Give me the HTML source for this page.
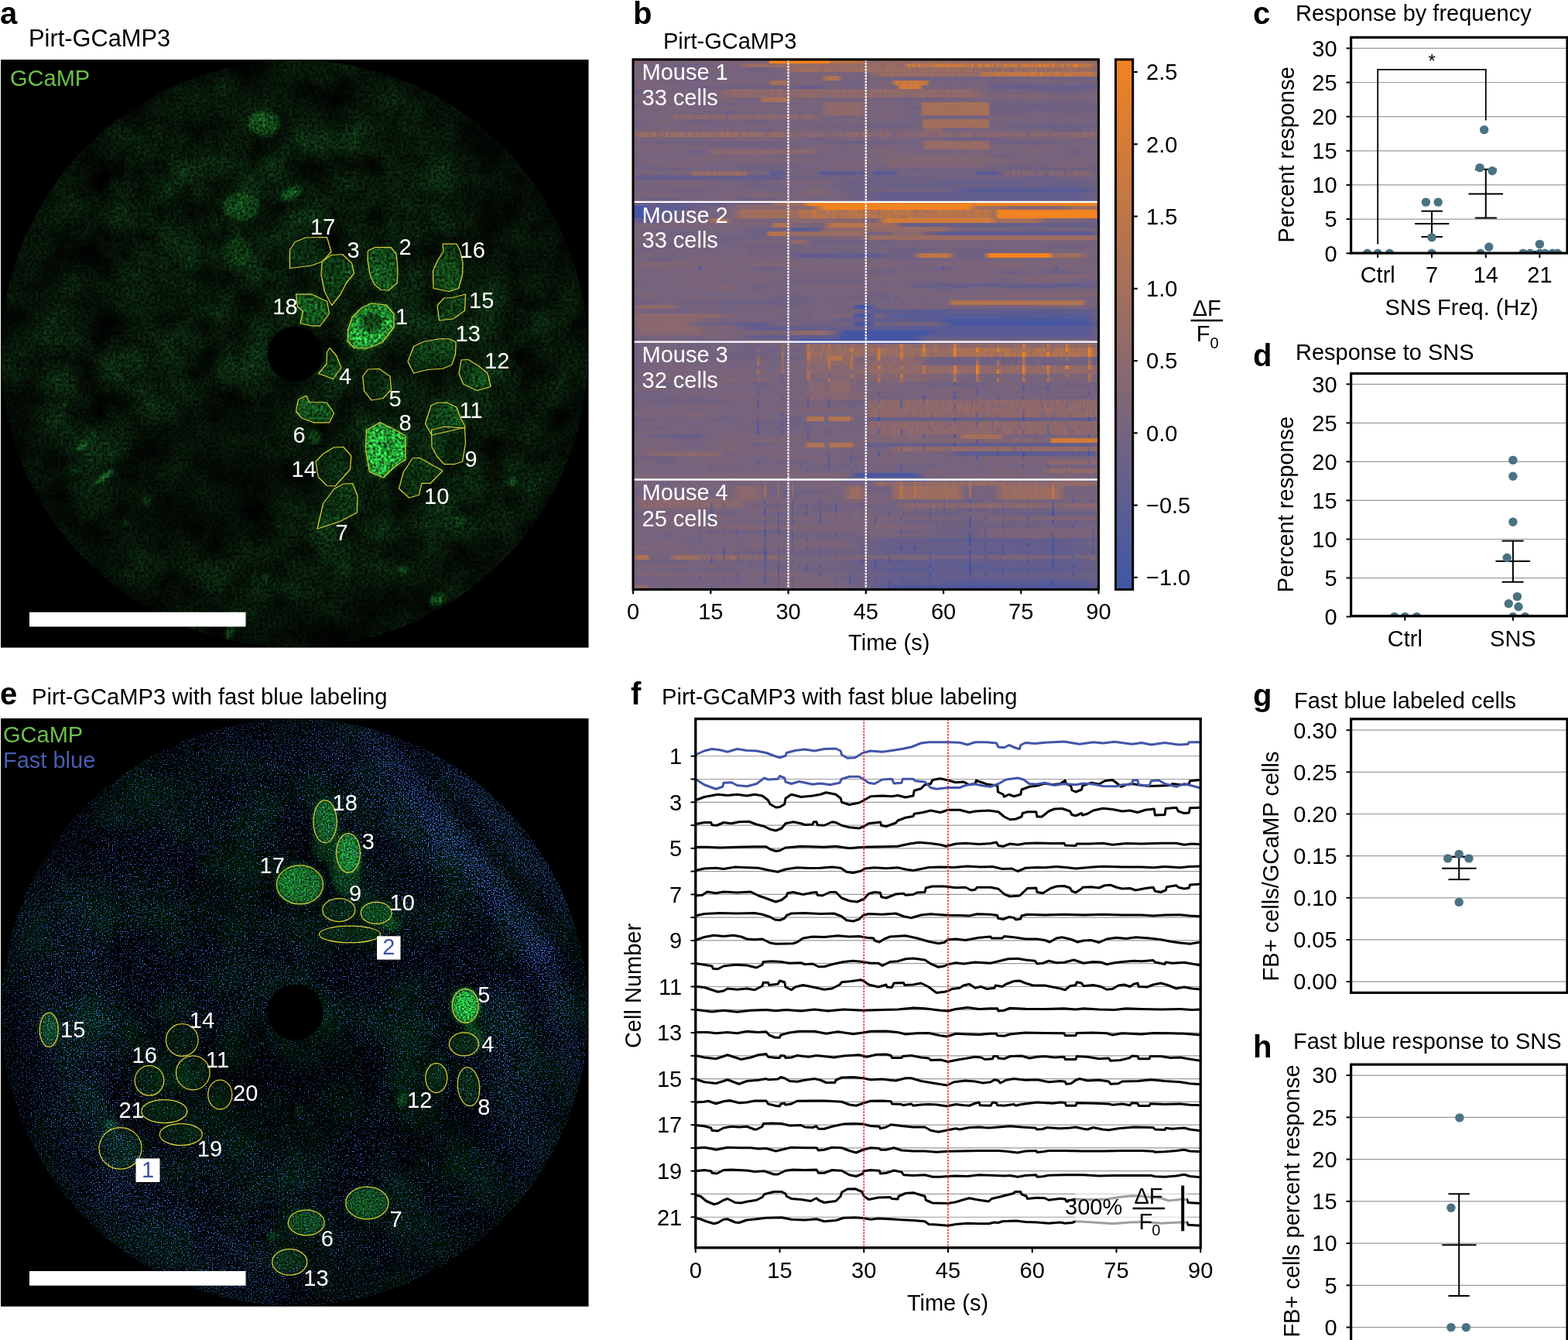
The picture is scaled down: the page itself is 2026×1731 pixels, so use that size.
<!DOCTYPE html>
<html lang="en"><head><meta charset="utf-8"><title>Figure</title>
<style>html,body{margin:0;padding:0;background:#fff}svg{display:block}text{font-family:'Liberation Sans', Arial, Helvetica, sans-serif;white-space:pre}</style></head><body>
<svg width="2026" height="1731" viewBox="0 0 2026 1731" font-family="'Liberation Sans', Arial, Helvetica, sans-serif" font-size="29">
<defs>
<filter id="fa" filterUnits="userSpaceOnUse" x="0" y="76" width="762" height="762" color-interpolation-filters="sRGB">
 <feGaussianBlur in="SourceGraphic" stdDeviation="2.6" result="blob"/>
 <feTurbulence type="fractalNoise" baseFrequency="0.02" numOctaves="4" seed="11" result="t1"/>
 <feColorMatrix in="t1" type="matrix" values="0.07 0 0 0 -0.005  0.26 0 0 0 -0.03  0.1 0 0 0 -0.012  0 0 0 0 1" result="bg"/>
 <feComposite in="blob" in2="bg" operator="arithmetic" k1="0" k2="1" k3="1" k4="0" result="sum"/>
 <feTurbulence type="fractalNoise" baseFrequency="0.28" numOctaves="2" seed="4" result="t2"/>
 <feColorMatrix in="t2" type="matrix" values="1 0 0 0 0  1 0 0 0 0  1 0 0 0 0  0 0 0 0 1" result="gr"/>
 <feComposite in="sum" in2="gr" operator="arithmetic" k1="2.6" k2="-0.3" k3="0" k4="0"/>
</filter>
<filter id="fe" filterUnits="userSpaceOnUse" x="0" y="927" width="762" height="762" color-interpolation-filters="sRGB">
 <feGaussianBlur in="SourceGraphic" stdDeviation="3" result="blob"/>
 <feTurbulence type="fractalNoise" baseFrequency="0.014" numOctaves="3" seed="23" result="t1"/>
 <feColorMatrix in="t1" type="matrix" values="0 0 0 0 0  0.2 0 0 0 -0.065  0.05 0 0 0 -0.015  0 0 0 0 1" result="bg"/>
 <feComposite in="blob" in2="bg" operator="arithmetic" k1="0" k2="1" k3="1" k4="0" result="sum"/>
 <feTurbulence type="fractalNoise" baseFrequency="0.45" numOctaves="2" seed="4" result="t2"/>
 <feColorMatrix in="t2" type="matrix" values="1 0 0 0 0  1 0 0 0 0  1 0 0 0 0  0 0 0 0 1" result="gr"/>
 <feComposite in="sum" in2="gr" operator="arithmetic" k1="2.8" k2="-0.4" k3="0" k4="0"/>
</filter>
<filter id="fb" filterUnits="userSpaceOnUse" x="0" y="927" width="762" height="762" color-interpolation-filters="sRGB">
 <feGaussianBlur in="SourceGraphic" stdDeviation="9" result="dens"/>
 <feTurbulence type="fractalNoise" baseFrequency="0.62" numOctaves="1" seed="31" result="t3"/>
 <feColorMatrix in="t3" type="matrix" values="1 0 0 0 0  1 0 0 0 0  1 0 0 0 0  0 0 0 0 1" result="n3"/>
 <feComposite in="n3" in2="dens" operator="arithmetic" k1="0" k2="5.4" k3="1.5" k4="-3.62" result="v"/>
 <feColorMatrix in="v" type="matrix" values="0.3 0 0 0 0  0.5 0 0 0 0  1 0 0 0 0  0 0 0 0 1"/>
</filter>
<filter id="hz" filterUnits="userSpaceOnUse" x="-50" y="0" width="900" height="1800"><feGaussianBlur stdDeviation="9"/></filter>
<radialGradient id="vg"><stop offset="0" stop-opacity="0"/><stop offset="0.75" stop-opacity="0"/><stop offset="0.94" stop-opacity="0.25"/><stop offset="1" stop-opacity="0.4"/></radialGradient>
<radialGradient id="sh"><stop offset="0" stop-opacity="1"/><stop offset="0.6" stop-opacity="0.7"/><stop offset="1" stop-opacity="0"/></radialGradient>
<clipPath id="ca"><circle cx="380.5" cy="456.8" r="379.3"/></clipPath>
<clipPath id="ce"><circle cx="380.5" cy="1307.8" r="379.3"/></clipPath>
<clipPath id="cc"><rect x="1745.6" y="48.3" width="290" height="278.7"/></clipPath>
<clipPath id="cd"><rect x="1745.6" y="482.5" width="290" height="313.3"/></clipPath>
</defs>
<rect width="2026" height="1731" fill="#fff"/>
<g id="panel-a"><rect x="1" y="77" width="759.5" height="759.6" fill="#000"/>
<g clip-path="url(#ca)"><g filter="url(#fa)">
<rect x="0" y="76" width="762" height="762" fill="#000" fill-opacity="0"/>
<ellipse cx="342" cy="160" rx="20" ry="16" fill="rgb(11,50,16)" />
<ellipse cx="376" cy="250" rx="14" ry="8" fill="rgb(13,61,20)"  transform="rotate(-30 376 250)"/>
<ellipse cx="312" cy="267" rx="24" ry="18" fill="rgb(6,29,9)" />
<ellipse cx="307" cy="325" rx="18" ry="18" fill="rgb(4,22,7)" />
<ellipse cx="105" cy="576" rx="9" ry="2.5" fill="rgb(17,78,25)"  transform="rotate(-35 105 576)"/>
<ellipse cx="135" cy="616" rx="15" ry="2.5" fill="rgb(28,131,43)"  transform="rotate(-35 135 616)"/>
<ellipse cx="407" cy="564" rx="8" ry="9" fill="rgb(12,57,18)" />
<ellipse cx="297" cy="817" rx="4" ry="11" fill="rgb(22,102,33)"  transform="rotate(20 297 817)"/>
<ellipse cx="565" cy="775" rx="11" ry="7" fill="rgb(19,89,29)"  transform="rotate(-30 565 775)"/>
<ellipse cx="520" cy="737" rx="7" ry="5" fill="rgb(10,48,15)" />
<ellipse cx="662" cy="622" rx="3.5" ry="4.5" fill="rgb(22,102,33)" />
<ellipse cx="595" cy="672" rx="9" ry="7" fill="rgb(5,27,8)" />
<ellipse cx="68" cy="455" rx="3" ry="3" fill="rgb(8,40,13)" />
<ellipse cx="190" cy="647" rx="3.5" ry="4.5" fill="rgb(17,78,25)" />
<ellipse cx="163" cy="675" rx="3" ry="3" fill="rgb(12,57,18)" />
<ellipse cx="84" cy="523" rx="2.5" ry="2.5" fill="rgb(12,57,18)" />
<ellipse cx="345" cy="745" rx="3" ry="3" fill="rgb(10,48,15)" />
<ellipse cx="95" cy="608" rx="3" ry="5" fill="rgb(8,40,13)"  transform="rotate(-35 95 608)"/>
<polygon points="374.5,346.5 374.5,322.5 381.25,312.5 395,307 422.5,306.5 428,325.5 416.25,338 402.5,343" fill="rgb(3,17,5)" />
<polygon points="416.25,338 428,329.5 442.5,328.5 454.5,340 457.5,353 447.5,365.5 440,380 428.75,394.5 419.5,377 415,355" fill="rgb(8,40,13)" />
<polygon points="475.5,324 484.5,319.5 505,319.5 512,328 514,347.5 513,365.5 502.5,375 492,374.5 483.75,367.5 478,355 475,335" fill="rgb(11,53,17)" />
<polygon points="572,315 590,315 594.5,324 598,340 597.5,355 592.5,372.5 580,376.5 560,372.5 559.5,350 565,337.5 573,324.5" fill="rgb(11,50,16)" />
<polygon points="565,394.5 573.75,385 585,384.5 601.5,380 600.5,401.25 585.5,412 567.5,413.75" fill="rgb(6,31,10)" />
<polygon points="382.5,380 402.5,380 422.5,389.5 425.5,405 413.75,420.75 402.5,420.75 388,417.5 391.5,402 384.5,396.25" fill="rgb(13,61,20)" />
<polygon points="449.5,426.25 455,410 467.5,397.5 479.5,392 498.75,394 509,405.5 509,422.5 493.75,442.5 473.75,450 457.5,449.5 449.5,441.25" fill="rgb(26,119,39)" />
<polygon points="527,467 534.5,447.5 547.5,441.25 570,437.5 581.25,438 589,442 588.5,457.5 583.75,471.25 572,476.25 552.5,477.5 534.5,482" fill="rgb(7,36,11)" />
<polygon points="596,465 605,464.5 618.75,473 630,482.5 634,499.5 616.25,504.5 598.75,496.25 593,482.5" fill="rgb(8,37,12)" />
<polygon points="426,449.5 435,460 440.75,475 430.5,489.5 411.5,482.5 422,470 422.5,455" fill="rgb(7,33,10)" />
<polygon points="468.75,486.25 475.5,477 490,476.5 504,486.25 505.5,503 495,514.5 480,517 470.5,505" fill="rgb(5,25,8)" />
<polygon points="382.5,531.25 385.5,516.25 395.5,511.25 399.5,519.5 422,520 431.5,533.75 425.5,545.75 405,545.75 390,540" fill="rgb(17,78,25)" />
<polygon points="549.5,547.5 557,523.75 565,520.5 577.5,520 590,526.25 595,540 601.5,552 558,562" fill="rgb(9,43,14)" />
<polygon points="557.5,555.5 573.75,551.25 600.5,553 601.5,572.5 597.5,596.25 587.5,599.5 573.75,599.5 565,590 558,577.5" fill="rgb(3,18,5)" />
<polygon points="473.5,555.5 491.25,545.75 523.75,562.5 523.75,593.75 510,602.5 495.5,617 477.5,609.5 472.5,580" fill="rgb(30,137,45)" />
<polygon points="408,596.25 417.5,586.25 431.25,578 443.75,577.5 453.75,588.75 452.5,606.25 433,628 422.5,627.5 411.25,616.25" fill="rgb(3,18,5)" />
<polygon points="515.5,631.25 521.25,610 533,592 542,591.5 572,608 556.25,624.25 545,624.25 541.25,639.5 528.75,643" fill="rgb(7,34,11)" />
<polygon points="410,683.25 417.5,650.75 431.25,632 443.75,625 455.5,624.5 462,640.75 461.25,662 440,673.25" fill="rgb(4,22,7)" />
<ellipse cx="480" cy="417" rx="15" ry="13" fill="#000" fill-opacity="0.6"/>
<ellipse cx="502" cy="575" rx="9" ry="9" fill="#000" fill-opacity="0.3"/>
</g>
<circle cx="380.5" cy="456.8" r="380" fill="url(#vg)"/>
<ellipse cx="280" cy="620" rx="210" ry="130" fill="url(#sh)" fill-opacity="0.5" transform="rotate(-25 280 620)"/>
<ellipse cx="640" cy="260" rx="100" ry="120" fill="url(#sh)" fill-opacity="0.35" transform="rotate(20 640 260)"/>
<ellipse cx="120" cy="360" rx="90" ry="110" fill="url(#sh)" fill-opacity="0.3" transform="rotate(0 120 360)"/>
<ellipse cx="400" cy="800" rx="150" ry="40" fill="url(#sh)" fill-opacity="0.25" transform="rotate(0 400 800)"/>
<circle cx="381.3" cy="457.5" r="35.5" fill="#000"/>
</g>
<polygon points="374.5,346.5 374.5,322.5 381.25,312.5 395,307 422.5,306.5 428,325.5 416.25,338 402.5,343" fill="none" stroke="#d9cf36" stroke-width="1.25" stroke-linejoin="round"/>
<polygon points="416.25,338 428,329.5 442.5,328.5 454.5,340 457.5,353 447.5,365.5 440,380 428.75,394.5 419.5,377 415,355" fill="none" stroke="#d9cf36" stroke-width="1.25" stroke-linejoin="round"/>
<polygon points="475.5,324 484.5,319.5 505,319.5 512,328 514,347.5 513,365.5 502.5,375 492,374.5 483.75,367.5 478,355 475,335" fill="none" stroke="#d9cf36" stroke-width="1.25" stroke-linejoin="round"/>
<polygon points="572,315 590,315 594.5,324 598,340 597.5,355 592.5,372.5 580,376.5 560,372.5 559.5,350 565,337.5 573,324.5" fill="none" stroke="#d9cf36" stroke-width="1.25" stroke-linejoin="round"/>
<polygon points="565,394.5 573.75,385 585,384.5 601.5,380 600.5,401.25 585.5,412 567.5,413.75" fill="none" stroke="#d9cf36" stroke-width="1.25" stroke-linejoin="round"/>
<polygon points="382.5,380 402.5,380 422.5,389.5 425.5,405 413.75,420.75 402.5,420.75 388,417.5 391.5,402 384.5,396.25" fill="none" stroke="#d9cf36" stroke-width="1.25" stroke-linejoin="round"/>
<polygon points="449.5,426.25 455,410 467.5,397.5 479.5,392 498.75,394 509,405.5 509,422.5 493.75,442.5 473.75,450 457.5,449.5 449.5,441.25" fill="none" stroke="#d9cf36" stroke-width="1.25" stroke-linejoin="round"/>
<polygon points="527,467 534.5,447.5 547.5,441.25 570,437.5 581.25,438 589,442 588.5,457.5 583.75,471.25 572,476.25 552.5,477.5 534.5,482" fill="none" stroke="#d9cf36" stroke-width="1.25" stroke-linejoin="round"/>
<polygon points="596,465 605,464.5 618.75,473 630,482.5 634,499.5 616.25,504.5 598.75,496.25 593,482.5" fill="none" stroke="#d9cf36" stroke-width="1.25" stroke-linejoin="round"/>
<polygon points="426,449.5 435,460 440.75,475 430.5,489.5 411.5,482.5 422,470 422.5,455" fill="none" stroke="#d9cf36" stroke-width="1.25" stroke-linejoin="round"/>
<polygon points="468.75,486.25 475.5,477 490,476.5 504,486.25 505.5,503 495,514.5 480,517 470.5,505" fill="none" stroke="#d9cf36" stroke-width="1.25" stroke-linejoin="round"/>
<polygon points="382.5,531.25 385.5,516.25 395.5,511.25 399.5,519.5 422,520 431.5,533.75 425.5,545.75 405,545.75 390,540" fill="none" stroke="#d9cf36" stroke-width="1.25" stroke-linejoin="round"/>
<polygon points="549.5,547.5 557,523.75 565,520.5 577.5,520 590,526.25 595,540 601.5,552 558,562" fill="none" stroke="#d9cf36" stroke-width="1.25" stroke-linejoin="round"/>
<polygon points="557.5,555.5 573.75,551.25 600.5,553 601.5,572.5 597.5,596.25 587.5,599.5 573.75,599.5 565,590 558,577.5" fill="none" stroke="#d9cf36" stroke-width="1.25" stroke-linejoin="round"/>
<polygon points="473.5,555.5 491.25,545.75 523.75,562.5 523.75,593.75 510,602.5 495.5,617 477.5,609.5 472.5,580" fill="none" stroke="#d9cf36" stroke-width="1.25" stroke-linejoin="round"/>
<polygon points="408,596.25 417.5,586.25 431.25,578 443.75,577.5 453.75,588.75 452.5,606.25 433,628 422.5,627.5 411.25,616.25" fill="none" stroke="#d9cf36" stroke-width="1.25" stroke-linejoin="round"/>
<polygon points="515.5,631.25 521.25,610 533,592 542,591.5 572,608 556.25,624.25 545,624.25 541.25,639.5 528.75,643" fill="none" stroke="#d9cf36" stroke-width="1.25" stroke-linejoin="round"/>
<polygon points="410,683.25 417.5,650.75 431.25,632 443.75,625 455.5,624.5 462,640.75 461.25,662 440,673.25" fill="none" stroke="#d9cf36" stroke-width="1.25" stroke-linejoin="round"/>
<text x="401" y="302.5" fill="#fff">17</text>
<text x="448.5" y="332.5" fill="#fff">3</text>
<text x="515.5" y="328.8" fill="#fff">2</text>
<text x="594.5" y="333" fill="#fff">16</text>
<text x="606" y="397.5" fill="#fff">15</text>
<text x="352.3" y="406" fill="#fff">18</text>
<text x="511" y="418.8" fill="#fff">1</text>
<text x="588.5" y="441" fill="#fff">13</text>
<text x="626" y="475.8" fill="#fff">12</text>
<text x="438" y="496" fill="#fff">4</text>
<text x="502.5" y="525" fill="#fff">5</text>
<text x="593.5" y="539.5" fill="#fff">11</text>
<text x="378.5" y="571.8" fill="#fff">6</text>
<text x="515.5" y="556" fill="#fff">8</text>
<text x="600.5" y="603" fill="#fff">9</text>
<text x="376.5" y="615.5" fill="#fff">14</text>
<text x="548" y="650.8" fill="#fff">10</text>
<text x="433.5" y="698" fill="#fff">7</text>
<text x="13" y="111" fill="#6cc04a">GCaMP</text>
<rect x="38" y="790.8" width="279.5" height="18.7" fill="#fff"/>
<text x="0" y="31" font-size="40" font-weight="bold">a</text>
<text x="37" y="59.6" font-size="30.8">Pirt-GCaMP3</text></g>
<g id="panel-b"><rect x="818.1" y="77" width="601.38" height="684.2" fill="#76637d"/>
<g transform="translate(818.1,76.2) scale(2.22733,5.5711)" fill="none" stroke-width="1.05" shape-rendering="crispEdges">
<path stroke="#3e54a8" d="M226 91.5h1m37 0h1M155 96.5h1M195 111.5h1M229 112.5h1M163 113.5h1m79 0h1M172 117.5h1m22 0h1m47 0h1m11 0h1M195 118.5h1m18 0h1M243 121.5h1M148 122.5h1m23 0h1m22 0h1m8 0h1m9 0h1"/>
<path stroke="#4355a4" d="M1 34.5h7M1 35.5h6M1 36.5h6M130 57.5h7M233 61.5h6m2 0h1M123 63.5h48M121 64.5h42M139 65.5h1m2 0h2m1 0h1m1 0h1M142 83.5h1m121 0h1M214 113.5h1M140 116.5h1m88 0h1m13 0h1M140 117.5h1M172 119.5h1M180 121.5h1"/>
<path stroke="#4857a0" d="M7 35.5h1M7 36.5h1M130 59.5h7M182 60.5h76m1 0h2M130 61.5h7m50 0h46m6 0h2m1 0h21M120 64.5h1m42 0h1M98 65.5h41m1 0h2m2 0h1m1 0h1m1 0h15M226 83.5h1M186 89.5h1M211 91.5h1M130 96.5h25m1 0h4m1 0h1M243 105.5h1M195 112.5h1M155 113.5h1M76 114.5h1m95 0h1m41 0h1m51 0h1M132 116.5h1m15 0h1M148 118.5h1m80 0h1M255 119.5h1M148 121.5h1m23 0h1"/>
<path stroke="#4d589c" d="M129 57.5h1m7 0h1M137 59.5h1M180 60.5h2m76 0h1m2 0h1M129 61.5h1m7 0h1m47 0h2m76 0h1M122 63.5h1m48 0h1M164 64.5h1M96 65.5h2m65 0h1M168 78.5h1M186 83.5h1M72 86.5h1m13 0h1M160 96.5h1m1 0h2M195 102.5h1M117 103.5h1M243 104.5h1M148 105.5h1M195 106.5h1M195 107.5h1m47 0h1M255 108.5h1M76 109.5h1m7 0h1M76 110.5h1M266 111.5h1M204 112.5h1m38 0h1M52 114.5h1m79 0h1m62 0h1m47 0h1M155 116.5h1M100 117.5h1M84 118.5h1m15 0h1m54 0h1M155 120.5h1M151 122.5h21m1 0h22m1 0h8m1 0h9m1 0h46"/>
<path stroke="#525998" d="M110 26.5h1m1 0h1m5 0h1M0 34.5h1m7 0h1M0 35.5h1m7 0h1M0 36.5h1m7 0h1M38 48.5h1m140 0h1m65 0h1M129 59.5h1M178 60.5h2m82 0h2M184 61.5h1m79 0h2M121 63.5h1m50 0h2m78 0h1M119 64.5h1m45 0h1M95 65.5h1m68 0h1M226 76.5h1M186 78.5h1M113 79.5h1M101 80.5h1M86 82.5h1M101 87.5h1m84 0h1M142 91.5h1M113 92.5h1m12 0h1m72 0h1M113 94.5h1m41 0h1m84 0h1M101 95.5h1M129 96.5h1m34 0h1M264 97.5h1M266 102.5h1M100 103.5h1M117 104.5h1m62 0h1m14 0h1M100 105.5h1m71 0h1M108 106.5h1M92 107.5h1M229 108.5h1M92 110.5h1m24 0h1m77 0h1M100 111.5h1m142 0h1M52 113.5h1m47 0h1m103 0h1m61 0h1M195 115.5h1m59 0h1M45 116.5h1m149 0h1M108 117.5h1M125 119.5h1m69 0h1m8 0h1M76 120.5h1m7 0h1m40 0h1m14 0h1M149 122.5h2m110 0h3"/>
<path stroke="#585b95" d="M109 26.5h1m1 0h1m10 0h1m1 0h2m2 0h1m3 0h1m7 0h4m1 0h2m2 0h1m49 0h12M193 30.5h69M39 48.5h1M128 57.5h1m9 0h1M151 59.5h113M176 60.5h2m86 0h2M128 61.5h1m9 0h1m43 0h2m82 0h1M138 62.5h126M120 63.5h1m53 0h2m3 0h73m1 0h11M117 64.5h2m47 0h1M94 65.5h1m70 0h2M86 73.5h1M186 75.5h1m53 0h1M264 77.5h1M211 78.5h1m28 0h1M101 79.5h1M72 80.5h1M86 84.5h1M72 85.5h1M113 86.5h1M126 95.5h1M163 102.5h1m16 0h1m74 0h1M84 103.5h1m23 0h1M76 104.5h1m137 0h1M76 105.5h1m7 0h1M84 106.5h1m144 0h1M84 107.5h1m23 0h1M84 108.5h1m129 0h1M60 109.5h1m94 0h1M214 110.5h1m51 0h1M38 111.5h1m53 0h1M108 113.5h1M108 114.5h1m8 0h1M76 115.5h1M76 116.5h1M84 117.5h1M84 119.5h1m23 0h1M38 120.5h1m53 0h1m24 0h1M60 121.5h1m64 0h1m59 0h58m1 0h17M45 122.5h1m100 0h2m116 0h3"/>
<path stroke="#5d5c91" d="M80 26.5h7m27 0h2m3 0h1m1 0h1m1 0h1m20 0h1m2 0h2m1 0h2M191 30.5h2m69 0h3M9 34.5h1m3 0h20M9 35.5h1m4 0h2m3 0h1M9 36.5h1m9 0h1M94 39.5h12M178 40.5h88M180 48.5h1M139 58.5h5m1 0h1m1 0h1m1 0h2m3 0h1m1 0h1m1 0h1m1 0h1m1 0h19m1 0h1m31 0h4m1 0h4m1 0h4m1 0h13m1 0h5m6 0h1m1 0h1m5 0h1M138 59.5h1m11 0h1m113 0h1M138 60.5h1m2 0h2m1 0h4m1 0h1m10 0h1m1 0h1m2 0h11m90 0h1M64 61.5h1m3 0h1m112 0h1m85 0h2M136 62.5h2m126 0h1M119 63.5h1m56 0h3m85 0h2M80 64.5h1m1 0h1m10 0h1m3 0h1m2 0h12m3 0h2m50 0h2m9 0h1m1 0h1m1 0h2m1 0h2m18 0h1m2 0h1m1 0h1m1 0h5m1 0h2m2 0h2m15 0h1m13 0h1m3 0h2m3 0h1M93 65.5h1m73 0h1M240 76.5h1M142 77.5h1m43 0h1M86 78.5h1m139 0h1M113 80.5h1M72 84.5h1m53 0h1M101 85.5h1M101 86.5h1M168 87.5h1m95 0h1M199 88.5h1M126 91.5h1m64 0h2m1 0h1m1 0h4m1 0h8m1 0h1m1 0h14m1 0h18m1 0h4M72 93.5h1m53 0h1M128 96.5h1m36 0h1M124 97.5h47M92 102.5h1m15 0h1M132 103.5h1M92 104.5h1M45 105.5h1m62 0h1M45 106.5h1m94 0h1m39 0h1M140 107.5h1M38 108.5h1m156 0h1M45 109.5h1m46 0h1M60 110.5h1m39 0h1m142 0h1M84 113.5h1M100 114.5h1M204 115.5h1m24 0h1M84 116.5h1m7 0h1m83 0h1m3 0h2M165 117.5h1m5 0h1m9 0h1m4 0h9m1 0h11m41 0h1M149 118.5h6m1 0h16m1 0h1m22 0h1m4 0h1m1 0h11m1 0h14m1 0h22m1 0h1M60 119.5h1M193 120.5h1m3 0h4m5 0h1m4 0h1m17 0h2m2 0h1m2 0h1M76 121.5h1m7 0h1m68 0h1m1 0h12m1 0h1m9 0h1m2 0h4m76 0h4M84 122.5h1m58 0h3m121 0h2"/>
<path stroke="#625d8d" d="M108 26.5h1m4 0h1m2 0h2m2 0h1m5 0h2m3 0h1m1 0h1m5 0h1m71 0h1M3 27.5h28m1 0h10m1 0h1m1 0h4m3 0h1m2 0h7m1 0h3m1 0h18M188 30.5h3m74 0h2M144 31.5h115M143 32.5h115M9 33.5h1m3 0h17m1 0h1m7 0h1m3 0h1m1 0h1M10 34.5h3m20 0h2M11 35.5h3m2 0h3m1 0h5M12 36.5h7m1 0h4M3 37.5h13M93 39.5h1m12 0h1M176 40.5h2m88 0h1M96 45.5h48M221 52.5h1m6 0h1m5 0h2m1 0h1m2 0h1m1 0h5m1 0h10m1 0h1m1 0h1m1 0h1M136 58.5h3m5 0h1m1 0h1m1 0h1m2 0h3m1 0h1m1 0h1m1 0h1m1 0h1m19 0h1m1 0h31m4 0h1m4 0h1m4 0h1m13 0h1m5 0h6m1 0h1m1 0h5m1 0h3M128 59.5h1m19 0h2m115 0h2M123 60.5h15m1 0h2m2 0h1m4 0h1m1 0h10m1 0h1m1 0h2m102 0h2M60 61.5h4m1 0h3m1 0h9m61 0h1m40 0h1m88 0h1M70 62.5h32m31 0h3m129 0h2M266 63.5h1M69 64.5h11m1 0h1m1 0h10m1 0h3m1 0h2m12 0h3m54 0h9m1 0h1m1 0h1m2 0h1m2 0h18m1 0h2m1 0h1m1 0h1m5 0h1m2 0h2m2 0h15m1 0h13m1 0h3m2 0h3m1 0h3M92 65.5h1m75 0h1M211 73.5h1M86 74.5h1M101 75.5h1m124 0h1M199 76.5h1M72 77.5h1m126 0h1M101 78.5h1M72 79.5h1M72 83.5h1M240 86.5h1M192 89.5h1m1 0h14m1 0h9m1 0h3m1 0h11m1 0h26m1 0h1M113 91.5h1m75 0h2m2 0h1m1 0h1m4 0h1m8 0h1m35 0h1m4 0h14m1 0h2M226 92.5h1M113 93.5h1M226 94.5h1M155 95.5h1M127 96.5h1m38 0h1M122 97.5h2m47 0h1m14 0h1m39 0h1M76 102.5h1m152 0h1M45 103.5h1m46 0h1m150 0h1M38 104.5h1m6 0h1m54 0h1m62 0h1m8 0h1M92 105.5h1M92 106.5h1m39 0h1m22 0h1M76 107.5h1M204 109.5h1m61 0h1M52 110.5h1m72 0h1m78 0h1M172 111.5h22m2 0h32m1 0h3m4 0h2m2 0h3m1 0h13M92 112.5h1m112 0h1m1 0h1m2 0h1m1 0h1m1 0h2m1 0h12m1 0h13m1 0h5m1 0h1M76 113.5h1m101 0h2m1 0h1m1 0h2m3 0h1m22 0h1m9 0h1m1 0h2m7 0h1m3 0h1m1 0h5m1 0h13M175 114.5h20m1 0h14m1 0h2m2 0h1m5 0h3m1 0h18m1 0h8m2 0h1M52 115.5h1m31 0h1m63 0h1m23 0h1m70 0h1M142 116.5h5m2 0h6m1 0h7m1 0h12m1 0h3m2 0h11m8 0h1m2 0h6m2 0h15m6 0h2m4 0h4m1 0h11m1 0h1m1 0h1M76 117.5h1m73 0h15m1 0h5m2 0h8m1 0h4m21 0h8m4 0h1m2 0h1m1 0h2m1 0h3m1 0h2m1 0h9m1 0h4m1 0h6m1 0h2M141 118.5h7m24 0h1m1 0h21m2 0h4m1 0h1m49 0h1m1 0h6m1 0h4M168 119.5h1m2 0h1m1 0h1m1 0h12m1 0h1m1 0h1m1 0h2m2 0h1m15 0h4m2 0h2M144 120.5h11m1 0h37m1 0h3m4 0h5m1 0h4m1 0h17m2 0h2m1 0h2m1 0h13M52 121.5h1m93 0h2m1 0h4m1 0h1m12 0h1m1 0h3m1 0h5m1 0h1m85 0h4M92 122.5h1m24 0h1m23 0h2m126 0h1"/>
<path stroke="#675f89" d="M95 6.5h14m99 0h60M234 15.5h1m3 0h1m13 0h1M79 26.5h1m7 0h1m41 0h2m21 0h1m45 0h1M1 27.5h2m28 0h1m10 0h1m1 0h1m4 0h3m1 0h2m7 0h1m3 0h1m18 0h2m146 0h4m2 0h1M172 28.5h1m1 0h1m1 0h42m1 0h6m1 0h1m1 0h1m10 0h1m3 0h14M134 29.5h1m1 0h1m11 0h1m2 0h1m1 0h1m1 0h22m1 0h8m1 0h1m1 0h1m10 0h1m8 0h1m1 0h1m2 0h7m2 0h4m4 0h1m6 0h1m2 0h19M185 30.5h3m79 0h2M138 31.5h6m115 0h4M133 32.5h1m1 0h8m115 0h7M5 33.5h4m1 0h3m17 0h1m1 0h7m1 0h3m1 0h1m1 0h5M35 34.5h3M10 35.5h1m14 0h1M10 36.5h2m12 0h3M1 37.5h2m13 0h2M159 38.5h108M92 39.5h1m14 0h1M175 40.5h1m91 0h2M94 45.5h2m48 0h3M164 52.5h57m1 0h6m1 0h5m2 0h1m1 0h2m1 0h1m5 0h1m10 0h1m1 0h1m1 0h1m1 0h2M127 57.5h1m11 0h1M134 58.5h2m130 0h2M139 59.5h1m6 0h2m119 0h1M121 60.5h2m146 0h1M58 61.5h2m18 0h1m48 0h1m50 0h2M67 62.5h3m32 0h31m134 0h1M118 63.5h1m148 0h2M67 64.5h2m197 0h2M90 65.5h2m77 0h1M155 80.5h1m84 0h1M137 83.5h5m1 0h43m1 0h39m1 0h37m1 0h5M199 84.5h1M240 85.5h1M142 86.5h1m12 0h1M15 87.5h24M136 89.5h50m1 0h5m1 0h1m14 0h1m9 0h1m3 0h1m11 0h1m26 0h1m1 0h6M187 91.5h2m78 0h1M120 97.5h2m50 0h2M243 102.5h1M239 105.5h1m10 0h1m1 0h1M117 106.5h1m7 0h1m78 0h1m9 0h1M45 107.5h1M38 110.5h1M76 111.5h1m68 0h1m1 0h25m22 0h1m33 0h1m3 0h4m2 0h2m17 0h5M76 112.5h1m66 0h52m1 0h8m2 0h1m1 0h2m1 0h1m1 0h1m2 0h1m32 0h1m1 0h10M92 113.5h1m50 0h12m1 0h7m1 0h14m2 0h1m1 0h1m2 0h3m1 0h15m1 0h6m1 0h2m1 0h6m1 0h1m2 0h7m1 0h3m1 0h1m19 0h8M147 114.5h2m2 0h21m1 0h2m35 0h1m2 0h1m2 0h5m3 0h1m27 0h2m1 0h8M45 115.5h1M131 116.5h1m1 0h7m1 0h1m5 0h1m15 0h1m29 0h2m1 0h5m1 0h2m6 0h2m15 0h2m1 0h3m2 0h4m16 0h1m1 0h1m1 0h7M138 117.5h2m1 0h9m65 0h4m1 0h2m1 0h1m2 0h1m3 0h1m2 0h1m24 0h8M76 118.5h1m54 0h1m1 0h8m119 0h1m4 0h5M145 119.5h23m1 0h2m3 0h1m12 0h1m1 0h1m1 0h1m2 0h1m2 0h7m1 0h7m4 0h2m2 0h14m2 0h3m2 0h1m1 0h6m10 0h1M136 120.5h1m1 0h2m1 0h3m106 0h9m1 0h2m1 0h1m3 0h1M141 121.5h5m123 0h1M138 122.5h3"/>
<path stroke="#6c6085" d="M53 6.5h1m39 0h2m14 0h2m96 0h1m60 0h1M0 7.5h3m238 0h17M207 10.5h2m1 0h19m1 0h6m2 0h1m1 0h1m2 0h1m1 0h1m12 0h1M227 11.5h19m3 0h1m6 0h1m3 0h1M215 12.5h1M36 14.5h1M139 15.5h2m1 0h1m1 0h4m1 0h1m75 0h1m1 0h7m1 0h3m1 0h13m1 0h9m5 0h1M194 18.5h8m1 0h1M122 19.5h13m2 0h1m1 0h1m1 0h1m1 0h1m69 0h14m1 0h7m1 0h1m5 0h1M163 25.5h1m1 0h1m13 0h1m83 0h1m5 0h1M106 26.5h1m27 0h1m3 0h1m73 0h1m37 0h1M0 27.5h1m86 0h3m6 0h1m3 0h1m3 0h1m5 0h1m25 0h1m2 0h16m66 0h1m3 0h8m4 0h2m1 0h3M123 28.5h1m1 0h47m1 0h1m1 0h1m42 0h1m6 0h1m1 0h1m1 0h10m1 0h3m14 0h10M123 29.5h1m1 0h9m1 0h1m1 0h11m1 0h2m1 0h1m1 0h1m22 0h1m8 0h1m1 0h1m1 0h10m1 0h8m1 0h1m1 0h2m7 0h2m4 0h4m1 0h6m1 0h2m19 0h10M125 30.5h6m1 0h2m49 0h2m84 0h1M132 31.5h6m125 0h5M18 32.5h1m109 0h5m1 0h1m130 0h5M3 33.5h2m46 0h4M38 34.5h2M26 35.5h2M27 36.5h2M0 37.5h1m17 0h1M156 38.5h3m108 0h2M66 39.5h1m2 0h16m6 0h1M173 40.5h2m94 0h1M110 42.5h1m7 0h1m2 0h1m5 0h1M18 43.5h2m232 0h2M157 44.5h1m1 0h5m4 0h1M92 45.5h2m53 0h4m2 0h1m1 0h1m4 0h2m41 0h1M125 51.5h1M162 52.5h2m102 0h3M88 55.5h4m1 0h2M52 56.5h5m1 0h2m2 0h2m1 0h2m1 0h7m2 0h11m1 0h3M132 58.5h2m134 0h2M127 59.5h1m17 0h1m122 0h2M118 60.5h3M43 61.5h1m4 0h1m1 0h1m2 0h1m2 0h2m21 0h1m28 0h2m30 0h1m5 0h1m30 0h1M65 62.5h2m201 0h2M117 63.5h1m151 0h1M65 64.5h2m201 0h2M0 65.5h1m88 0h1m80 0h1M69 67.5h1m1 0h1m2 0h2m2 0h1m1 0h1M113 73.5h1M126 74.5h1M18 75.5h1m172 0h2m4 0h1M252 78.5h1m1 0h1M36 79.5h1m118 0h1M186 80.5h1m64 0h1M135 83.5h2M89 85.5h1m1 0h1M211 86.5h1m14 0h1M13 87.5h2m24 0h1M269 89.5h1M168 90.5h1M185 91.5h2m81 0h2M126 96.5h1m40 0h1M119 97.5h1m54 0h1M87 100.5h5m1 0h2m5 0h1M132 102.5h1M52 103.5h1m52 0h1M200 104.5h1M170 105.5h1m3 0h11m1 0h1m28 0h1m2 0h2m1 0h18m1 0h3m1 0h6m1 0h1m1 0h13M169 107.5h2m5 0h1m2 0h2m56 0h1m7 0h1m1 0h1m1 0h9m2 0h1m1 0h2M45 108.5h1m6 0h1m23 0h1M175 109.5h1m1 0h22M192 110.5h3m1 0h2M136 111.5h9m1 0h1m115 0h4m1 0h2M134 112.5h9m118 0h7M132 113.5h11m122 0h1m1 0h3M77 114.5h1m11 0h1m43 0h1m1 0h12m2 0h2m112 0h3m1 0h3M124 116.5h7m135 0h4M124 117.5h14m128 0h4M118 118.5h1m2 0h3m1 0h6m1 0h1M76 119.5h1m57 0h11m89 0h2m3 0h2m1 0h1m6 0h6m1 0h3m1 0h10M126 120.5h10m1 0h1m121 0h1m2 0h1m1 0h3m1 0h2M130 121.5h2m2 0h7M136 122.5h2"/>
<path stroke="#716181" d="M16 1.5h1m1 0h1m1 0h26m2 0h1m1 0h1M3 2.5h1m1 0h1m61 0h12M32 3.5h1m1 0h12M27 4.5h1m2 0h12m1 0h1m103 0h2m2 0h2m1 0h51m1 0h5m1 0h3m1 0h1m1 0h1m2 0h1m19 0h1m1 0h1m1 0h23m1 0h1M34 5.5h1m84 0h1m1 0h12m83 0h1M35 6.5h10m1 0h7m1 0h17m1 0h21m18 0h3m76 0h1m15 0h1m62 0h1M3 7.5h9m217 0h12m17 0h6M36 9.5h1m114 0h2m1 0h21m1 0h2m3 0h1m68 0h1M0 10.5h5m1 0h2m1 0h2m37 0h1m6 0h1m2 0h1m19 0h1m1 0h2m1 0h1m2 0h6m1 0h1m1 0h1m3 0h1m109 0h1m19 0h1m6 0h2m1 0h1m1 0h2m1 0h1m1 0h12m1 0h10M159 11.5h1m1 0h6m40 0h8m2 0h1m1 0h8m19 0h3m1 0h6m1 0h3m1 0h8M44 12.5h2m2 0h12m2 0h1m99 0h1m44 0h8m1 0h12m16 0h1m2 0h1m1 0h6m1 0h5m3 0h3M157 13.5h1m3 0h2m1 0h2M0 14.5h4m2 0h1m24 0h1m1 0h3m1 0h10m1 0h1m18 0h2m1 0h6m74 0h1m13 0h1m50 0h1m24 0h2m2 0h1m5 0h1m3 0h1M18 15.5h1m30 0h2m2 0h3m1 0h1m37 0h1m1 0h3m2 0h2m1 0h6m1 0h2m1 0h4m1 0h1m3 0h1m3 0h2m1 0h8m2 0h1m1 0h1m4 0h1m1 0h12m45 0h2m2 0h4m1 0h1m1 0h7m1 0h1m35 0h5m1 0h2M243 16.5h17m4 0h1M229 17.5h1M100 18.5h1m4 0h8m51 0h1m4 0h1m6 0h1m5 0h12m8 0h1m1 0h10m3 0h1m9 0h1M4 19.5h1m8 0h5m1 0h4m1 0h52m1 0h3m1 0h4m1 0h5m1 0h1m2 0h1m1 0h1m5 0h1m7 0h2m1 0h8m13 0h2m1 0h1m1 0h1m1 0h1m1 0h10m3 0h1m4 0h1m44 0h6m14 0h1m7 0h1m1 0h5m1 0h6m11 0h1m3 0h1m1 0h3M0 21.5h3m30 0h4m1 0h4m67 0h1m4 0h1m134 0h1m2 0h7M91 22.5h2m15 0h1m102 0h3m1 0h4m1 0h1m1 0h1M0 24.5h5m1 0h1m55 0h18m1 0h6m1 0h2m1 0h3m2 0h2m120 0h1m4 0h1m4 0h1M9 25.5h1m1 0h19m1 0h3m11 0h1m2 0h1m14 0h2m1 0h2m1 0h8m1 0h4m1 0h1m1 0h3m1 0h1m2 0h1m3 0h1m6 0h1m13 0h1m19 0h1m4 0h1m1 0h5m1 0h13m1 0h1m1 0h13m1 0h18m1 0h1m1 0h1m1 0h1m1 0h6m1 0h1m2 0h16m1 0h31m1 0h5M70 26.5h1m2 0h1m4 0h1m9 0h1m16 0h1m1 0h1m45 0h2m42 0h1m15 0h2m3 0h1m15 0h1m5 0h1M90 27.5h6m1 0h3m1 0h3m1 0h5m1 0h14m1 0h1m1 0h8m1 0h2m16 0h54m1 0h6m1 0h4m1 0h3m18 0h7m8 0h2m9 0h1M56 28.5h1m3 0h1m4 0h11m42 0h5m1 0h1m142 0h3M3 29.5h1m2 0h2m53 0h1m1 0h20m1 0h2m28 0h9m1 0h1M12 30.5h1m1 0h1m4 0h1m3 0h1m1 0h19m2 0h1m34 0h2m2 0h6m28 0h6m6 0h1m2 0h26m1 0h4m1 0h1m1 0h1m1 0h1m1 0h5m1 0h1m1 0h3M125 31.5h7m136 0h2M5 32.5h13m1 0h8m1 0h1m30 0h2m1 0h22m7 0h1m8 0h2m1 0h1m1 0h4m1 0h1m4 0h1m1 0h1m3 0h7M0 33.5h3m52 0h4M40 34.5h4m1 0h1m1 0h1M28 35.5h2m23 0h1M29 36.5h2m3 0h2m2 0h2m2 0h1m2 0h2m8 0h1M19 37.5h2m241 0h1m1 0h6M155 38.5h1m113 0h1M64 39.5h2m1 0h2m16 0h6m17 0h1m111 0h2m2 0h16m1 0h1M16 40.5h23m2 0h1m23 0h2m1 0h9m95 0h1M40 41.5h1m4 0h30m2 0h1M21 42.5h1m27 0h10m2 0h1m41 0h7m1 0h7m1 0h2m1 0h5m1 0h10m2 0h1m3 0h5m2 0h1m53 0h1M3 43.5h1m1 0h1m1 0h11m2 0h15m9 0h2m2 0h1m2 0h1m3 0h2m3 0h2m3 0h8m1 0h7m1 0h8m1 0h2m1 0h1m1 0h2m4 0h1m2 0h2m1 0h1m3 0h1m35 0h1m1 0h1m11 0h1m1 0h1m74 0h5m1 0h7m2 0h6m1 0h3M0 44.5h1m1 0h8m1 0h1m17 0h1m37 0h2m5 0h2m2 0h2m4 0h1m2 0h1m1 0h1m3 0h1m1 0h1m2 0h1m16 0h2m1 0h1m1 0h10m2 0h1m1 0h1m2 0h1m11 0h8m1 0h1m5 0h4m1 0h6m1 0h1m8 0h1m2 0h24m1 0h2m2 0h1M19 45.5h4m1 0h1m3 0h1m61 0h2m59 0h2m1 0h1m1 0h4m28 0h15m64 0h3M10 46.5h13m94 0h1m4 0h1m2 0h1m26 0h5m1 0h8m1 0h2m4 0h3m6 0h1M37 48.5h1m33 0h5m1 0h5m1 0h2m2 0h2m71 0h1m3 0h2m1 0h1m1 0h3m1 0h1m1 0h4m2 0h4m59 0h1M0 49.5h1m76 0h1m1 0h1m41 0h1m5 0h1m5 0h3m1 0h4m1 0h4m1 0h2m1 0h2m5 0h1m2 0h1m49 0h15m1 0h2m1 0h1m6 0h3m1 0h1m2 0h13m1 0h1M4 51.5h1m81 0h1m1 0h1m1 0h35m1 0h5m1 0h3m77 0h6m43 0h4m1 0h4M71 52.5h3m1 0h5m63 0h2m1 0h1m3 0h1m9 0h2m107 0h1M70 53.5h5m1 0h1m97 0h11m3 0h1m39 0h1M36 54.5h1m5 0h1m4 0h1m38 0h1m1 0h3m2 0h1m1 0h2m41 0h2m1 0h5m1 0h1m2 0h1M78 55.5h2m1 0h7m4 0h1m2 0h8m1 0h1m11 0h1m1 0h1m1 0h1m2 0h1m2 0h6m1 0h6m1 0h9m3 0h3M0 56.5h10m1 0h2m2 0h1m8 0h1m3 0h1m1 0h2m1 0h1m1 0h17m5 0h1m2 0h2m2 0h1m2 0h1m7 0h2m11 0h1m3 0h13m8 0h1m2 0h1m3 0h1m13 0h1m1 0h2m1 0h2m3 0h1m2 0h2m2 0h1m4 0h1m11 0h1M31 57.5h1m49 0h1m3 0h1m1 0h2m2 0h2m1 0h1m31 0h1m13 0h1m66 0h1m4 0h1m1 0h2m1 0h1m2 0h1m47 0h2M9 58.5h2m1 0h17m1 0h2m7 0h1m4 0h2m1 0h2m2 0h7m45 0h1m5 0h1m10 0h1m4 0h1m2 0h1m1 0h2M84 59.5h1m3 0h1m2 0h1m2 0h1m7 0h1m40 0h2M86 60.5h1m1 0h6m1 0h2m3 0h3m13 0h2M36 61.5h7m1 0h4m1 0h1m1 0h2m1 0h2m24 0h2m13 0h1m2 0h3m1 0h6m2 0h12m1 0h2m1 0h1m14 0h5m1 0h6m2 0h3m17 0h2M62 62.5h3M0 64.5h3m1 0h1m3 0h1m20 0h1m3 0h1m2 0h1m2 0h1m23 0h2M1 65.5h7m26 0h18m36 0h1m82 0h2m36 0h1m1 0h1m1 0h4m1 0h5m2 0h1M12 66.5h1m9 0h1m2 0h18m19 0h1m1 0h4m1 0h7M0 67.5h4m4 0h1m21 0h13m1 0h1m16 0h8m1 0h1m5 0h2m1 0h1m1 0h3m1 0h1m2 0h2m2 0h1m1 0h2m1 0h1M44 68.5h1m3 0h1m1 0h30m1 0h1M0 69.5h3m1 0h3m1 0h6m2 0h2m3 0h1m1 0h1m19 0h29m2 0h12m2 0h8m2 0h1m73 0h27m2 0h25m2 0h6m1 0h1m1 0h3m2 0h1m5 0h1m5 0h1m2 0h6m3 0h4M34 70.5h3m4 0h1m129 0h28m2 0h10m2 0h3m1 0h1m3 0h2m1 0h1m5 0h3m3 0h28m2 0h3M0 71.5h6m44 0h1m1 0h1m2 0h1m2 0h2m1 0h1m2 0h2m5 0h3M2 74.5h1M7 75.5h11m1 0h8m42 0h9m1 0h1m46 0h1m40 0h1m1 0h1m1 0h15m1 0h4m2 0h4m1 0h7m37 0h1m6 0h4m1 0h16M72 76.5h1m2 0h2m150 0h1m1 0h11m1 0h2m2 0h1M1 77.5h1m1 0h1m1 0h2m1 0h3m1 0h1m2 0h1m3 0h1m214 0h1m18 0h1M1 78.5h1m3 0h1m2 0h3m1 0h2m1 0h9m2 0h2m3 0h1m2 0h5m102 0h1m1 0h4m2 0h5m1 0h3m6 0h1m2 0h1m8 0h1m41 0h1m23 0h2m2 0h6m1 0h1m1 0h9m1 0h2M2 79.5h1m1 0h2m1 0h1m1 0h1m1 0h5m1 0h19m1 0h18m1 0h1m2 0h1m25 0h1m1 0h2m1 0h1m2 0h1m20 0h1m5 0h13m35 0h1M123 80.5h6m4 0h1m77 0h1M199 82.5h1m26 0h1M1 83.5h3m1 0h8m2 0h1m5 0h2m1 0h1m4 0h1m1 0h1m7 0h1m2 0h3m1 0h12m4 0h1m23 0h12m36 0h1M60 84.5h1m8 0h1m1 0h1m1 0h2m1 0h2m1 0h4m1 0h2m1 0h10m1 0h4m1 0h1m2 0h1M0 85.5h4m2 0h2m2 0h8m1 0h1m2 0h1m39 0h1m1 0h1m6 0h1m4 0h13m1 0h1m1 0h5m1 0h3m2 0h1m18 0h1m2 0h1m4 0h1m1 0h1M34 86.5h1m2 0h1m33 0h1m8 0h1M10 87.5h3m27 0h2m84 0h1m106 0h3m1 0h1M35 88.5h1m1 0h2M31 89.5h5m1 0h1m31 0h7m1 0h2m1 0h2m53 0h1M143 90.5h1M183 91.5h2M2 92.5h1m1 0h4m1 0h14m100 0h3m1 0h7m2 0h1M14 93.5h4m1 0h6m49 0h1m7 0h15m1 0h2m28 0h1m55 0h1m8 0h1m70 0h1M43 94.5h3m1 0h5m1 0h5m1 0h2m2 0h1m31 0h1m1 0h2m2 0h12m1 0h13m1 0h3m1 0h2m1 0h2m4 0h1m1 0h1m4 0h1m1 0h2m1 0h2m1 0h18m1 0h2m12 0h1m69 0h1m2 0h2m1 0h5M108 95.5h1m2 0h2m1 0h1m1 0h1m31 0h5m1 0h1m2 0h2m2 0h2m3 0h1m34 0h1m49 0h1M117 97.5h2m56 0h2m48 0h1m1 0h1m4 0h1m5 0h1M15 98.5h3m1 0h4m29 0h1m5 0h1M80 99.5h3m2 0h1m32 0h1m17 0h13m49 0h1M0 100.5h9m69 0h6m1 0h2m8 0h5m1 0h9m3 0h1m33 0h2m55 0h1m1 0h1m46 0h4m3 0h2m2 0h1m1 0h1m2 0h1M86 101.5h6m1 0h2M191 102.5h1m1 0h2m1 0h8m60 0h1m3 0h2M38 103.5h1m31 0h14m1 0h1m4 0h1m4 0h5m1 0h4m1 0h2m1 0h8m1 0h4m1 0h3m3 0h1m3 0h18m29 0h1m33 0h1M104 104.5h13m2 0h5m1 0h1m13 0h2m2 0h2m1 0h1m36 0h1m3 0h8m1 0h4m1 0h13m1 0h5m1 0h5m1 0h1m1 0h1m1 0h7m1 0h1m1 0h1m18 0h1M0 105.5h2m35 0h1m1 0h1m3 0h2m1 0h2m1 0h11m21 0h3m2 0h1m1 0h4m1 0h7m1 0h1m1 0h1m39 0h1m1 0h1m4 0h1m5 0h2m1 0h2m1 0h8m1 0h1m1 0h1m11 0h1m1 0h5m16 0h7m1 0h2m2 0h1m45 0h4M196 106.5h1M79 107.5h2m10 0h1m1 0h1m65 0h10m2 0h5m1 0h2m2 0h14m1 0h8m1 0h1m3 0h1m3 0h3m1 0h8m1 0h11m1 0h5m1 0h1m1 0h1m1 0h1m9 0h2m1 0h1m2 0h6M176 108.5h1m2 0h2m1 0h3m1 0h5m1 0h3m1 0h4m1 0h13m1 0h14m1 0h2m1 0h6m2 0h2m1 0h2m1 0h8m6 0h1M42 109.5h2m5 0h1m1 0h9m1 0h15m1 0h7m1 0h5m1 0h1m65 0h18m1 0h1m22 0h2M16 110.5h1m1 0h2m1 0h1m3 0h1m55 0h1m4 0h1m1 0h1m1 0h1m2 0h2m1 0h2m1 0h1m1 0h1m1 0h1m1 0h5m1 0h6m1 0h5m3 0h2m44 0h2m4 0h14m6 0h3M30 111.5h1m77 0h1m1 0h2m1 0h1m15 0h7m133 0h1M33 112.5h4m1 0h1m2 0h1m1 0h1m85 0h5m134 0h2M107 113.5h1m2 0h2m6 0h1m1 0h1m5 0h6M20 114.5h1m20 0h2m15 0h4m1 0h13m2 0h11m1 0h10m1 0h7m1 0h8m1 0h14m2 0h1M60 115.5h1m42 0h1m88 0h1m59 0h1M1 116.5h1m3 0h2m2 0h16m3 0h1m26 0h1m1 0h1m1 0h6m2 0h2m1 0h2m2 0h2m1 0h1m1 0h1m1 0h1m24 0h1m10 0h7M67 117.5h2m1 0h6m1 0h7m1 0h2m1 0h4m3 0h2m19 0h8M17 118.5h2m4 0h2m1 0h4m1 0h1m5 0h1m2 0h5m1 0h2m1 0h7m1 0h2m30 0h1m1 0h5m1 0h3m1 0h17m1 0h2m3 0h1M122 119.5h1m3 0h8M0 120.5h28m1 0h1m1 0h2m2 0h1m5 0h1m1 0h2m1 0h1m1 0h2m2 0h11m5 0h1m4 0h1m3 0h1m2 0h1m6 0h1m2 0h1m29 0h5M8 121.5h1m21 0h2m4 0h1m89 0h4m2 0h2M11 122.5h1m2 0h1m3 0h2m1 0h1m26 0h1m79 0h8"/>
<path stroke="#7b6479" d="M0 0.5h35m1 0h6m1 0h11m1 0h23M0 1.5h5m55 0h1M30 2.5h1m2 0h1m4 0h1m3 0h15m1 0h1m27 0h1M1 3.5h10m1 0h15m56 0h20m1 0h1m1 0h10m1 0h1m17 0h2M52 4.5h1m3 0h1m33 0h1m2 0h4m1 0h1m1 0h1m1 0h1m3 0h4m27 0h2m95 0h1M0 5.5h3m1 0h9m2 0h1m9 0h1m19 0h20m1 0h6m2 0h1m16 0h2m1 0h18m1 0h1m23 0h1m3 0h9m29 0h1m6 0h1m1 0h1m2 0h3m1 0h2m1 0h3m1 0h1m1 0h1m26 0h1m4 0h1m5 0h1m1 0h1m4 0h2m1 0h1m1 0h3m10 0h1M0 6.5h4m1 0h3m1 0h3m1 0h5m1 0h5m112 0h3m3 0h1m2 0h6m1 0h1m16 0h1m25 0h1m1 0h4m2 0h2M48 7.5h3m151 0h3m13 0h1M0 8.5h13m1 0h1m2 0h3m1 0h14m1 0h3m1 0h11m1 0h1m152 0h4m1 0h7m9 0h1m14 0h12m1 0h12m1 0h3M1 9.5h1m1 0h24m22 0h1m1 0h9m1 0h1m30 0h7m1 0h6m1 0h1m4 0h1m5 0h1m2 0h1m1 0h1m2 0h2m10 0h1m51 0h2m1 0h1m1 0h6m1 0h2m1 0h1m1 0h2m9 0h1m1 0h1m5 0h2m1 0h8m29 0h4M109 10.5h1m25 0h1m2 0h1M2 11.5h1m1 0h1m1 0h4m1 0h16m1 0h3m5 0h1m11 0h6m1 0h10m1 0h8m1 0h1m2 0h5m1 0h16m2 0h1m6 0h1m26 0h15m1 0h1M0 12.5h6m4 0h1m14 0h1m46 0h2m1 0h1m6 0h1m16 0h10m126 0h1m33 0h1M18 13.5h3m1 0h1m73 0h1m11 0h1m17 0h1m3 0h1m1 0h1m1 0h1m1 0h17m27 0h2m34 0h1m1 0h2m5 0h2m8 0h1m1 0h1M12 14.5h6m1 0h3m69 0h2m6 0h1m17 0h1m2 0h1m1 0h1m1 0h5M32 15.5h2m2 0h2m1 0h2m22 0h1m2 0h17m1 0h1M1 16.5h2m1 0h15m1 0h11m2 0h2m1 0h3m1 0h1m1 0h9m1 0h2m1 0h13m3 0h1m12 0h18m3 0h1m3 0h1m2 0h1m2 0h1m17 0h2m1 0h1m1 0h3m1 0h8m1 0h1m1 0h9m1 0h5m25 0h13m1 0h2m1 0h1m23 0h1m34 0h1M99 17.5h2m13 0h1m16 0h1m18 0h1m1 0h1m22 0h1m93 0h1M0 18.5h4m1 0h2m1 0h1m11 0h1m17 0h1m5 0h3m1 0h4m1 0h32m38 0h1m1 0h5m1 0h5m1 0h1m4 0h2m1 0h1m1 0h1m96 0h1m3 0h1m1 0h2m2 0h1m1 0h1m4 0h1m2 0h1M0 20.5h4m1 0h3m1 0h32m1 0h1m5 0h1m47 0h1m1 0h1m2 0h21m2 0h3m1 0h3m1 0h2m1 0h3m1 0h13m1 0h1m4 0h1m48 0h34m1 0h2m2 0h3m4 0h5m2 0h10M15 21.5h4m1 0h1m22 0h2m62 0h1m21 0h3m1 0h6m1 0h1m6 0h9m1 0h1m28 0h1m2 0h1m4 0h2m1 0h7m3 0h1m15 0h7m1 0h2m4 0h6m1 0h1m1 0h1M4 22.5h2m28 0h5m1 0h2m1 0h10m1 0h18m1 0h9m63 0h4m57 0h2m29 0h1m16 0h1m4 0h2m1 0h1m5 0h1M0 23.5h19m1 0h2m1 0h30m1 0h2m1 0h2m1 0h4m2 0h40m1 0h1m1 0h3m1 0h23m1 0h9m64 0h2m1 0h15m1 0h3m3 0h1m2 0h1m4 0h1m1 0h2m1 0h5m1 0h16M16 24.5h5m2 0h3m1 0h1m1 0h2m1 0h1m1 0h7m75 0h4m1 0h12m1 0h1m11 0h3m55 0h3m1 0h1m33 0h1m1 0h7m1 0h10M0 25.5h2M1 26.5h1m4 0h1m3 0h1m1 0h1m3 0h1m2 0h1m1 0h4m1 0h3m2 0h2m34 0h1m147 0h2m2 0h1m4 0h2m6 0h2m4 0h1m6 0h1m1 0h1m3 0h1m14 0h1m1 0h1M16 28.5h2m1 0h28m38 0h14m1 0h11M27 29.5h1m6 0h1m4 0h1M99 30.5h3m8 0h4m2 0h1M0 31.5h1m1 0h1m1 0h14m1 0h11m15 0h3m1 0h15m1 0h6m1 0h3m3 0h5m1 0h2m1 0h8m1 0h16m1 0h4m1 0h2m1 0h1M78 33.5h1M57 34.5h2M34 35.5h1m1 0h1m19 0h2M28 37.5h1m1 0h4m1 0h8m14 0h1m1 0h6m1 0h4m1 0h6m1 0h1m1 0h5m1 0h1m52 0h2m99 0h1M0 38.5h5m1 0h48m1 0h5m1 0h1m4 0h14m13 0h8m1 0h2m2 0h1m3 0h1m43 0h1M53 39.5h3m53 0h1m76 0h1m2 0h1m6 0h2m54 0h1m1 0h1M0 40.5h5m1 0h1m1 0h1m138 0h2m20 0h1M0 41.5h1m2 0h2m1 0h2m1 0h2m1 0h5m7 0h1m1 0h1m61 0h4m4 0h1m4 0h1m14 0h15M1 42.5h1m26 0h1m3 0h1m1 0h4m39 0h3m1 0h1m95 0h2m2 0h1m1 0h5m3 0h1m42 0h3m1 0h2m3 0h1m2 0h2m1 0h1m1 0h3m1 0h1m3 0h1m6 0h1M193 43.5h1m4 0h4m1 0h1m1 0h2m1 0h2m1 0h1m2 0h4m8 0h1m3 0h1M52 44.5h1m7 0h1m200 0h5m1 0h3M0 45.5h6m1 0h3m1 0h1m252 0h1M30 46.5h15m1 0h6m1 0h1m1 0h7m1 0h1m1 0h23m1 0h3m123 0h2m25 0h8m1 0h11m1 0h1M22 47.5h1m2 0h1m4 0h1m1 0h1m1 0h1m1 0h13m1 0h3m6 0h6m1 0h2m1 0h1m11 0h1m3 0h1m1 0h1m1 0h1m1 0h2m1 0h1m1 0h3m1 0h4m1 0h10m1 0h7m1 0h31m1 0h1m1 0h1m1 0h3m1 0h15m2 0h2m1 0h13m2 0h1m1 0h12m7 0h36m1 0h3m1 0h1m2 0h1m2 0h1M0 48.5h18m1 0h11m1 0h2m7 0h20m37 0h1m2 0h1m1 0h24m1 0h1m1 0h4m1 0h2m2 0h1m4 0h1m48 0h1m3 0h31m1 0h2m1 0h1m7 0h1m1 0h1m6 0h9m1 0h2m1 0h2m1 0h1M16 49.5h1m2 0h1m3 0h1m6 0h1m9 0h2m1 0h3m1 0h12m2 0h4m122 0h17m2 0h1m57 0h6M0 50.5h2m2 0h1m2 0h2m14 0h1m6 0h2m1 0h12m1 0h6m2 0h1m5 0h1m1 0h25m2 0h1m25 0h2m6 0h1m3 0h2m4 0h5m1 0h26m1 0h6m1 0h33m1 0h12m1 0h1m1 0h14m2 0h1m4 0h1m22 0h4M12 51.5h1m4 0h1m3 0h2m1 0h22m1 0h2m11 0h1m6 0h1m1 0h8m67 0h1m5 0h1m32 0h1m1 0h1m1 0h1m1 0h4m1 0h7m25 0h6m1 0h1m2 0h1m1 0h1m1 0h3m1 0h5m1 0h1m2 0h1M26 52.5h1m6 0h4m2 0h12m1 0h2m2 0h7m34 0h1m9 0h2m1 0h4m1 0h17m1 0h1m19 0h2M25 53.5h2m5 0h5m1 0h24m27 0h1m2 0h1m4 0h2m28 0h1m2 0h2m3 0h3m1 0h1m2 0h6m2 0h3m2 0h1m1 0h2m1 0h1m32 0h1m2 0h13m2 0h2m1 0h2m32 0h2m1 0h8m7 0h1M0 54.5h2m1 0h11m1 0h5m104 0h2m33 0h8m1 0h7m1 0h8m1 0h2m2 0h2m1 0h1m13 0h1m3 0h5M16 55.5h1m13 0h1m1 0h2m2 0h5m2 0h1m25 0h1m115 0h1m1 0h1m2 0h15m1 0h28m1 0h29M263 56.5h1M26 57.5h2m10 0h1m70 0h1m13 0h1m29 0h1m2 0h1m1 0h15m1 0h1m1 0h1m5 0h1m4 0h1m8 0h1m37 0h1m3 0h12m5 0h6M1 58.5h1m81 0h1M56 59.5h6m49 0h1m1 0h9m4 0h1M40 60.5h3m22 0h1m1 0h7M0 61.5h1m31 0h2M0 62.5h2m41 0h8m4 0h5M42 63.5h1m3 0h9m2 0h1m3 0h2m3 0h2m1 0h21m25 0h1M15 64.5h4m26 0h1m3 0h1m1 0h8M17 65.5h3m47 0h1m1 0h1m5 0h1m6 0h1m113 0h1m45 0h2m2 0h4m2 0h2m3 0h1m3 0h1M84 66.5h2m2 0h4m1 0h2M16 67.5h3m1 0h1m28 0h1m23 0h1m25 0h1M99 68.5h1M132 69.5h2m34 0h1m31 0h1M16 70.5h1m3 0h1m30 0h2m1 0h3m38 0h5m68 0h2M15 71.5h2m1 0h2m1 0h1m1 0h2m2 0h2m1 0h2m1 0h1m2 0h1m47 0h2m2 0h12M6 72.5h1m4 0h3m2 0h3m3 0h3m2 0h2m1 0h1m1 0h1m2 0h2m2 0h9m1 0h19m1 0h1m1 0h1m3 0h2m1 0h3m1 0h2m1 0h1m2 0h5m1 0h6M2 73.5h1m1 0h2m1 0h29m1 0h1m1 0h1m1 0h45m1 0h1m1 0h2m1 0h2m1 0h1m2 0h3m13 0h1m1 0h1m12 0h1m38 0h2m2 0h14m2 0h1m4 0h1m14 0h1m4 0h1m2 0h1m6 0h1m19 0h2m1 0h2m1 0h2m2 0h6m1 0h2M10 74.5h21m3 0h1m1 0h15m1 0h1m8 0h1m4 0h3m1 0h2m2 0h1m1 0h10m1 0h4m2 0h1m1 0h2m1 0h3m5 0h2m3 0h1m25 0h1m2 0h1m30 0h8m5 0h2m6 0h1m2 0h3m3 0h2m17 0h1m1 0h1m7 0h4m1 0h5m3 0h1m1 0h1m2 0h3m3 0h10m2 0h1m1 0h2M34 75.5h13m2 0h3m2 0h1m1 0h1m43 0h1m11 0h1m15 0h1m4 0h1m8 0h1m1 0h6m1 0h2m4 0h2m53 0h12m1 0h1m1 0h1m1 0h1M0 76.5h16m1 0h1m24 0h1m6 0h1m38 0h5m7 0h1m11 0h1m13 0h1m2 0h5m1 0h5m1 0h5m2 0h4m1 0h2m1 0h1m1 0h1m5 0h3m1 0h3m1 0h18m1 0h2m9 0h1m2 0h1m60 0h1M29 77.5h2m3 0h11m1 0h2m1 0h3m1 0h3m1 0h2m1 0h12m1 0h2m1 0h2m1 0h1m18 0h2m34 0h1m1 0h2m1 0h1m1 0h1m1 0h2m1 0h1m20 0h1m3 0h2m2 0h10m2 0h9m1 0h1m2 0h1m4 0h2m9 0h1M51 78.5h11m2 0h1m18 0h1m4 0h1m1 0h1m1 0h1m1 0h3m1 0h2m12 0h1m22 0h2m56 0h10m5 0h1m24 0h1M71 79.5h1m35 0h1m27 0h1m60 0h1m2 0h1M22 80.5h1m3 0h1m4 0h6m2 0h1m1 0h1m1 0h2m1 0h3m10 0h1m2 0h2m1 0h3m1 0h3m1 0h9m14 0h1m1 0h3m1 0h2m2 0h4m1 0h1m23 0h1m60 0h1M10 81.5h4m1 0h1m1 0h4m2 0h2m1 0h1m3 0h4m1 0h1m12 0h1m4 0h1m20 0h1m5 0h1m3 0h7m1 0h41m1 0h1M3 82.5h14m1 0h1m2 0h8m1 0h1m10 0h9m25 0h1m29 0h1m1 0h1m23 0h1m2 0h1m108 0h1M68 83.5h1m1 0h2m1 0h4m34 0h2M16 84.5h2m117 0h1m14 0h1M56 85.5h1m114 0h1m21 0h1m26 0h1m6 0h1m26 0h1M0 86.5h11m1 0h2m2 0h5m1 0h1m2 0h1m25 0h2m1 0h2m2 0h1m44 0h1m1 0h1m2 0h2m26 0h1m19 0h1m97 0h1M45 87.5h7m1 0h2m1 0h16m1 0h2m1 0h1m3 0h1m1 0h1m2 0h1m1 0h1m2 0h4m1 0h1m1 0h4m2 0h2m1 0h1m2 0h4m20 0h5m36 0h7m1 0h4m1 0h2m26 0h3m27 0h6m1 0h12m1 0h5M0 88.5h22m1 0h2m23 0h3m1 0h15m1 0h4m2 0h1m1 0h1m2 0h1m1 0h5m7 0h3m1 0h7m1 0h1m6 0h3m1 0h7m1 0h1m2 0h7m1 0h1M2 89.5h1m4 0h1m9 0h2m1 0h1m21 0h1m3 0h7m2 0h7m31 0h1m4 0h1m13 0h1m15 0h5M0 90.5h4m1 0h16m4 0h1m15 0h1m3 0h2m1 0h3m2 0h1m2 0h1m2 0h1m1 0h22m1 0h31m1 0h1m7 0h2m22 0h1M0 91.5h8m43 0h3m10 0h1m1 0h1m1 0h1m2 0h6m3 0h1m1 0h1m2 0h1m1 0h2m3 0h1m47 0h2m1 0h2m1 0h1m2 0h8m2 0h4m2 0h1m1 0h4m2 0h1m2 0h1M31 92.5h2m1 0h22m1 0h2m2 0h1m19 0h2m1 0h9m1 0h16m34 0h1m5 0h1m3 0h16m1 0h4m3 0h1m16 0h2m3 0h1m1 0h1m1 0h1m1 0h4m1 0h1m1 0h13m1 0h21m1 0h1m4 0h1m2 0h1m2 0h1m5 0h1m1 0h2M0 93.5h1m1 0h1m1 0h1m37 0h11m1 0h11m76 0h9m1 0h1m2 0h1m50 0h1m4 0h2m1 0h26M232 94.5h1m3 0h3m8 0h1M2 95.5h1m32 0h3m1 0h1m1 0h1m1 0h1m34 0h1m2 0h2m1 0h2m1 0h13m72 0h1m1 0h10m1 0h2m21 0h7m2 0h1m1 0h10m2 0h1m1 0h1m3 0h1M2 96.5h2m1 0h22m1 0h7m1 0h63m1 0h2m1 0h2m3 0h1m1 0h1m2 0h2m2 0h1m5 0h2m44 0h8m3 0h1m3 0h2m2 0h58m1 0h2m7 0h7m2 0h1M5 97.5h1m2 0h1m5 0h1m4 0h1m21 0h1m5 0h11m1 0h6m1 0h2m1 0h3m2 0h1m27 0h1m1 0h1m2 0h4m2 0h1m1 0h1m129 0h19m1 0h5M0 98.5h7m66 0h1m24 0h1m2 0h1m1 0h18m3 0h1m3 0h1m2 0h1m7 0h1M0 99.5h1m1 0h1m3 0h2m1 0h1m2 0h1m2 0h5m1 0h3m2 0h6m1 0h4m1 0h1m1 0h2m1 0h1m1 0h2m2 0h1m2 0h6m16 0h1m27 0h1m1 0h1m1 0h3m1 0h1m11 0h1m11 0h1m67 0h1m47 0h1m4 0h1M18 100.5h1m1 0h1m27 0h1m1 0h1m4 0h2m17 0h2m45 0h1m13 0h2m12 0h1m42 0h1m17 0h1m38 0h1M0 101.5h1m7 0h2m2 0h1m13 0h1m2 0h2m2 0h1m1 0h7m4 0h2m5 0h1m2 0h1m20 0h1m33 0h4m3 0h2m1 0h1m14 0h7m3 0h1m45 0h1m15 0h2m40 0h1m6 0h2m1 0h1m3 0h1m1 0h4M0 102.5h3m64 0h9m1 0h13m1 0h1m1 0h10m14 0h2m2 0h1m1 0h2m1 0h6m1 0h1m1 0h4m1 0h5m1 0h1m3 0h1m27 0h2m1 0h1m29 0h1m3 0h10m1 0h1m3 0h1m1 0h2M0 103.5h4m60 0h4m85 0h1m115 0h1M7 104.5h1m1 0h1m2 0h25m2 0h5m3 0h1m18 0h1m1 0h4m1 0h3m1 0h1m1 0h4m1 0h8m2 0h1m59 0h1m1 0h7m2 0h1m1 0h2m1 0h1M15 105.5h1m56 0h1m42 0h1m3 0h1m1 0h4m2 0h7m1 0h1M9 106.5h18m1 0h15m1 0h1m1 0h15m1 0h4m1 0h1m1 0h1m4 0h2m1 0h2m2 0h3m1 0h7m1 0h9m1 0h3m1 0h1m2 0h7m1 0h7m1 0h2m1 0h3m1 0h7m1 0h14m1 0h2m1 0h6m2 0h1m2 0h1m2 0h1m1 0h1m26 0h2m2 0h1m11 0h1m2 0h1m1 0h2m2 0h2m1 0h1m1 0h1m4 0h1m30 0h2M13 107.5h1m2 0h3m1 0h25m1 0h1m4 0h1m1 0h1m57 0h1m3 0h1m1 0h6m1 0h1m2 0h1m1 0h10m2 0h4M0 108.5h6m1 0h26m2 0h3m1 0h6m2 0h1m11 0h1m11 0h1m11 0h1m2 0h1m5 0h1m3 0h2m2 0h40m5 0h2m1 0h1m1 0h1m1 0h1m1 0h14m101 0h1M109 109.5h1m1 0h1m1 0h2m1 0h1m1 0h1m2 0h2m4 0h1m77 0h55m5 0h1m1 0h2M42 110.5h4m5 0h1m1 0h1m1 0h2m81 0h1m3 0h4m1 0h3m55 0h9m1 0h28m1 0h22m1 0h1M3 111.5h1m49 0h2m1 0h2m1 0h1m3 0h2m6 0h2m5 0h1m10 0h1m3 0h1M4 112.5h13m1 0h1m1 0h5m1 0h1m2 0h1m28 0h1m1 0h1m4 0h1m1 0h1m1 0h1m1 0h3m1 0h1m1 0h3m1 0h1m1 0h1m1 0h7m1 0h19m1 0h8M9 113.5h8m1 0h12m1 0h17m2 0h1m6 0h1m2 0h1m1 0h2m1 0h2m1 0h2m1 0h3m3 0h4m1 0h2m1 0h4m1 0h1M0 114.5h4m4 0h1m2 0h1m3 0h1M20 115.5h1m48 0h1m7 0h1m38 0h1m3 0h3m1 0h4m1 0h6m1 0h1m1 0h2m1 0h2m3 0h2m1 0h1m1 0h20m2 0h2m3 0h1m29 0h1m1 0h3m1 0h6m1 0h8m1 0h1m1 0h2m29 0h1m1 0h5M0 117.5h2m1 0h2m1 0h2m1 0h4m1 0h2m2 0h2m3 0h7m1 0h4m2 0h1m3 0h6M73 118.5h1M0 119.5h3m2 0h1m1 0h3m1 0h7m1 0h3m1 0h27m1 0h9m1 0h11m1 0h3m1 0h1m1 0h1m12 0h1m2 0h1m1 0h5m1 0h1M106 120.5h2m3 0h1m1 0h1M77 121.5h1m4 0h2m1 0h17m1 0h3m1 0h1m1 0h4M67 122.5h1m7 0h1m4 0h4m1 0h5m1 0h1m1 0h24m1 0h1"/>
<path stroke="#806575" d="M35 0.5h1m6 0h1m11 0h1m214 0h1M61 1.5h1M87 2.5h2M0 3.5h1m10 0h1m91 0h1m1 0h1m31 0h2M3 5.5h1m74 0h1M51 7.5h2m147 0h2M35 8.5h1m3 0h1m11 0h1m151 0h2m4 0h1m7 0h9m1 0h14m25 0h1M73 9.5h1m17 0h1M134 10.5h1M74 11.5h1m1 0h2m5 0h1m26 0h1m23 0h1M109 12.5h1m24 0h1M21 13.5h1m4 0h1m8 0h1m9 0h1m4 0h1m10 0h1m1 0h1m5 0h1m13 0h1m2 0h1m10 0h1m7 0h3M18 14.5h1M19 16.5h1m31 0h1m2 0h1m113 0h1m10 0h1M0 17.5h1m1 0h1m85 0h1m3 0h3m1 0h1m15 0h2m2 0h1m1 0h1m3 0h1m15 0h1m1 0h3m2 0h1m7 0h1m1 0h2m3 0h1m1 0h1m9 0h2m2 0h1m8 0h1m1 0h1m5 0h1m3 0h1m2 0h1m2 0h1m6 0h1m6 0h1m1 0h1m8 0h1m7 0h1m4 0h1m4 0h2m11 0h1M168 19.5h1M4 20.5h1m3 0h1m159 0h1M54 21.5h1m4 0h1m6 0h1m12 0h1m3 0h1m7 0h1m13 0h2m32 0h1m1 0h6m83 0h1m2 0h4M72 22.5h1m76 0h57M136 23.5h1m9 0h64m2 0h1M149 24.5h55m47 0h1M33 26.5h1m32 0h1m161 0h1m2 0h1m4 0h2m6 0h1m9 0h1m9 0h2M99 28.5h1M102 30.5h8M18 31.5h1m45 0h1m6 0h1m3 0h3m5 0h1m2 0h1m8 0h1M79 33.5h1M59 34.5h2M57 36.5h1M34 37.5h1m8 0h1m43 0h3m45 0h4m100 0h1M5 38.5h1m85 0h2m60 0h1M110 39.5h1m73 0h2M136 40.5h1m12 0h2m17 0h1M131 41.5h2M89 42.5h1m11 0h1M186 45.5h1m76 0h1M250 46.5h1M0 47.5h22m1 0h2m1 0h4m1 0h1m1 0h1m1 0h1m29 0h1m2 0h1m1 0h11m1 0h3m1 0h1m1 0h1m1 0h1m2 0h1m1 0h1m3 0h1m4 0h1m10 0h1m7 0h1m55 0h2m2 0h1m29 0h7M18 48.5h1M165 50.5h1m6 0h1m33 0h1m12 0h1m1 0h1m14 0h2m1 0h4m1 0h8m1 0h13M232 51.5h1m1 0h2m1 0h1m1 0h1M51 52.5h1m2 0h2M2 54.5h1m212 0h55M205 55.5h1M182 56.5h1M0 57.5h1m24 0h1m224 0h5M0 59.5h3m49 0h4m66 0h4M0 60.5h2m35 0h3M1 61.5h2m27 0h2M2 62.5h2m35 0h4m8 0h4M0 63.5h4m36 0h2m1 0h3m44 0h2m21 0h2M87 66.5h1m143 0h1M87 67.5h1M73 69.5h1m13 0h1m12 0h1m28 0h1m4 0h2m1 0h2m25 0h1m1 0h2m97 0h1M87 70.5h1m12 0h1m28 0h4m1 0h1m31 0h1M100 71.5h1m4 0h1m6 0h1m2 0h2m1 0h1m2 0h1m1 0h1m6 0h1m15 0h1M100 72.5h1M103 73.5h4m1 0h4m3 0h1m1 0h3m1 0h5m4 0h2m1 0h3m1 0h1m1 0h3m2 0h1m2 0h3m1 0h1m2 0h1m4 0h1m1 0h1m1 0h2m1 0h2m2 0h2m55 0h1M51 74.5h1m1 0h8m1 0h4m3 0h1m5 0h1m27 0h2m3 0h3m1 0h1m2 0h1m3 0h2m1 0h2m3 0h1m1 0h8m1 0h2m1 0h1m2 0h3m1 0h4m1 0h1m6 0h1m6 0h4m96 0h1M111 75.5h1m1 0h1m13 0h1M101 76.5h1m3 0h1m3 0h1m1 0h1m1 0h1m14 0h1M100 77.5h1m1 0h1m5 0h1m1 0h2m7 0h1m1 0h1m4 0h7m2 0h1M100 78.5h1m7 0h1m5 0h1m3 0h1m13 0h2M138 79.5h1m17 0h2m22 0h1m7 0h1m3 0h1m1 0h1m41 0h1m4 0h1m2 0h1m4 0h1m1 0h2m16 0h1M203 80.5h1m4 0h1m28 0h1M135 81.5h2m24 0h1m6 0h1m17 0h1m72 0h1m1 0h1m4 0h1m2 0h1M0 82.5h3m26 0h1m1 0h10m101 0h1m17 0h1m4 0h1m7 0h1m16 0h1m5 0h1m6 0h1m7 0h1m25 0h1m6 0h2m8 0h1M136 84.5h1m11 0h1m37 0h1m1 0h1m19 0h1m4 0h1m5 0h1m31 0h1M135 85.5h1m5 0h3m3 0h1m15 0h1m17 0h2m6 0h1m33 0h1m22 0h1m5 0h1m5 0h1m10 0h1M135 86.5h1m5 0h1m3 0h1m1 0h1m4 0h1m5 0h1m4 0h1m4 0h1m4 0h1m31 0h1m15 0h1m11 0h1m7 0h1m13 0h1m4 0h1m4 0h1m3 0h1M52 87.5h1m2 0h1m82 0h12m2 0h8m1 0h1m1 0h1m2 0h2m1 0h5m77 0h1M67 88.5h1m4 0h2m1 0h1m1 0h2m1 0h1m5 0h7m3 0h1m26 0h1m1 0h2m7 0h1m1 0h63m1 0h20m4 0h3m1 0h1m2 0h4m1 0h6M53 89.5h2m56 0h1M4 90.5h1m46 0h2m1 0h2m1 0h2m1 0h1m88 0h2m70 0h1M8 91.5h1m19 0h1m8 0h2M53 93.5h1m185 0h1m29 0h1M215 95.5h2m1 0h1m19 0h2M0 96.5h2m2 0h1m94 0h1m2 0h1m2 0h3m1 0h1m1 0h2m2 0h2m1 0h5m123 0h1m2 0h7M58 97.5h1M140 98.5h1m128 0h1M58 99.5h2m12 0h2m49 0h1m26 0h1m40 0h1m18 0h1m38 0h1M57 100.5h3m13 0h1m48 0h1m68 0h1M57 101.5h3m14 0h2m46 0h1m12 0h1m13 0h1m41 0h1m18 0h1m38 0h1M7 102.5h1m3 0h1m31 0h1m11 0h1m7 0h1m1 0h2m23 0h1M8 103.5h1m23 0h1m24 0h1m5 0h1m90 0h3m7 0h1m11 0h1m11 0h1m43 0h1m14 0h4M37 104.5h1M27 106.5h1m100 0h1m76 0h1m1 0h7m1 0h3m1 0h2m1 0h1m2 0h2m4 0h1m1 0h4m1 0h30M123 107.5h1m1 0h2m1 0h1M46 108.5h1m1 0h4m1 0h6m1 0h11m1 0h4m1 0h6m2 0h1m1 0h5m1 0h3m2 0h2m40 0h5m2 0h1m1 0h1m1 0h1m1 0h1M260 109.5h5M17 112.5h1m1 0h1M0 113.5h9m21 0h1M21 115.5h1m20 0h1m18 0h1m10 0h1m1 0h1m10 0h1m1 0h2M3 119.5h2m1 0h1m3 0h1m7 0h1m3 0h1m49 0h1m5 0h1m1 0h4m1 0h7m1 0h2m1 0h1M0 122.5h1m8 0h1m80 0h1"/>
<path stroke="#866772" d="M215 0.5h1m52 0h1M268 1.5h1M89 2.5h1m179 0h1M53 7.5h1m1 0h1m19 0h1m11 0h1m4 0h1m14 0h1m7 0h1m4 0h1m3 0h1m10 0h1m19 0h1m7 0h1m17 0h1m2 0h1m2 0h1m8 0h4M53 8.5h2m1 0h1m4 0h1m9 0h1m33 0h1m5 0h1m1 0h1m10 0h1m4 0h1m9 0h1m2 0h1m4 0h1m10 0h1m24 0h1m15 0h4M110 10.5h1m22 0h1M133 11.5h1M110 12.5h1m22 0h1M23 13.5h1m4 0h2m4 0h1m1 0h1m11 0h1m3 0h2m1 0h1m4 0h1m5 0h1m1 0h1m2 0h1m12 0h2m9 0h1m3 0h1m3 0h2M13 17.5h1m4 0h1m2 0h1m8 0h1m18 0h1m3 0h1m8 0h1m3 0h1m19 0h1m3 0h1m4 0h1m2 0h1m2 0h1m1 0h2m1 0h2m1 0h3m5 0h1m3 0h1m1 0h1m6 0h1m3 0h1m1 0h1m9 0h1m2 0h1m4 0h1m2 0h3m1 0h1m1 0h4m3 0h1m11 0h2m2 0h1m1 0h1m2 0h1m4 0h1m2 0h1m1 0h1m2 0h4m4 0h1m1 0h1m9 0h1m2 0h1m6 0h1m3 0h1m1 0h1m2 0h1m1 0h1m3 0h1m1 0h5m1 0h1m4 0h1m3 0h3M206 19.5h1M45 21.5h2m1 0h2m1 0h1m3 0h1m11 0h1m1 0h2m1 0h1m2 0h1m1 0h1m2 0h1m7 0h3m4 0h1m6 0h2M217 26.5h1m3 0h1m7 0h2m10 0h3m4 0h1m3 0h1m2 0h1m3 0h5M80 33.5h1M61 34.5h2m157 0h28M58 35.5h1M58 36.5h1M56 37.5h1m33 0h3m39 0h3m6 0h1m96 0h1M111 39.5h1m71 0h1M135 40.5h1m15 0h1m14 0h2M133 41.5h1M90 42.5h1m9 0h1M163 45.5h1m98 0h1M252 50.5h1M1 57.5h2m20 0h2M3 59.5h2m45 0h2M2 60.5h3m29 0h3M3 61.5h2m23 0h2M4 62.5h4m1 0h3m2 0h1m20 0h4M4 63.5h29m1 0h6m52 0h2m18 0h1M100 66.5h1m20 0h1m8 0h1m3 0h1m4 0h1m3 0h1m6 0h1m13 0h1m1 0h2m9 0h1m5 0h1m4 0h1m1 0h1m10 0h1m7 0h1m9 0h2m12 0h1m5 0h1m3 0h1m9 0h1m14 0h2M87 68.5h1m22 0h1M104 69.5h1m23 0h1m7 0h1m2 0h1m1 0h1m2 0h5m5 0h1m5 0h1m2 0h1m1 0h1m61 0h1m24 0h1M73 70.5h1m44 0h1m9 0h1m4 0h1m1 0h1m16 0h1m6 0h1m5 0h1m1 0h1m32 0h1m26 0h1m37 0h1M87 71.5h1m13 0h1m2 0h1m2 0h4m6 0h1m2 0h1m1 0h1m1 0h2m3 0h1m1 0h5m4 0h1m13 0h1m5 0h2m19 0h1m26 0h1m22 0h1M73 72.5h1m13 0h1m17 0h2m1 0h3m3 0h6m2 0h1m1 0h5m1 0h1m4 0h1m11 0h1m33 0h1m87 0h1M107 73.5h1m4 0h1m7 0h1m7 0h1m3 0h1m3 0h1m1 0h1m6 0h2m3 0h1m1 0h2m3 0h2m1 0h1m1 0h1m2 0h1m21 0h1m64 0h1M72 74.5h1m32 0h1m10 0h3m2 0h1m2 0h2m2 0h1m18 0h1m4 0h1m1 0h1m2 0h3m1 0h6M102 75.5h9m3 0h1M102 76.5h3m1 0h3m1 0h1m3 0h1m12 0h1M101 77.5h1m1 0h3m1 0h1m6 0h1m1 0h1m5 0h4m7 0h1M102 78.5h1m1 0h4m1 0h3m1 0h1m1 0h3m3 0h2m1 0h7m3 0h1M140 79.5h1m5 0h1m4 0h1m10 0h1m2 0h1m12 0h1m4 0h1m1 0h1m12 0h1m8 0h1m4 0h1m5 0h1m5 0h2m11 0h1m17 0h3m2 0h1m4 0h1M136 80.5h1m3 0h2m4 0h1m14 0h1m1 0h1m2 0h1m5 0h1m4 0h1m2 0h1m10 0h1m10 0h1m9 0h1m1 0h1m1 0h1m6 0h1m20 0h1m5 0h1m3 0h1m5 0h1M137 81.5h1m4 0h1m7 0h1m5 0h1m2 0h1m5 0h1m8 0h2m9 0h1m1 0h1m19 0h1m5 0h1m5 0h1m1 0h3m8 0h1m17 0h1m3 0h1m5 0h1M135 82.5h2m21 0h1m23 0h3m1 0h1m15 0h1m4 0h2m20 0h1m6 0h1m1 0h1m3 0h1m4 0h1m4 0h2m10 0h1M140 84.5h2m1 0h1m3 0h1m8 0h1m3 0h2m3 0h1m5 0h1m3 0h2m5 0h1m1 0h1m4 0h1m2 0h1m5 0h1m7 0h1m16 0h1m8 0h1m6 0h1m2 0h2m3 0h1m1 0h1m2 0h1m6 0h1m4 0h3M136 85.5h2m7 0h1m8 0h2m2 0h1m6 0h1m1 0h1m2 0h1m1 0h1m6 0h1m7 0h1m2 0h2m3 0h1m4 0h1m7 0h1m2 0h2m3 0h1m4 0h1m2 0h1m4 0h1m1 0h1m11 0h2m4 0h1m1 0h1m5 0h1m3 0h2m3 0h1m1 0h1M137 86.5h2m4 0h2m4 0h2m6 0h1m16 0h1m3 0h2m3 0h1m7 0h1m8 0h1m6 0h1m1 0h1m2 0h3m7 0h1m14 0h1m14 0h1m4 0h1m8 0h1M150 87.5h2m8 0h1m1 0h1m1 0h2m23 0h1M220 88.5h4m3 0h1m1 0h2m4 0h1M151 90.5h1m14 0h1m13 0h1m1 0h1m15 0h1m31 0h1m9 0h1m5 0h1m13 0h1m8 0h1M9 91.5h4m3 0h2m2 0h1m1 0h1m1 0h1m1 0h1m13 0h2m1 0h1m2 0h1m1 0h1m1 0h1M240 93.5h2m26 0h1M240 95.5h1m28 0h1M84 98.5h1m7 0h1m48 0h1m7 0h1m118 0h1M60 99.5h2m9 0h1m52 0h1m8 0h1m56 0h1m20 0h1M60 100.5h2m9 0h2m50 0h1m10 0h1m15 0h1m60 0h1m36 0h1M60 101.5h2m9 0h3m10 0h1m7 0h1m30 0h1m10 0h1m15 0h1m60 0h1M3 102.5h4m3 0h1m4 0h3m3 0h1m6 0h1m1 0h1m1 0h1m2 0h2m2 0h2m4 0h1m2 0h2m1 0h1m2 0h1m1 0h1m1 0h1m1 0h1m1 0h1m1 0h1M4 103.5h3m5 0h1m1 0h1m1 0h1m1 0h2m3 0h1m2 0h1m1 0h3m4 0h1m6 0h2m2 0h1m3 0h1m7 0h1m1 0h1m1 0h1m94 0h1m2 0h1m5 0h1m2 0h2m2 0h1m4 0h1m7 0h2m1 0h1m2 0h3m3 0h1m1 0h1m3 0h1m4 0h1m2 0h1m4 0h1m1 0h2m4 0h1m2 0h2m4 0h4m6 0h3m4 0h1m1 0h3m3 0h2m2 0h1m3 0h2M0 115.5h1m38 0h2m6 0h1m1 0h1m3 0h1m2 0h1m7 0h2m1 0h1m11 0h1m2 0h1m3 0h1"/>
<path stroke="#8b686e" d="M151 0.5h1m8 0h1m26 0h1m25 0h1m16 0h1m22 0h1m2 0h1m5 0h1m2 0h2M62 1.5h2m16 0h1m1 0h1m4 0h1m17 0h1m3 0h1m4 0h1m14 0h2m5 0h1m8 0h1m9 0h1m113 0h1M162 2.5h1m2 0h1m42 0h1m10 0h1M140 3.5h1m46 0h1m10 0h1M120 4.5h1M90 5.5h1m59 0h1M54 7.5h1m1 0h2m3 0h1m1 0h1m3 0h2m2 0h3m2 0h4m2 0h1m1 0h1m1 0h1m2 0h3m1 0h3m1 0h1m2 0h1m4 0h1m3 0h1m1 0h2m1 0h1m3 0h1m4 0h1m6 0h5m1 0h2m1 0h1m4 0h1m2 0h1m2 0h1m1 0h1m4 0h1m6 0h2m1 0h1m1 0h3m4 0h3m1 0h1m10 0h2m2 0h1M55 8.5h1m4 0h1m1 0h1m1 0h1m5 0h1m1 0h3m2 0h2m1 0h3m1 0h1m3 0h1m2 0h2m1 0h1m3 0h1m1 0h2m4 0h3m1 0h1m1 0h1m2 0h2m5 0h2m6 0h1m2 0h2m5 0h2m2 0h3m2 0h1m2 0h1m1 0h1m2 0h1m1 0h1m1 0h1m2 0h2m3 0h1m4 0h1m1 0h2m3 0h1m6 0h1m2 0h1m5 0h2M111 10.5h1m20 0h1M111 11.5h1m20 0h1M111 12.5h1m20 0h1M24 13.5h2m1 0h1m2 0h4m6 0h1m1 0h1m1 0h1m2 0h1m1 0h1m6 0h2m1 0h1m2 0h1m2 0h1m4 0h1m3 0h3m1 0h1m3 0h1m5 0h3m1 0h2m4 0h1m1 0h1m1 0h1M206 14.5h1M206 15.5h1M169 16.5h1m8 0h1M9 17.5h1m4 0h1m5 0h1m14 0h1m2 0h1m17 0h1m4 0h1m8 0h1m5 0h2m1 0h1m17 0h1m7 0h1m2 0h1m6 0h1m3 0h2m7 0h1m19 0h1m19 0h2m1 0h1m2 0h1m4 0h1m1 0h1m2 0h1m5 0h1m1 0h1m1 0h1m7 0h1m5 0h2m3 0h1m4 0h1m1 0h4m1 0h2m3 0h2m3 0h1m3 0h1m2 0h1m1 0h1m13 0h1m1 0h1m3 0h1M206 20.5h1M47 21.5h1m4 0h2m3 0h2m2 0h3m1 0h1m2 0h1m2 0h1m9 0h2m1 0h1m1 0h1m7 0h1m1 0h6m2 0h1M41 26.5h1m6 0h2m15 0h1m154 0h1m2 0h1m2 0h2m21 0h1m6 0h1M81 33.5h1M63 34.5h41m114 0h2m28 0h2M59 35.5h1M59 36.5h1M44 37.5h1m48 0h39m105 0h1M80 38.5h1m30 0h1m40 0h1M112 39.5h1m68 0h2M77 40.5h1m56 0h1m17 0h14M134 41.5h2m132 0h2M91 42.5h1m7 0h1M261 45.5h1M262 56.5h1M3 57.5h1m18 0h1M5 59.5h30m1 0h14M5 60.5h29M5 61.5h23M8 62.5h1m3 0h2m1 0h20M33 63.5h1m60 0h1m16 0h1M86 66.5h1m20 0h1m4 0h1m2 0h3m6 0h2m6 0h1m7 0h1m1 0h1m1 0h3m2 0h1m3 0h1m4 0h1m4 0h1m1 0h1m4 0h1m10 0h2m10 0h2m1 0h1m1 0h1m4 0h4m3 0h1m7 0h1m4 0h1m1 0h1m2 0h2m5 0h2m7 0h1m3 0h1m8 0h1m8 0h2M100 67.5h1M100 68.5h1m24 0h1M103 69.5h1m2 0h1m1 0h1m1 0h2m10 0h1m17 0h1m8 0h5m3 0h2m40 0h1M107 70.5h1m1 0h1m6 0h1m3 0h1m2 0h1m12 0h3m2 0h2m1 0h7m3 0h3m4 0h4m47 0h1M102 71.5h2m2 0h1m4 0h1m7 0h1m8 0h1m7 0h1m13 0h3m4 0h1m8 0h1m17 0h1m3 0h2m3 0h2m3 0h1m4 0h2m9 0h1m18 0h1m2 0h1m8 0h1m1 0h1m1 0h1m5 0h1m11 0h3M103 72.5h2m2 0h1m3 0h3m6 0h2m1 0h1m5 0h1m1 0h4m1 0h1m4 0h1m6 0h1m15 0h1m1 0h2m4 0h1m1 0h1m23 0h1m2 0h1m3 0h2m1 0h1m1 0h1m31 0h1m3 0h1m2 0h1m1 0h1m1 0h1m1 0h1m6 0h1m2 0h1m2 0h1M200 73.5h1m40 0h1M73 74.5h1m113 0h1m24 0h1m14 0h1m13 0h1m23 0h1M106 77.5h1m2 0h1m2 0h2m1 0h1m1 0h2m1 0h1M119 78.5h2m2 0h1m7 0h1M136 79.5h2m1 0h1m1 0h1m7 0h1m2 0h1m1 0h1m5 0h1m2 0h1m7 0h6m5 0h1m3 0h2m1 0h3m3 0h1m6 0h1m1 0h2m7 0h1m1 0h1m1 0h1m3 0h1m1 0h1m7 0h1m6 0h3m2 0h1m4 0h1m4 0h2m3 0h1m3 0h1m1 0h1m1 0h1m1 0h1M137 80.5h1m1 0h1m4 0h2m1 0h1m5 0h1m4 0h1m1 0h1m3 0h2m1 0h1m1 0h1m5 0h1m8 0h1m10 0h1m2 0h1m1 0h1m6 0h1m1 0h1m3 0h1m1 0h1m4 0h2m4 0h2m1 0h2m2 0h1m2 0h1m4 0h3m3 0h1m4 0h2m3 0h1m4 0h1m2 0h1m3 0h1M140 81.5h1m2 0h1m1 0h2m1 0h1m2 0h5m8 0h1m6 0h3m5 0h1m4 0h1m3 0h1m9 0h2m2 0h1m1 0h2m4 0h1m3 0h1m2 0h1m2 0h1m9 0h2m6 0h2m3 0h4m1 0h2m5 0h2m7 0h1M139 82.5h1m3 0h1m1 0h1m8 0h2m3 0h1m2 0h1m4 0h1m4 0h1m1 0h1m1 0h3m8 0h2m3 0h2m4 0h1m1 0h1m3 0h1m10 0h1m3 0h1m4 0h1m14 0h1m11 0h1m9 0h1m5 0h3M126 83.5h1M138 84.5h1m6 0h2m2 0h1m2 0h1m1 0h1m2 0h1m4 0h2m2 0h3m9 0h1m1 0h2m9 0h1m3 0h2m4 0h1m2 0h1m4 0h1m2 0h1m5 0h1m5 0h2m1 0h1m2 0h1m2 0h2m1 0h2m2 0h2m4 0h1m3 0h1m7 0h1m2 0h1m1 0h1m5 0h1M138 85.5h3m3 0h1m3 0h1m2 0h2m7 0h1m1 0h1m3 0h1m1 0h1m5 0h1m1 0h1m3 0h1m15 0h1m1 0h2m2 0h1m2 0h3m5 0h1m3 0h1m1 0h1m5 0h2m1 0h1m4 0h1m1 0h1m1 0h1m1 0h1m1 0h1m11 0h1m5 0h2m2 0h1m1 0h1M139 86.5h2m7 0h1m10 0h1m2 0h1m1 0h3m9 0h1m3 0h1m3 0h1m2 0h3m2 0h4m1 0h3m1 0h1m1 0h1m4 0h1m7 0h1m1 0h1m1 0h1m13 0h1m4 0h1m2 0h2m1 0h1m3 0h1m3 0h1m5 0h1m2 0h2m3 0h2M214 87.5h1M113 89.5h1M163 90.5h3m3 0h1m4 0h1m3 0h1m4 0h1m2 0h1m2 0h1m6 0h1m6 0h1m1 0h1m4 0h3m4 0h1m2 0h1m1 0h1m2 0h1m1 0h2m2 0h1m3 0h1m7 0h1m5 0h1m4 0h1m7 0h1M13 91.5h3m3 0h1m1 0h1m5 0h1m1 0h3m1 0h2m4 0h1m2 0h1m2 0h1m1 0h1m1 0h1M242 93.5h22m1 0h3M241 95.5h1m26 0h1M76 98.5h1m69 0h1m3 0h2m10 0h1m2 0h1m3 0h1m8 0h1m4 0h1m4 0h1m4 0h1m11 0h1m11 0h1m1 0h1m6 0h1m2 0h1m1 0h1m3 0h2m4 0h1m4 0h1m18 0h1M62 99.5h9m61 0h1m18 0h1m37 0h1m22 0h1m35 0h1M62 100.5h9m53 0h1m8 0h1m56 0h1m21 0h1m34 0h1M62 101.5h9m5 0h1m47 0h1m8 0h1m17 0h1m38 0h1m4 0h1m16 0h1m35 0h1M8 102.5h2m2 0h2m5 0h1m4 0h2m1 0h1m1 0h1m1 0h1m1 0h2m3 0h1m2 0h1m2 0h1m1 0h1m3 0h1m2 0h1m3 0h1m1 0h1m1 0h1M9 103.5h3m3 0h1m1 0h1m2 0h1m1 0h1m2 0h1m7 0h2m2 0h1m2 0h2m5 0h1m3 0h1m1 0h4m4 0h1m96 0h2m1 0h3m4 0h1m2 0h2m2 0h1m1 0h1m1 0h1m1 0h1m1 0h2m5 0h2m4 0h1m5 0h2m1 0h1m4 0h2m3 0h2m4 0h1m1 0h2m8 0h1m4 0h5m9 0h1m4 0h1m3 0h2m1 0h3M9 115.5h1m12 0h1m25 0h1m13 0h2m2 0h1m1 0h1m4 0h1m1 0h1m2 0h1m1 0h1m2 0h1M1 122.5h1"/>
<path stroke="#90696a" d="M138 0.5h3m1 0h1m4 0h1m1 0h1m3 0h2m6 0h2m6 0h1m5 0h1m2 0h1m6 0h1m5 0h1m5 0h1m3 0h1m1 0h1m1 0h4m7 0h5m2 0h1m2 0h1m4 0h2m2 0h2m2 0h1m6 0h4m4 0h1m4 0h1m4 0h1m2 0h1M64 1.5h1m13 0h1m12 0h1m3 0h1m3 0h1m3 0h1m4 0h1m7 0h1m2 0h1m24 0h1m9 0h1m1 0h1M90 2.5h2m17 0h1m29 0h1m5 0h1m3 0h1m21 0h1m17 0h1m7 0h1m6 0h1m4 0h1m1 0h1m1 0h1m6 0h1m5 0h1m7 0h1m5 0h1m25 0h3M139 3.5h1m1 0h2m2 0h1m7 0h1m3 0h1m9 0h1m3 0h1m3 0h1m2 0h1m1 0h1m5 0h1m5 0h1m6 0h1m69 0h1M79 5.5h1M59 7.5h1m2 0h1m1 0h2m3 0h2m3 0h1m6 0h1m1 0h1m4 0h1m9 0h2m1 0h4m1 0h1m3 0h1m2 0h1m2 0h1m2 0h1m2 0h1m3 0h4m10 0h3m5 0h1m2 0h1m2 0h1m1 0h1m1 0h4m4 0h1m1 0h1m3 0h2m1 0h1m3 0h1m3 0h1m1 0h2m1 0h3m2 0h2M57 8.5h1m5 0h1m1 0h1m1 0h3m6 0h1m2 0h1m3 0h1m2 0h2m1 0h2m2 0h1m1 0h2m6 0h2m12 0h1m1 0h3m4 0h3m2 0h2m2 0h1m1 0h1m5 0h1m6 0h2m1 0h1m1 0h1m4 0h1m1 0h2m2 0h1m3 0h1m1 0h1m6 0h2m1 0h1m1 0h1m1 0h2m1 0h2m1 0h1m2 0h1M90 9.5h1M112 10.5h20m74 0h1M112 11.5h20m74 0h1M112 12.5h20m74 0h1M37 13.5h3m1 0h1m1 0h1m2 0h1m11 0h1m5 0h1m2 0h1m4 0h2m3 0h1m1 0h3m5 0h1m3 0h1m2 0h1m6 0h1M170 16.5h8M1 17.5h1m3 0h1m9 0h1m1 0h1m6 0h1m4 0h1m1 0h1m2 0h1m1 0h1m2 0h1m2 0h1m1 0h1m18 0h1m14 0h1m2 0h1m2 0h1m2 0h1m3 0h1m34 0h2m1 0h1m2 0h1m4 0h1m5 0h2m2 0h1m19 0h1m9 0h2m1 0h1m8 0h1m5 0h1m15 0h1m3 0h2m15 0h2m3 0h1m10 0h1m1 0h1m14 0h1M194 19.5h1M171 20.5h1m10 0h1m6 0h1m2 0h1M50 21.5h1m5 0h1m3 0h1m12 0h2m1 0h1m1 0h1m6 0h1m1 0h1m4 0h2M34 26.5h2m1 0h1m7 0h1m6 0h1m2 0h2m1 0h1m4 0h1m171 0h1m10 0h1m10 0h1M216 34.5h2m32 0h1m18 0h1M60 35.5h1M60 36.5h1M55 37.5h1m86 0h1m93 0h1M90 38.5h1m60 0h1M113 39.5h26m41 0h1M91 40.5h1m41 0h1M136 41.5h1m130 0h1M92 42.5h7M185 45.5h1m74 0h1M183 56.5h1M4 57.5h18M35 59.5h1M95 63.5h16M103 66.5h4m1 0h1m2 0h1m8 0h1m2 0h1m4 0h2m1 0h1m3 0h1m1 0h1m3 0h1m5 0h2m2 0h2m7 0h1m1 0h1m9 0h2m4 0h3m8 0h1m1 0h1m5 0h1m10 0h1m4 0h1m1 0h1m1 0h1m4 0h1m1 0h1m5 0h1m1 0h1m1 0h1m2 0h2m6 0h1m4 0h1m4 0h2m1 0h2m1 0h3M72 67.5h1m32 0h2m4 0h1m6 0h1m2 0h1m10 0h1m21 0h1m23 0h1m1 0h1m88 0h1M107 68.5h1m11 0h1m17 0h4m6 0h1m1 0h1m14 0h1m8 0h1m6 0h1M105 69.5h1m1 0h1m1 0h1m13 0h3m33 0h1m1 0h2M86 70.5h1m16 0h4m1 0h1m1 0h2m3 0h1m3 0h1m1 0h2m16 0h2m2 0h1m7 0h1m1 0h1m3 0h2m1 0h1M138 71.5h2m1 0h1m2 0h1m2 0h1m5 0h1m8 0h2m1 0h1m1 0h1m2 0h3m1 0h4m1 0h1m5 0h1m4 0h2m3 0h1m6 0h1m2 0h2m2 0h4m3 0h2m1 0h1m1 0h1m3 0h1m2 0h3m1 0h1m10 0h1m2 0h1m1 0h1m5 0h1m2 0h1m1 0h1m2 0h2M137 72.5h1m7 0h2m6 0h3m1 0h1m1 0h3m1 0h1m1 0h1m4 0h2m7 0h1m2 0h1m7 0h1m4 0h1m1 0h1m4 0h3m4 0h1m4 0h1m1 0h2m5 0h2m3 0h1m1 0h1m2 0h1m4 0h1m4 0h1m3 0h1m2 0h1m3 0h1m1 0h1m1 0h2m1 0h1m1 0h2M102 73.5h1m162 0h1M102 74.5h1m40 0h1m56 0h1M115 75.5h11M115 76.5h11M103 78.5h1M143 79.5h3m1 0h1m2 0h1m10 0h1m4 0h1m2 0h1m7 0h1m15 0h1m3 0h1m2 0h2m1 0h1m2 0h1m1 0h4m8 0h1m5 0h4m2 0h4m6 0h1m4 0h1m19 0h1M143 80.5h1m4 0h1m2 0h1m2 0h1m1 0h2m1 0h1m8 0h1m2 0h1m1 0h1m4 0h1m2 0h2m2 0h1m4 0h1m1 0h1m6 0h1m1 0h1m2 0h1m1 0h1m10 0h1m1 0h1m2 0h1m1 0h1m6 0h2m1 0h1m3 0h1m6 0h1m3 0h1m8 0h2m3 0h2m1 0h3M138 81.5h1m19 0h1m1 0h1m2 0h1m2 0h1m2 0h1m6 0h1m1 0h1m1 0h1m1 0h1m7 0h1m3 0h2m5 0h1m6 0h1m6 0h1m2 0h1m6 0h1m1 0h2m4 0h5m3 0h1m5 0h1m4 0h1m4 0h1m4 0h2m3 0h1M137 82.5h2m1 0h1m6 0h1m2 0h1m1 0h1m3 0h2m3 0h1m2 0h1m3 0h3m8 0h3m7 0h1m1 0h1m3 0h1m5 0h1m4 0h1m2 0h2m1 0h3m2 0h2m2 0h2m4 0h1m4 0h1m2 0h1m4 0h2m4 0h1m1 0h1m7 0h1m1 0h3m4 0h2M100 83.5h1M137 84.5h1m1 0h1m2 0h1m1 0h1m6 0h1m1 0h1m1 0h1m2 0h2m9 0h2m1 0h3m2 0h1m1 0h1m7 0h1m2 0h1m2 0h2m2 0h1m4 0h2m3 0h1m6 0h1m1 0h2m3 0h2m3 0h1m8 0h1m9 0h1m2 0h1m4 0h4m3 0h1m1 0h1m4 0h2M146 85.5h1m2 0h1m3 0h1m2 0h2m15 0h1m4 0h1m4 0h3m2 0h1m3 0h1m4 0h1m5 0h2m5 0h1m3 0h2m6 0h1m11 0h1m1 0h1m1 0h1m8 0h2m6 0h2m7 0h1M153 86.5h1m7 0h1m5 0h1m1 0h4m4 0h1m3 0h2m3 0h1m3 0h1m5 0h1m5 0h1m1 0h1m5 0h1m13 0h2m1 0h2m2 0h2m2 0h1m8 0h1m3 0h1m7 0h1m4 0h1m2 0h1M152 90.5h2m2 0h2m3 0h2m8 0h1m1 0h1m7 0h1m2 0h1m3 0h1m3 0h4m1 0h1m2 0h1m1 0h1m1 0h1m14 0h1m4 0h1m8 0h1m3 0h2m2 0h1m2 0h2m1 0h2m1 0h1m2 0h1m1 0h1m2 0h2m3 0h1m1 0h2m1 0h1M18 91.5h1m4 0h1m1 0h1m6 0h1m2 0h2m7 0h1M242 95.5h9m1 0h16M142 98.5h1m2 0h1m1 0h2m5 0h1m1 0h2m1 0h3m6 0h1m3 0h1m4 0h1m6 0h1m2 0h1m9 0h2m2 0h1m2 0h1m1 0h1m2 0h2m1 0h1m3 0h1m4 0h2m4 0h1m2 0h1m2 0h1m3 0h4m1 0h1m2 0h1m2 0h1m1 0h1m1 0h1m1 0h1m2 0h1m1 0h5m2 0h2M125 99.5h1m26 0h1m5 0h1m72 0h1m15 0h1M132 100.5h1m18 0h1m37 0h1m27 0h1m27 0h2M132 101.5h1m56 0h1M14 102.5h1m5 0h1m1 0h2m2 0h1m10 0h1m4 0h1m4 0h1M7 103.5h1m5 0h1m7 0h1m2 0h1m2 0h1m3 0h1m4 0h1m2 0h1m4 0h1m3 0h2m9 0h1m105 0h1m1 0h1m14 0h1m2 0h1m9 0h1m1 0h1m1 0h1m1 0h1m4 0h1m1 0h1m4 0h1m8 0h1m3 0h1m3 0h2m26 0h1M23 115.5h1m14 0h1m2 0h1m1 0h1m2 0h1m3 0h1m4 0h1m3 0h1m10 0h2M8 122.5h1"/>
<path stroke="#956b66" d="M135 0.5h2m4 0h1m1 0h3m2 0h1m1 0h1m4 0h1m1 0h3m3 0h1m2 0h2m8 0h2m1 0h5m2 0h1m1 0h1m4 0h1m1 0h2m1 0h2m4 0h1m6 0h1m9 0h2m2 0h1m7 0h1m4 0h1m2 0h1m3 0h1m5 0h2m2 0h1m1 0h1m2 0h2M65 1.5h1m6 0h1m1 0h2m1 0h1m3 0h1m3 0h1m10 0h2m3 0h2m1 0h1m1 0h1m3 0h3m5 0h1m2 0h1m1 0h1m1 0h1m2 0h1m2 0h1m1 0h1m3 0h1m1 0h1m1 0h3m2 0h2m1 0h1m2 0h1M92 2.5h1m2 0h2m3 0h2m4 0h1m1 0h1m1 0h1m1 0h1m3 0h2m2 0h1m2 0h2m2 0h1m3 0h1m2 0h1m5 0h1m1 0h2m4 0h1m4 0h1m2 0h1m1 0h2m1 0h1m6 0h2m5 0h2m1 0h3m4 0h2m3 0h1m1 0h1m3 0h1m2 0h1m2 0h1m2 0h2m5 0h1m2 0h4m10 0h1m5 0h4m5 0h1m2 0h1m10 0h1m1 0h1m3 0h1M143 3.5h1m2 0h1m1 0h1m1 0h3m1 0h2m2 0h5m1 0h3m2 0h1m2 0h1m1 0h1m2 0h1m1 0h1m1 0h4m3 0h1m1 0h2m1 0h5M110 4.5h1M153 6.5h1M58 7.5h1m1 0h1m5 0h1m13 0h1m4 0h1m10 0h1m11 0h1m8 0h1m3 0h1m3 0h1m17 0h1m1 0h1m7 0h1m8 0h1m11 0h1m7 0h1M58 8.5h2m6 0h1m8 0h1m9 0h1m11 0h1m1 0h1m2 0h1m6 0h1m4 0h1m3 0h1m6 0h1m10 0h1m1 0h1m9 0h1m7 0h1m10 0h2m2 0h1m1 0h1m1 0h1m2 0h1m6 0h1m7 0h2m1 0h1M74 9.5h1M167 10.5h1M167 11.5h1M167 12.5h1M51 13.5h1M4 17.5h1m22 0h1m15 0h1m1 0h3m2 0h1m6 0h2m8 0h1m4 0h2m1 0h1m4 0h1m8 0h1m12 0h1m21 0h2m7 0h1m5 0h1m116 0h1m4 0h1m1 0h1M169 19.5h3m1 0h3m2 0h3m1 0h1m3 0h3m1 0h3m2 0h4m1 0h3m1 0h2M169 20.5h2m1 0h8m1 0h1m1 0h6m1 0h1m2 0h1m1 0h10M64 21.5h1M38 26.5h3m2 0h1m2 0h1m3 0h2m2 0h1m2 0h1m4 0h1M82 33.5h1m14 0h1M214 34.5h2m35 0h2M61 35.5h1M61 36.5h1m32 0h1M45 37.5h1m189 0h1M112 38.5h1M139 39.5h41M90 40.5h1m41 0h1M137 41.5h1m128 0h1M164 45.5h1m39 0h1m39 0h1m14 0h1M109 66.5h1m12 0h1m10 0h1m2 0h1m1 0h1m15 0h1m2 0h1m3 0h1m9 0h1m2 0h3m7 0h2m6 0h1m2 0h1m3 0h2m1 0h1m4 0h1m4 0h1m1 0h1m1 0h1m25 0h1m3 0h2m1 0h1m4 0h1m5 0h1M86 67.5h1m20 0h2m5 0h3m7 0h1m4 0h1m6 0h1m3 0h1m9 0h2m1 0h1m4 0h1m11 0h2m1 0h1m3 0h1m16 0h1m47 0h1M104 68.5h1m1 0h1m4 0h2m4 0h1m4 0h1m10 0h2m1 0h1m14 0h2m1 0h1m2 0h1m5 0h1m1 0h1m6 0h1m2 0h1m1 0h2m3 0h2m30 0h1m54 0h1M112 70.5h1m4 0h1m6 0h2M86 71.5h1m40 0h1m9 0h1m7 0h1m3 0h1m9 0h1m4 0h1m8 0h1m4 0h1m1 0h1m1 0h2m8 0h1m3 0h2m3 0h1m5 0h1m7 0h1m2 0h1m1 0h1m2 0h2m10 0h1m1 0h1m1 0h1m2 0h1m1 0h1m8 0h1m2 0h1m3 0h1m5 0h1M142 72.5h3m4 0h4m3 0h1m1 0h1m3 0h1m12 0h3m2 0h1m2 0h3m2 0h1m2 0h4m1 0h1m10 0h1m5 0h1m1 0h1m2 0h1m1 0h3m2 0h1m3 0h1m1 0h2m1 0h1m1 0h2m1 0h1m4 0h2m2 0h1m3 0h1m4 0h1m2 0h1m5 0h2M142 73.5h2m96 0h1M114 74.5h1m40 0h2M148 79.5h1m10 0h1m4 0h1m2 0h1m2 0h1m8 0h1m1 0h1m32 0h1m4 0h1m10 0h1m15 0h1m3 0h1m8 0h1m1 0h1m1 0h1M138 80.5h1m3 0h1m6 0h2m1 0h1m9 0h1m7 0h1m5 0h1m10 0h2m4 0h1m24 0h1m6 0h1m2 0h1m6 0h1m10 0h1m8 0h2M139 81.5h1m1 0h1m2 0h1m2 0h1m1 0h1m7 0h1m4 0h1m4 0h1m2 0h1m6 0h1m3 0h1m7 0h1m1 0h3m2 0h1m3 0h1m2 0h1m2 0h1m2 0h1m1 0h2m3 0h1m34 0h1m6 0h1m9 0h1M144 82.5h1m1 0h1m1 0h2m1 0h1m1 0h1m9 0h1m7 0h1m3 0h1m9 0h1m8 0h1m10 0h1m10 0h1m3 0h1m2 0h1m1 0h1m4 0h1m2 0h2m14 0h2m6 0h1m5 0h1M127 83.5h1M164 84.5h1m20 0h1m14 0h1m4 0h1m5 0h1m3 0h1m4 0h1m7 0h1m9 0h1m18 0h1M150 85.5h1m8 0h1m1 0h1m7 0h1m5 0h1m1 0h1m8 0h1m22 0h1m8 0h1m11 0h1m1 0h1m12 0h1m4 0h1m16 0h1M146 86.5h1m4 0h1m8 0h1m14 0h1m30 0h1m8 0h1m7 0h1m5 0h2m5 0h1m1 0h1m7 0h2m2 0h2m6 0h1M190 87.5h1M100 89.5h1m26 0h1M159 90.5h1m7 0h1m2 0h1m1 0h1m2 0h3m1 0h1m5 0h1m4 0h2m7 0h1m1 0h1m4 0h4m4 0h3m6 0h1m2 0h1m2 0h1m4 0h1m1 0h1m14 0h2m8 0h1M143 98.5h1m8 0h1m5 0h1m5 0h1m1 0h2m2 0h2m1 0h1m2 0h1m2 0h2m1 0h1m6 0h4m1 0h1m1 0h1m2 0h2m1 0h1m4 0h2m5 0h2m2 0h1m1 0h1m2 0h1m1 0h1m2 0h1m3 0h1m11 0h1m4 0h1m3 0h1m1 0h2m7 0h1M126 99.5h1m4 0h1m36 0h1m7 0h1m2 0h1m5 0h1m1 0h1m25 0h1m4 0h1m15 0h3m4 0h2m1 0h3M125 100.5h1m5 0h1m20 0h1m3 0h1m5 0h1m10 0h1m14 0h1m24 0h3m2 0h1m1 0h1m2 0h1m2 0h1m2 0h1m1 0h1m1 0h1m1 0h1m6 0h1M125 101.5h1m26 0h1m5 0h1m8 0h2m5 0h1m38 0h2m3 0h1m1 0h1m5 0h1m19 0h2M18 102.5h1m33 0h1M174 103.5h1m32 0h1m10 0h1m8 0h1m28 0h1M37 115.5h1m6 0h1m6 0h1m2 0h1m3 0h1m22 0h1M2 122.5h6"/>
<path stroke="#9a6c62" d="M78 0.5h1m55 0h1m2 0h1m14 0h1m3 0h1m8 0h1m2 0h1m1 0h3m1 0h1m9 0h1m4 0h2m1 0h1m7 0h1m1 0h1m7 0h1m1 0h1m1 0h1m9 0h1m2 0h3m7 0h1m2 0h1m1 0h1m1 0h1m5 0h1m12 0h1M66 1.5h3m1 0h1m2 0h1m2 0h1m2 0h1m3 0h2m1 0h1m1 0h2m2 0h3m3 0h1m1 0h1m6 0h1m14 0h1m1 0h1m1 0h2m4 0h1m1 0h2m2 0h1m1 0h1m9 0h1m2 0h1M93 2.5h2m8 0h1m1 0h1m1 0h1m5 0h3m2 0h2m1 0h2m2 0h1m2 0h1m1 0h1m2 0h1m1 0h1m8 0h1m5 0h3m1 0h2m4 0h1m2 0h2m1 0h1m5 0h3m6 0h1m1 0h2m6 0h1m1 0h1m1 0h1m2 0h1m1 0h1m2 0h1m6 0h1m12 0h2m2 0h1m2 0h2m9 0h3m4 0h1m1 0h1m1 0h1m2 0h3m3 0h2m2 0h1M144 3.5h1m2 0h1m8 0h1m6 0h1m4 0h1m4 0h1m2 0h1m8 0h1m3 0h1m10 0h1M89 5.5h1m81 0h1M138 7.5h1m7 0h1m2 0h1M183 14.5h2M7 17.5h2m1 0h2m4 0h1m5 0h1m2 0h1m6 0h2m7 0h1m10 0h1m7 0h1m3 0h2m2 0h1m2 0h1m2 0h1m8 0h1m1 0h1m49 0h1M172 19.5h1m3 0h2m3 0h1m1 0h3m3 0h1m3 0h1m5 0h1m3 0h1M180 20.5h1m10 0h1m2 0h1m10 0h1M36 26.5h1m10 0h1m5 0h1m5 0h3m2 0h1M83 33.5h1m12 0h1M104 34.5h1m108 0h1m39 0h2m13 0h1M62 35.5h1m30 0h1M62 36.5h1m29 0h2M54 37.5h1m157 0h1m21 0h1M135 38.5h16M92 40.5h40M138 41.5h128M245 45.5h1M261 56.5h1M118 66.5h2m39 0h1m51 0h1m9 0h1m43 0h1M104 67.5h1m4 0h1m7 0h1m1 0h2m2 0h1m4 0h1m4 0h3m1 0h1m1 0h1m1 0h1m2 0h1m2 0h2m3 0h1m4 0h1m2 0h4m1 0h1m6 0h1m6 0h1m1 0h2m2 0h1m82 0h1M103 68.5h1m10 0h3m3 0h2m1 0h2m3 0h1m2 0h2m2 0h1m8 0h1m3 0h1m1 0h1m2 0h1m6 0h2m4 0h1m7 0h1m4 0h1m1 0h1m2 0h2m24 0h1m11 0h1m7 0h1m37 0h1M72 69.5h1m70 0h1m12 0h1m107 0h1M102 70.5h1m24 0h1M114 71.5h1m33 0h1m9 0h1m54 0h1m8 0h1m11 0h1m3 0h1m11 0h1m7 0h1m2 0h1M102 72.5h1m35 0h3m32 0h1m4 0h1m10 0h1m29 0h1m15 0h1M127 73.5h1m28 0h1m69 0h1m24 0h1M153 79.5h1m4 0h1m25 0h1m31 0h1m5 0h1m22 0h1M174 80.5h1m8 0h1m5 0h1m4 0h1m2 0h1m7 0h1m4 0h1m37 0h1m12 0h1M183 81.5h1m13 0h1m26 0h1m4 0h1m12 0h1m10 0h1m11 0h1M141 82.5h1m24 0h1m30 0h1m30 0h1m2 0h1m30 0h1M210 84.5h1m18 0h1m1 0h1m12 0h1M164 85.5h1m29 0h1m6 0h1m40 0h1M154 86.5h1m30 0h1m31 0h1m1 0h1M213 87.5h1M154 90.5h1m3 0h1m1 0h1m26 0h1m30 0h1m13 0h1m23 0h2m9 0h1M144 98.5h1m8 0h1m20 0h2m5 0h1m3 0h2m24 0h1m1 0h1m10 0h1m9 0h1m8 0h1m3 0h1m3 0h1m6 0h1M127 99.5h4m22 0h2m2 0h1m2 0h1m4 0h1m1 0h1m4 0h1m1 0h2m2 0h1m4 0h1m4 0h1m25 0h1m2 0h1m1 0h3m2 0h1m1 0h2m1 0h2m7 0h3M84 100.5h1m7 0h1m33 0h5m22 0h1m3 0h1m2 0h2m5 0h1m6 0h1m1 0h1m1 0h1m1 0h1m2 0h2m31 0h1m4 0h1m2 0h1m2 0h1m2 0h1m1 0h1m4 0h2m2 0h1m2 0h1M126 101.5h6m21 0h1m5 0h1m2 0h1m1 0h1m6 0h1m6 0h1m4 0h1m1 0h4m26 0h3m1 0h1m3 0h2m4 0h1m2 0h2m1 0h3m1 0h2m1 0h1m2 0h1M1 115.5h1m22 0h1"/>
<path stroke="#9f6e5e" d="M146 0.5h1m17 0h1m8 0h1m20 0h1m14 0h1m24 0h1m8 0h1m14 0h1M69 1.5h1m1 0h1m41 0h1m1 0h1m1 0h1m30 0h1m2 0h1m5 0h2m50 0h1m3 0h1m36 0h1m15 0h1M97 2.5h2m3 0h1m1 0h1m6 0h1m14 0h1m2 0h1m7 0h2m2 0h1m4 0h1m10 0h1m9 0h1m2 0h1m6 0h1m4 0h1m4 0h2m5 0h1m6 0h1m5 0h1m6 0h1m6 0h2m2 0h1m2 0h1m3 0h1m6 0h1m5 0h1m3 0h1m1 0h1m1 0h1m5 0h1m3 0h1M149 3.5h1m20 0h1m97 0h1M119 4.5h1M80 5.5h1M167 6.5h1M89 9.5h1M171 10.5h1m5 0h1M169 11.5h1m2 0h1m1 0h1m3 0h1m5 0h1m4 0h1m4 0h1m1 0h1M178 12.5h1m2 0h1M168 14.5h1m1 0h2m2 0h6m6 0h4m2 0h2m2 0h2m1 0h1m1 0h3M168 15.5h1m1 0h3m2 0h1m1 0h1m1 0h5m4 0h1m1 0h3m2 0h5m2 0h1m1 0h1M3 17.5h1m19 0h1m2 0h1m13 0h1m7 0h1m10 0h1m9 0h1m12 0h1M42 26.5h1m1 0h1M84 33.5h12M202 34.5h11m42 0h13M63 35.5h4m1 0h2m5 0h1m11 0h1m4 0h1m1 0h2m46 0h1m66 0h1M63 36.5h1m1 0h1m1 0h3m1 0h1m1 0h1m1 0h17m3 0h2m17 0h1m4 0h1M46 37.5h1m6 0h1m89 0h1m67 0h1m1 0h1m19 0h1M81 38.5h1m7 0h1M78 40.5h1m10 0h1M165 45.5h1m18 0h1m61 0h13M184 56.5h1M102 66.5h1m7 0h1m3 0h1m11 0h2M102 67.5h2m6 0h1m1 0h1m9 0h1m7 0h2m6 0h1m6 0h2m12 0h1m4 0h1m1 0h2m7 0h1m7 0h2m3 0h1m7 0h1m1 0h1m14 0h1m6 0h1m2 0h1m4 0h1m1 0h1m12 0h1m6 0h1m5 0h1m9 0h1M105 68.5h1m2 0h2m3 0h1m4 0h1m7 0h2m1 0h2m10 0h1m3 0h2m11 0h2m7 0h1m2 0h2m16 0h1m2 0h1m5 0h1m7 0h1m5 0h1m23 0h1m6 0h1M86 69.5h1m15 0h1m18 0h1m5 0h1m123 0h1M72 70.5h1m41 0h1M156 71.5h1M86 72.5h1m82 0h1M186 73.5h1M179 80.5h1m59 0h1M240 81.5h1M255 82.5h1M191 87.5h1M242 90.5h1M163 98.5h1m39 0h1M84 99.5h1m7 0h1m63 0h1m2 0h1m1 0h1m4 0h1m2 0h3m1 0h1m3 0h1m2 0h1m1 0h1m1 0h1m30 0h2m5 0h2m1 0h1m2 0h1m4 0h1m3 0h1M154 100.5h1m3 0h2m4 0h3m3 0h1m1 0h1m2 0h1m3 0h1m2 0h1m36 0h1m2 0h1m2 0h1m2 0h1m7 0h1m2 0h2M154 101.5h1m1 0h2m2 0h2m3 0h2m2 0h2m1 0h1m2 0h3m1 0h3m2 0h1m36 0h2m2 0h1m1 0h2m1 0h2m2 0h1m3 0h1m2 0h1m2 0h1M25 115.5h12"/>
<path stroke="#a46f5a" d="M90 1.5h1m29 0h1m102 0h1M99 2.5h1m32 0h1m3 0h1m10 0h1m85 0h1m12 0h1m7 0h1M111 4.5h1M81 5.5h8M168 10.5h3m3 0h3m2 0h2m2 0h9m1 0h1m3 0h1m4 0h2m1 0h1M168 11.5h1m1 0h1m2 0h1m2 0h1m3 0h4m1 0h4m1 0h1m1 0h2m1 0h1m1 0h2m1 0h6M168 12.5h4m1 0h5m2 0h1m1 0h2m1 0h3m1 0h2m1 0h1m1 0h1m1 0h1m3 0h3M169 14.5h1m2 0h2m6 0h3m2 0h1m4 0h2m2 0h2m2 0h1m1 0h1m3 0h2M169 15.5h1m3 0h2m1 0h1m1 0h1m5 0h4m1 0h1m3 0h2m5 0h2m1 0h1m1 0h1M6 17.5h1m5 0h1m6 0h1m8 0h1m8 0h1m17 0h1M98 33.5h1M105 34.5h1m95 0h1M67 35.5h1m2 0h5m1 0h11m1 0h4m18 0h2m10 0h1m7 0h1m77 0h1M64 36.5h1m1 0h1m3 0h1m1 0h1m1 0h1m24 0h1m23 0h1m84 0h2M47 37.5h6m161 0h19M113 38.5h1m20 0h1M260 56.5h1M169 66.5h1m57 0h1m13 0h1m10 0h1M113 67.5h1m35 0h1m26 0h1m15 0h1m4 0h1m10 0h1m1 0h1m7 0h2m2 0h1m1 0h1m6 0h3m3 0h1m1 0h1m4 0h1m4 0h1m4 0h1m2 0h1m1 0h1m1 0h1M86 68.5h1m56 0h1m18 0h1m13 0h1m12 0h1m5 0h1m7 0h1m2 0h1m17 0h1m9 0h1m11 0h1m4 0h1m7 0h1m3 0h1M112 69.5h1M101 70.5h1m124 0h1M143 71.5h1m25 0h1M72 72.5h1M101 74.5h1m97 0h1M113 83.5h1M192 87.5h21M213 90.5h1m25 0h1M155 98.5h1m39 0h1M76 99.5h1m85 0h1m18 0h1m4 0h1m8 0h1m36 0h1M76 100.5h1m91 0h2m1 0h1m5 0h1m3 0h1m3 0h3m7 0h1m38 0h1M173 101.5h1m8 0h1M8 115.5h1m48 0h1"/>
<path stroke="#a97056" d="M115 0.5h1m17 0h1M164 1.5h1m30 0h1m2 0h1m4 0h1m28 0h1m13 0h1M201 3.5h2M151 5.5h1M75 9.5h14M172 10.5h2m4 0h1m2 0h2m9 0h1m1 0h3m1 0h4m2 0h1M171 11.5h1m3 0h1m1 0h1m1 0h1m11 0h1m7 0h1M172 12.5h1m6 0h1m4 0h1m3 0h1m2 0h1m1 0h1m1 0h1m1 0h3m3 0h3M51 17.5h1m2 0h1M199 34.5h2M108 35.5h1m5 0h1m3 0h1m15 0h1m3 0h1m6 0h1m17 0h2m4 0h1m22 0h1M101 36.5h2m42 0h1m10 0h2m9 0h1m7 0h1m11 0h1m5 0h1m4 0h1M210 37.5h1M183 45.5h1m59 0h1M185 56.5h1m50 0h1M156 66.5h1m30 0h1M125 67.5h1m30 0h1m17 0h1m15 0h2m3 0h1m7 0h1m1 0h3m6 0h1m6 0h1m3 0h1m1 0h1m8 0h1m3 0h2m3 0h1m1 0h1m5 0h1m1 0h1m2 0h1m1 0h1m1 0h2m3 0h1M169 68.5h1m20 0h1m1 0h2m4 0h1m1 0h1m1 0h1m6 0h1m2 0h2m4 0h2m8 0h1m2 0h2m4 0h2m8 0h1m1 0h1m4 0h1m6 0h2m4 0h1M199 70.5h1M155 71.5h1m85 0h1M101 72.5h1m139 0h1M126 73.5h1M113 74.5h1m150 0h1M110 83.5h1M242 88.5h1M110 89.5h1M164 99.5h1"/>
<path stroke="#af7253" d="M161 1.5h1m31 0h1m20 0h1m9 0h1m33 0h1m6 0h1m1 0h1M209 3.5h1m57 0h1M112 4.5h7M106 34.5h1m91 0h1M96 35.5h2m2 0h1m1 0h2m3 0h1m12 0h2m5 0h1m5 0h1m1 0h1m1 0h1m1 0h2m6 0h1m1 0h1m2 0h1m8 0h2m5 0h1m1 0h2m1 0h1m2 0h1m2 0h1m8 0h1m1 0h1m4 0h1m10 0h1M100 36.5h1m5 0h1m11 0h1m1 0h2m6 0h1m4 0h1m7 0h1m8 0h2m1 0h1m1 0h1m6 0h1m1 0h1m3 0h1m1 0h1m1 0h1m9 0h1m1 0h1m7 0h1m3 0h1m10 0h1M144 37.5h1m64 0h1M82 38.5h7m44 0h1M80 40.5h1m7 0h1M166 45.5h1M188 56.5h1m1 0h1m1 0h2m2 0h1m2 0h1m3 0h1m2 0h1m1 0h2m1 0h1m1 0h1m4 0h1m3 0h1m1 0h1m3 0h1m1 0h3m1 0h2m1 0h1m1 0h2m1 0h1m3 0h1m1 0h1m3 0h2m1 0h1M264 66.5h1M143 67.5h1m45 0h1m3 0h1m7 0h2m6 0h1m6 0h1m9 0h1m2 0h1m8 0h1m7 0h1m1 0h1M156 68.5h1m37 0h1m4 0h1m1 0h1m2 0h1m3 0h1m11 0h1m2 0h1m9 0h1m2 0h1m2 0h1m4 0h1m5 0h1m2 0h1m2 0h1m1 0h1m1 0h1M155 69.5h1m70 0h1M211 70.5h1m52 0h1M187 71.5h1m12 0h1m26 0h1m37 0h1M212 72.5h1M199 73.5h1M186 74.5h1M101 83.5h9m4 0h12M101 89.5h9m4 0h13M155 101.5h1m7 0h1M2 115.5h6"/>
<path stroke="#b4734f" d="M123 0.5h1m5 0h1m2 0h1M168 1.5h1m1 0h1m1 0h1m39 0h1m28 0h1m2 0h1m3 0h1m10 0h1M206 3.5h2m8 0h1m3 0h1m8 0h1m4 0h1m4 0h1m8 0h2m4 0h1m1 0h1m1 0h1m1 0h1m2 0h1m2 0h1M98 35.5h1m2 0h1m14 0h1m2 0h1m3 0h2m7 0h1m8 0h1m1 0h1m6 0h1m4 0h1m1 0h1m7 0h1m6 0h1m1 0h2m6 0h2m7 0h1m4 0h2m2 0h1m2 0h1m3 0h1M97 36.5h1m5 0h1m1 0h1m5 0h1m1 0h1m10 0h3m7 0h1m2 0h1m4 0h1m1 0h1m1 0h1m2 0h1m8 0h1m2 0h1m3 0h2m9 0h1m1 0h1m1 0h1m4 0h1m2 0h2m4 0h1m7 0h2m1 0h1m4 0h1M114 38.5h1M79 40.5h1m1 0h7M186 56.5h2m1 0h1m1 0h1m2 0h2m1 0h2m1 0h3m1 0h2m4 0h1m1 0h1m1 0h4m1 0h3m1 0h1m3 0h1m1 0h1m3 0h1m4 0h1m2 0h1m1 0h1m3 0h1m1 0h3m2 0h1m1 0h3M113 66.5h1M101 67.5h1m25 0h1m27 0h1m13 0h1m30 0h1m3 0h1m10 0h1m1 0h1m17 0h1M102 68.5h1m93 0h1m19 0h1m4 0h1m3 0h1m3 0h1m13 0h1m4 0h1m3 0h1m4 0h1m8 0h1M113 69.5h5m1 0h1M126 70.5h1M252 71.5h1M168 72.5h1m18 0h1m12 0h1m26 0h1M142 74.5h1m68 0h1m14 0h1M243 101.5h1"/>
<path stroke="#b9744b" d="M116 0.5h1m2 0h1m10 0h2M166 1.5h1m4 0h1m8 0h1m16 0h1m1 0h1m10 0h1m7 0h1m18 0h1m4 0h1m2 0h1m5 0h1m1 0h2m6 0h1m1 0h1M203 3.5h3m2 0h1m1 0h1m3 0h1m10 0h1m16 0h2m18 0h1M160 5.5h1m8 0h2M99 33.5h1M107 34.5h1m89 0h1M99 35.5h1m6 0h1m6 0h1m1 0h1m1 0h1m7 0h2m4 0h1m14 0h1m1 0h1m10 0h2m5 0h2m12 0h2m3 0h3m5 0h1m4 0h1m3 0h1m2 0h1M98 36.5h1m8 0h4m1 0h1m3 0h1m5 0h1m9 0h1m3 0h1m1 0h1m1 0h1m6 0h1m6 0h1m4 0h1m3 0h1m7 0h1m1 0h1m5 0h1m6 0h1m3 0h2m3 0h1m1 0h1m2 0h1m5 0h1M208 37.5h1M115 38.5h18M167 45.5h1m1 0h1m2 0h1m9 0h1M207 56.5h1m17 0h2m17 0h2m13 0h1M240 66.5h1M187 67.5h1m46 0h1M187 68.5h1m19 0h1m7 0h1m25 0h1m3 0h1m9 0h1M118 69.5h1m1 0h1M113 71.5h1m54 0h1M264 73.5h1M240 74.5h1"/>
<path stroke="#be7647" d="M117 0.5h2m1 0h1m1 0h1m1 0h1m2 0h1M167 1.5h1m1 0h1m3 0h2m6 0h1m9 0h1m10 0h1m3 0h2m12 0h1m9 0h1m16 0h1m16 0h1M213 3.5h1m1 0h1m1 0h1m3 0h3m2 0h1m1 0h1m6 0h1m1 0h2m2 0h1m2 0h2m4 0h2m5 0h1m7 0h1M154 5.5h1m7 0h1M154 6.5h1M109 35.5h1m18 0h1m7 0h1m16 0h2m1 0h1m1 0h1m19 0h1m5 0h1m4 0h1m11 0h1m2 0h1m5 0h1M104 36.5h1m10 0h1m1 0h1m9 0h1m1 0h3m7 0h1m29 0h1m4 0h1m2 0h1m21 0h1M145 37.5h1M168 45.5h1m1 0h2m1 0h9m23 0h1M168 68.5h1m48 0h1M126 71.5h1M163 99.5h1M155 100.5h1"/>
<path stroke="#c37743" d="M121 0.5h1m3 0h2m1 0h1M159 1.5h1m3 0h1m23 0h2m5 0h1m5 0h1m10 0h1m10 0h1m2 0h1m2 0h1m5 0h1m4 0h1m12 0h1m9 0h1M212 3.5h1m6 0h1m4 0h1m2 0h1m5 0h1m6 0h1m6 0h1m4 0h2m5 0h1m1 0h1m2 0h1M155 5.5h1m3 0h1m5 0h3M166 6.5h1M104 35.5h2m23 0h1m14 0h1m6 0h1m25 0h1m16 0h1m4 0h1M135 36.5h1m7 0h1m4 0h1m3 0h1m28 0h1m1 0h1m20 0h1M207 37.5h1M242 45.5h1M101 66.5h1m66 0h1M212 67.5h1M126 69.5h1M101 73.5h1m53 0h1M155 99.5h1m87 0h1M163 100.5h1m79 0h1"/>
<path stroke="#c8783f" d="M175 1.5h1m1 0h2m4 0h2m1 0h1m3 0h1m1 0h1m11 0h1m3 0h1m7 0h2m37 0h1M211 3.5h1m6 0h1m11 0h2m14 0h1m8 0h1M152 5.5h1m15 0h1M269 33.5h1M108 34.5h1m87 0h1M112 35.5h1m156 0h1M160 36.5h1m40 0h1M146 37.5h1M155 66.5h1m30 0h1M126 67.5h1m15 0h1m109 0h1M101 68.5h1m163 0h1M101 69.5h1M142 71.5h1M269 88.5h1"/>
<path stroke="#cd7a3b" d="M114 0.5h1M160 1.5h1m1 0h1m13 0h1m5 0h1m2 0h1m3 0h1m31 0h1m9 0h1m1 0h1m6 0h1m19 0h1M232 3.5h1m3 0h1M156 5.5h1m1 0h1M155 6.5h11M100 33.5h1M269 36.5h1M151 37.5h3m1 0h1m1 0h1m1 0h1m1 0h1m1 0h1m1 0h2m25 0h1m2 0h12M226 66.5h1M142 68.5h1m84 0h1M113 70.5h1M249 88.5h1m10 0h3m3 0h3"/>
<path stroke="#d27b37" d="M179 1.5h1m35 0h1m10 0h2m1 0h1m6 0h1m6 0h1M157 5.5h1m5 0h2M109 34.5h1M147 37.5h4m3 0h1m1 0h1m1 0h1m1 0h1m1 0h1m1 0h1m2 0h25m1 0h2M251 66.5h1M265 67.5h1M155 68.5h1M142 69.5h1M186 71.5h1m77 0h1M243 88.5h6m1 0h10m3 0h3"/>
<path stroke="#d77c33" d="M201 1.5h1m17 0h1m37 0h1M153 5.5h1m7 0h1M195 34.5h1M211 35.5h1M211 36.5h1M211 67.5h1M240 72.5h1"/>
<path stroke="#dd7e30" d="M196 1.5h1m8 0h1m43 0h1M197 33.5h1M110 34.5h1M168 67.5h1M240 71.5h1M186 72.5h1"/>
<path stroke="#e27f2c" d="M235 1.5h1m2 0h1m17 0h1M196 33.5h1m1 0h1M206 45.5h1m34 0h1M199 67.5h1M226 71.5h1M226 72.5h1"/>
<path stroke="#e78028" d="M165 1.5h1M101 33.5h1M194 34.5h1M251 67.5h1M251 71.5h1"/>
<path stroke="#ec8224" d="M113 0.5h1M203 33.5h1m1 0h2m2 0h17m1 0h3m2 0h9m1 0h10m1 0h1M111 34.5h1M240 45.5h1M186 67.5h1M186 68.5h1M199 71.5h1"/>
<path stroke="#f18320" d="M79 0.5h34M102 33.5h94m3 0h4m1 0h1m2 0h2m17 0h1m3 0h2m9 0h1m10 0h1m1 0h15M112 34.5h82M212 35.5h57M212 36.5h57M207 45.5h33M264 67.5h1M226 68.5h1m13 0h1m23 0h1M199 72.5h1m11 0h1"/>
</g>
<line x1="818.1" y1="260.9" x2="1419.48" y2="260.9" stroke="#fff" stroke-width="2.4"/>
<line x1="818.1" y1="441.65" x2="1419.48" y2="441.65" stroke="#fff" stroke-width="2.4"/>
<line x1="818.1" y1="619.5" x2="1419.48" y2="619.5" stroke="#fff" stroke-width="2.4"/>
<line x1="1018.56" y1="77" x2="1018.56" y2="761.2" stroke="#fff" stroke-width="2.3" stroke-dasharray="2.7 1.2"/>
<line x1="1118.79" y1="77" x2="1118.79" y2="761.2" stroke="#fff" stroke-width="2.3" stroke-dasharray="2.7 1.2"/>
<rect x="818" y="76.85" width="601.45" height="684.65" fill="none" stroke="#000" stroke-width="3.1"/>
<text x="829.5" y="103" fill="#fff">Mouse 1</text>
<text x="829.5" y="136.3" fill="#fff">33 cells</text>
<text x="829.5" y="287.5" fill="#fff">Mouse 2</text>
<text x="829.5" y="320" fill="#fff">33 cells</text>
<text x="829.5" y="468.3" fill="#fff">Mouse 3</text>
<text x="829.5" y="500.8" fill="#fff">32 cells</text>
<text x="829.5" y="646.3" fill="#fff">Mouse 4</text>
<text x="829.5" y="679.5" fill="#fff">25 cells</text>
<line x1="818.1" y1="762.8" x2="818.1" y2="767.3" stroke="#000" stroke-width="2.2"/>
<text x="818.1" y="800.4" text-anchor="middle">0</text>
<line x1="918.33" y1="762.8" x2="918.33" y2="767.3" stroke="#000" stroke-width="2.2"/>
<text x="918.33" y="800.4" text-anchor="middle">15</text>
<line x1="1018.56" y1="762.8" x2="1018.56" y2="767.3" stroke="#000" stroke-width="2.2"/>
<text x="1018.56" y="800.4" text-anchor="middle">30</text>
<line x1="1118.79" y1="762.8" x2="1118.79" y2="767.3" stroke="#000" stroke-width="2.2"/>
<text x="1118.79" y="800.4" text-anchor="middle">45</text>
<line x1="1219.02" y1="762.8" x2="1219.02" y2="767.3" stroke="#000" stroke-width="2.2"/>
<text x="1219.02" y="800.4" text-anchor="middle">60</text>
<line x1="1319.25" y1="762.8" x2="1319.25" y2="767.3" stroke="#000" stroke-width="2.2"/>
<text x="1319.25" y="800.4" text-anchor="middle">75</text>
<line x1="1419.48" y1="762.8" x2="1419.48" y2="767.3" stroke="#000" stroke-width="2.2"/>
<text x="1419.48" y="800.4" text-anchor="middle">90</text>
<text x="1148.7" y="839.5" text-anchor="middle">Time (s)</text>
<defs><linearGradient id="cb" x1="0" y1="1" x2="0" y2="0"><stop offset="0" stop-color="#4057a8"/><stop offset="1" stop-color="#f18320"/></linearGradient></defs>
<rect x="1441.5" y="76.85" width="22.2" height="684.65" fill="url(#cb)" stroke="#000" stroke-width="3"/>
<line x1="1465" y1="93" x2="1469.8" y2="93" stroke="#000" stroke-width="2.1"/>
<text x="1481" y="103.3">2.5</text>
<line x1="1465" y1="186.28" x2="1469.8" y2="186.28" stroke="#000" stroke-width="2.1"/>
<text x="1481" y="196.58">2.0</text>
<line x1="1465" y1="279.55" x2="1469.8" y2="279.55" stroke="#000" stroke-width="2.1"/>
<text x="1481" y="289.85">1.5</text>
<line x1="1465" y1="372.83" x2="1469.8" y2="372.83" stroke="#000" stroke-width="2.1"/>
<text x="1481" y="383.13">1.0</text>
<line x1="1465" y1="466.1" x2="1469.8" y2="466.1" stroke="#000" stroke-width="2.1"/>
<text x="1481" y="476.4">0.5</text>
<line x1="1465" y1="559.38" x2="1469.8" y2="559.38" stroke="#000" stroke-width="2.1"/>
<text x="1481" y="569.67">0.0</text>
<line x1="1465" y1="652.65" x2="1469.8" y2="652.65" stroke="#000" stroke-width="2.1"/>
<text x="1481" y="662.95">−0.5</text>
<line x1="1465" y1="745.93" x2="1469.8" y2="745.93" stroke="#000" stroke-width="2.1"/>
<text x="1481" y="756.23">−1.0</text>
<text x="1559.3" y="407.9" text-anchor="middle">ΔF</text>
<line x1="1538.6" y1="414" x2="1580" y2="414" stroke="#000" stroke-width="2.4"/>
<text x="1545.7" y="440.9">F</text>
<text x="1563.5" y="449.6" font-size="20">0</text>
<text x="818" y="30.5" font-size="40" font-weight="bold">b</text>
<text x="857" y="62.5">Pirt-GCaMP3</text></g>
<g id="panel-cdgh"><text x="1619" y="30.5" font-size="40" font-weight="bold">c</text>
<text x="1674" y="27">Response by frequency</text>
<line x1="1745.6" y1="327.2" x2="2025" y2="327.2" stroke="#9a9a9a" stroke-width="1.2"/>
<line x1="1745.6" y1="283.06" x2="2025" y2="283.06" stroke="#9a9a9a" stroke-width="1.2"/>
<line x1="1745.6" y1="238.93" x2="2025" y2="238.93" stroke="#9a9a9a" stroke-width="1.2"/>
<line x1="1745.6" y1="194.79" x2="2025" y2="194.79" stroke="#9a9a9a" stroke-width="1.2"/>
<line x1="1745.6" y1="150.66" x2="2025" y2="150.66" stroke="#9a9a9a" stroke-width="1.2"/>
<line x1="1745.6" y1="106.52" x2="2025" y2="106.52" stroke="#9a9a9a" stroke-width="1.2"/>
<line x1="1745.6" y1="62.39" x2="2025" y2="62.39" stroke="#9a9a9a" stroke-width="1.2"/>
<g clip-path="url(#cc)">
<line x1="1828.1" y1="289.1" x2="1872.3" y2="289.1" stroke="#000" stroke-width="2"/>
<line x1="1850" y1="272.7" x2="1850" y2="305.9" stroke="#000" stroke-width="2"/>
<line x1="1836.5" y1="272.7" x2="1863.9" y2="272.7" stroke="#000" stroke-width="2"/>
<line x1="1836.5" y1="305.9" x2="1863.9" y2="305.9" stroke="#000" stroke-width="2"/>
<line x1="1897.5" y1="250.4" x2="1942.1" y2="250.4" stroke="#000" stroke-width="2"/>
<line x1="1919.8" y1="218.7" x2="1919.8" y2="281.5" stroke="#000" stroke-width="2"/>
<line x1="1905.9" y1="218.7" x2="1933.9" y2="218.7" stroke="#000" stroke-width="2"/>
<line x1="1905.9" y1="281.5" x2="1933.9" y2="281.5" stroke="#000" stroke-width="2"/>
<line x1="1982" y1="325" x2="1996" y2="325" stroke="#000" stroke-width="2"/>
<circle cx="1766.7" cy="327.2" r="5.7" fill="#4a7282"/>
<circle cx="1780.2" cy="327.2" r="5.7" fill="#4a7282"/>
<circle cx="1795.5" cy="327.2" r="5.7" fill="#4a7282"/>
<circle cx="1842.4" cy="261.1" r="5.7" fill="#4a7282"/>
<circle cx="1858.2" cy="261.1" r="5.7" fill="#4a7282"/>
<circle cx="1850" cy="306.6" r="5.7" fill="#4a7282"/>
<circle cx="1850" cy="327.2" r="5.7" fill="#4a7282"/>
<circle cx="1917.7" cy="167.6" r="5.7" fill="#4a7282"/>
<circle cx="1912" cy="216.6" r="5.7" fill="#4a7282"/>
<circle cx="1928.2" cy="220.8" r="5.7" fill="#4a7282"/>
<circle cx="1923.8" cy="319" r="5.7" fill="#4a7282"/>
<circle cx="1912.9" cy="327.2" r="5.7" fill="#4a7282"/>
<circle cx="1989.4" cy="315.4" r="5.7" fill="#4a7282"/>
<circle cx="1968" cy="327.2" r="5.7" fill="#4a7282"/>
<circle cx="1977" cy="327.2" r="5.7" fill="#4a7282"/>
<circle cx="1989.4" cy="327.2" r="5.7" fill="#4a7282"/>
<circle cx="1996.3" cy="327.2" r="5.7" fill="#4a7282"/>
<circle cx="2005.8" cy="327.2" r="5.7" fill="#4a7282"/>
<circle cx="2012.5" cy="327.2" r="5.7" fill="#4a7282"/>
</g>
<rect x="1745.6" y="48.3" width="279.4" height="278.7" fill="none" stroke="#000" stroke-width="3.2"/>
<line x1="1739.6" y1="327.2" x2="1745.6" y2="327.2" stroke="#000" stroke-width="2"/>
<text x="1727.6" y="337.5" text-anchor="end">0</text>
<line x1="1739.6" y1="283.06" x2="1745.6" y2="283.06" stroke="#000" stroke-width="2"/>
<text x="1727.6" y="293.37" text-anchor="end">5</text>
<line x1="1739.6" y1="238.93" x2="1745.6" y2="238.93" stroke="#000" stroke-width="2"/>
<text x="1727.6" y="249.23" text-anchor="end">10</text>
<line x1="1739.6" y1="194.79" x2="1745.6" y2="194.79" stroke="#000" stroke-width="2"/>
<text x="1727.6" y="205.09" text-anchor="end">15</text>
<line x1="1739.6" y1="150.66" x2="1745.6" y2="150.66" stroke="#000" stroke-width="2"/>
<text x="1727.6" y="160.96" text-anchor="end">20</text>
<line x1="1739.6" y1="106.52" x2="1745.6" y2="106.52" stroke="#000" stroke-width="2"/>
<text x="1727.6" y="116.82" text-anchor="end">25</text>
<line x1="1739.6" y1="62.39" x2="1745.6" y2="62.39" stroke="#000" stroke-width="2"/>
<text x="1727.6" y="72.69" text-anchor="end">30</text>
<line x1="1780.2" y1="327" x2="1780.2" y2="333" stroke="#000" stroke-width="2"/>
<text x="1780.2" y="365.2" text-anchor="middle">Ctrl</text>
<line x1="1850" y1="327" x2="1850" y2="333" stroke="#000" stroke-width="2"/>
<text x="1850" y="365.2" text-anchor="middle">7</text>
<line x1="1919.8" y1="327" x2="1919.8" y2="333" stroke="#000" stroke-width="2"/>
<text x="1919.8" y="365.2" text-anchor="middle">14</text>
<line x1="1989.4" y1="327" x2="1989.4" y2="333" stroke="#000" stroke-width="2"/>
<text x="1989.4" y="365.2" text-anchor="middle">21</text>
<path d="M1780.2,315.4 V89.8 H1919.8 V155.6" fill="none" stroke="#000" stroke-width="1.8"/>
<text x="1850.2" y="87" font-size="24" text-anchor="middle">*</text>
<text x="1888.5" y="407.3" text-anchor="middle">SNS Freq. (Hz)</text>
<text transform="translate(1671.5,199.8) rotate(-90)" text-anchor="middle">Percent response</text>
<text x="1619" y="472.5" font-size="40" font-weight="bold">d</text>
<text x="1674" y="465.1">Response to SNS</text>
<line x1="1745.6" y1="796.6" x2="2025" y2="796.6" stroke="#9a9a9a" stroke-width="1.2"/>
<line x1="1745.6" y1="746.55" x2="2025" y2="746.55" stroke="#9a9a9a" stroke-width="1.2"/>
<line x1="1745.6" y1="696.5" x2="2025" y2="696.5" stroke="#9a9a9a" stroke-width="1.2"/>
<line x1="1745.6" y1="646.45" x2="2025" y2="646.45" stroke="#9a9a9a" stroke-width="1.2"/>
<line x1="1745.6" y1="596.4" x2="2025" y2="596.4" stroke="#9a9a9a" stroke-width="1.2"/>
<line x1="1745.6" y1="546.35" x2="2025" y2="546.35" stroke="#9a9a9a" stroke-width="1.2"/>
<line x1="1745.6" y1="496.3" x2="2025" y2="496.3" stroke="#9a9a9a" stroke-width="1.2"/>
<g clip-path="url(#cd)">
<line x1="1932.5" y1="725.1" x2="1977.2" y2="725.1" stroke="#000" stroke-width="2"/>
<line x1="1954.9" y1="698.7" x2="1954.9" y2="751.8" stroke="#000" stroke-width="2"/>
<line x1="1940.6" y1="698.7" x2="1968.6" y2="698.7" stroke="#000" stroke-width="2"/>
<line x1="1940.6" y1="751.8" x2="1968.6" y2="751.8" stroke="#000" stroke-width="2"/>
<circle cx="1801.6" cy="796.6" r="5.7" fill="#4a7282"/>
<circle cx="1815.3" cy="796.6" r="5.7" fill="#4a7282"/>
<circle cx="1830.6" cy="796.6" r="5.7" fill="#4a7282"/>
<circle cx="1954.9" cy="594.4" r="5.7" fill="#4a7282"/>
<circle cx="1954.9" cy="615.2" r="5.7" fill="#4a7282"/>
<circle cx="1954.9" cy="674.3" r="5.7" fill="#4a7282"/>
<circle cx="1947.2" cy="720.5" r="5.7" fill="#4a7282"/>
<circle cx="1960.4" cy="770.6" r="5.7" fill="#4a7282"/>
<circle cx="1949.3" cy="779.8" r="5.7" fill="#4a7282"/>
<circle cx="1962" cy="783.8" r="5.7" fill="#4a7282"/>
<circle cx="1954.9" cy="796.6" r="5.7" fill="#4a7282"/>
<circle cx="1970.6" cy="796.6" r="5.7" fill="#4a7282"/>
</g>
<rect x="1745.6" y="482.5" width="279.4" height="313.3" fill="none" stroke="#000" stroke-width="3.2"/>
<line x1="1739.6" y1="796.6" x2="1745.6" y2="796.6" stroke="#000" stroke-width="2"/>
<text x="1727.6" y="806.9" text-anchor="end">0</text>
<line x1="1739.6" y1="746.55" x2="1745.6" y2="746.55" stroke="#000" stroke-width="2"/>
<text x="1727.6" y="756.85" text-anchor="end">5</text>
<line x1="1739.6" y1="696.5" x2="1745.6" y2="696.5" stroke="#000" stroke-width="2"/>
<text x="1727.6" y="706.8" text-anchor="end">10</text>
<line x1="1739.6" y1="646.45" x2="1745.6" y2="646.45" stroke="#000" stroke-width="2"/>
<text x="1727.6" y="656.75" text-anchor="end">15</text>
<line x1="1739.6" y1="596.4" x2="1745.6" y2="596.4" stroke="#000" stroke-width="2"/>
<text x="1727.6" y="606.7" text-anchor="end">20</text>
<line x1="1739.6" y1="546.35" x2="1745.6" y2="546.35" stroke="#000" stroke-width="2"/>
<text x="1727.6" y="556.65" text-anchor="end">25</text>
<line x1="1739.6" y1="496.3" x2="1745.6" y2="496.3" stroke="#000" stroke-width="2"/>
<text x="1727.6" y="506.6" text-anchor="end">30</text>
<line x1="1815.3" y1="795.8" x2="1815.3" y2="801.8" stroke="#000" stroke-width="2"/>
<text x="1815.3" y="835.4" text-anchor="middle">Ctrl</text>
<line x1="1954.9" y1="795.8" x2="1954.9" y2="801.8" stroke="#000" stroke-width="2"/>
<text x="1954.9" y="835.4" text-anchor="middle">SNS</text>
<text transform="translate(1670.8,651.5) rotate(-90)" text-anchor="middle">Percent response</text>
<text x="1619" y="912" font-size="40" font-weight="bold">g</text>
<text x="1672" y="915.2">Fast blue labeled cells</text>
<line x1="1745.6" y1="1268.1" x2="2025" y2="1268.1" stroke="#9a9a9a" stroke-width="1.2"/>
<line x1="1745.6" y1="1213.95" x2="2025" y2="1213.95" stroke="#9a9a9a" stroke-width="1.2"/>
<line x1="1745.6" y1="1159.8" x2="2025" y2="1159.8" stroke="#9a9a9a" stroke-width="1.2"/>
<line x1="1745.6" y1="1105.65" x2="2025" y2="1105.65" stroke="#9a9a9a" stroke-width="1.2"/>
<line x1="1745.6" y1="1051.5" x2="2025" y2="1051.5" stroke="#9a9a9a" stroke-width="1.2"/>
<line x1="1745.6" y1="997.35" x2="2025" y2="997.35" stroke="#9a9a9a" stroke-width="1.2"/>
<line x1="1745.6" y1="943.2" x2="2025" y2="943.2" stroke="#9a9a9a" stroke-width="1.2"/>
<line x1="1863.1" y1="1121.7" x2="1907.6" y2="1121.7" stroke="#000" stroke-width="2"/>
<line x1="1885.2" y1="1106.9" x2="1885.2" y2="1136.1" stroke="#000" stroke-width="2"/>
<line x1="1871.5" y1="1106.9" x2="1898.9" y2="1106.9" stroke="#000" stroke-width="2"/>
<line x1="1871.5" y1="1136.1" x2="1898.9" y2="1136.1" stroke="#000" stroke-width="2"/>
<circle cx="1870.7" cy="1108.9" r="5.7" fill="#4a7282"/>
<circle cx="1885.2" cy="1103.4" r="5.7" fill="#4a7282"/>
<circle cx="1897.9" cy="1108.9" r="5.7" fill="#4a7282"/>
<circle cx="1885.2" cy="1165.4" r="5.7" fill="#4a7282"/>
<rect x="1745.6" y="928.8" width="279.4" height="353.6" fill="none" stroke="#000" stroke-width="3.2"/>
<line x1="1739.6" y1="1268.1" x2="1745.6" y2="1268.1" stroke="#000" stroke-width="2"/>
<text x="1727.6" y="1278.4" text-anchor="end">0.00</text>
<line x1="1739.6" y1="1213.95" x2="1745.6" y2="1213.95" stroke="#000" stroke-width="2"/>
<text x="1727.6" y="1224.25" text-anchor="end">0.05</text>
<line x1="1739.6" y1="1159.8" x2="1745.6" y2="1159.8" stroke="#000" stroke-width="2"/>
<text x="1727.6" y="1170.1" text-anchor="end">0.10</text>
<line x1="1739.6" y1="1105.65" x2="1745.6" y2="1105.65" stroke="#000" stroke-width="2"/>
<text x="1727.6" y="1115.95" text-anchor="end">0.15</text>
<line x1="1739.6" y1="1051.5" x2="1745.6" y2="1051.5" stroke="#000" stroke-width="2"/>
<text x="1727.6" y="1061.8" text-anchor="end">0.20</text>
<line x1="1739.6" y1="997.35" x2="1745.6" y2="997.35" stroke="#000" stroke-width="2"/>
<text x="1727.6" y="1007.65" text-anchor="end">0.25</text>
<line x1="1739.6" y1="943.2" x2="1745.6" y2="943.2" stroke="#000" stroke-width="2"/>
<text x="1727.6" y="953.5" text-anchor="end">0.30</text>
<text transform="translate(1652,1119) rotate(-90)" text-anchor="middle">FB+ cells/GCaMP cells</text>
<text x="1619" y="1366" font-size="40" font-weight="bold">h</text>
<text x="1671" y="1354.8">Fast blue response to SNS</text>
<line x1="1745.6" y1="1714.6" x2="2025" y2="1714.6" stroke="#9a9a9a" stroke-width="1.2"/>
<line x1="1745.6" y1="1660.35" x2="2025" y2="1660.35" stroke="#9a9a9a" stroke-width="1.2"/>
<line x1="1745.6" y1="1606.1" x2="2025" y2="1606.1" stroke="#9a9a9a" stroke-width="1.2"/>
<line x1="1745.6" y1="1551.85" x2="2025" y2="1551.85" stroke="#9a9a9a" stroke-width="1.2"/>
<line x1="1745.6" y1="1497.6" x2="2025" y2="1497.6" stroke="#9a9a9a" stroke-width="1.2"/>
<line x1="1745.6" y1="1443.35" x2="2025" y2="1443.35" stroke="#9a9a9a" stroke-width="1.2"/>
<line x1="1745.6" y1="1389.1" x2="2025" y2="1389.1" stroke="#9a9a9a" stroke-width="1.2"/>
<line x1="1863.2" y1="1608.3" x2="1907.5" y2="1608.3" stroke="#000" stroke-width="2"/>
<line x1="1885.2" y1="1542.3" x2="1885.2" y2="1674" stroke="#000" stroke-width="2"/>
<line x1="1871.4" y1="1542.3" x2="1898.8" y2="1542.3" stroke="#000" stroke-width="2"/>
<line x1="1871.4" y1="1674" x2="1898.8" y2="1674" stroke="#000" stroke-width="2"/>
<circle cx="1885.9" cy="1443.9" r="5.7" fill="#4a7282"/>
<circle cx="1874.9" cy="1560.2" r="5.7" fill="#4a7282"/>
<circle cx="1874.9" cy="1714.6" r="5.7" fill="#4a7282"/>
<circle cx="1894.3" cy="1714.6" r="5.7" fill="#4a7282"/>
<rect x="1745.6" y="1375.1" width="279.4" height="384.9" fill="none" stroke="#000" stroke-width="3.2"/>
<line x1="1739.6" y1="1714.6" x2="1745.6" y2="1714.6" stroke="#000" stroke-width="2"/>
<text x="1727.6" y="1724.9" text-anchor="end">0</text>
<line x1="1739.6" y1="1660.35" x2="1745.6" y2="1660.35" stroke="#000" stroke-width="2"/>
<text x="1727.6" y="1670.65" text-anchor="end">5</text>
<line x1="1739.6" y1="1606.1" x2="1745.6" y2="1606.1" stroke="#000" stroke-width="2"/>
<text x="1727.6" y="1616.4" text-anchor="end">10</text>
<line x1="1739.6" y1="1551.85" x2="1745.6" y2="1551.85" stroke="#000" stroke-width="2"/>
<text x="1727.6" y="1562.15" text-anchor="end">15</text>
<line x1="1739.6" y1="1497.6" x2="1745.6" y2="1497.6" stroke="#000" stroke-width="2"/>
<text x="1727.6" y="1507.9" text-anchor="end">20</text>
<line x1="1739.6" y1="1443.35" x2="1745.6" y2="1443.35" stroke="#000" stroke-width="2"/>
<text x="1727.6" y="1453.65" text-anchor="end">25</text>
<line x1="1739.6" y1="1389.1" x2="1745.6" y2="1389.1" stroke="#000" stroke-width="2"/>
<text x="1727.6" y="1399.4" text-anchor="end">30</text>
<text transform="translate(1679.3,1551.5) rotate(-90)" text-anchor="middle">FB+ cells percent response</text></g>
<g id="panel-e"><rect x="1" y="928" width="759.5" height="759.7" fill="#000"/>
<g clip-path="url(#ce)"><g filter="url(#fe)">
<rect x="0" y="927" width="762" height="762" fill="#000" fill-opacity="0"/>
<ellipse cx="447" cy="1122" rx="20" ry="34" fill="rgb(8,40,13)" />
<ellipse cx="422" cy="1085" rx="18" ry="30" fill="rgb(7,33,10)"  transform="rotate(10 422 1085)"/>
<ellipse cx="612" cy="1338" rx="10" ry="18" fill="rgb(12,57,18)"  transform="rotate(-25 612 1338)"/>
<ellipse cx="205" cy="1441" rx="7" ry="5" fill="rgb(19,89,29)" />
<ellipse cx="240" cy="1459" rx="6" ry="5" fill="rgb(19,89,29)" />
<ellipse cx="143" cy="1455" rx="7" ry="9" fill="rgb(10,48,15)" />
<ellipse cx="138" cy="1490" rx="4" ry="7" fill="rgb(10,48,15)" />
<ellipse cx="352" cy="1597" rx="7" ry="3" fill="rgb(14,67,22)"  transform="rotate(-40 352 1597)"/>
<ellipse cx="385" cy="1435" rx="3" ry="6" fill="rgb(8,40,13)"  transform="rotate(20 385 1435)"/>
<ellipse cx="520" cy="1420" rx="4" ry="10" fill="rgb(14,67,22)"  transform="rotate(20 520 1420)"/>
<ellipse cx="500" cy="1192" rx="18" ry="9" fill="rgb(10,48,15)"  transform="rotate(20 500 1192)"/>
<ellipse cx="420" cy="1061.3" rx="15" ry="27.5" fill="rgb(17,78,25)" />
<ellipse cx="450" cy="1101.8" rx="15.3" ry="25.3" fill="rgb(24,113,37)" />
<ellipse cx="387.5" cy="1142.8" rx="30" ry="25" fill="rgb(22,102,33)" />
<ellipse cx="437.8" cy="1175.5" rx="21" ry="15" fill="rgb(5,25,8)" />
<ellipse cx="486.2" cy="1179.4" rx="19.8" ry="14" fill="rgb(11,50,16)" />
<ellipse cx="452" cy="1206.9" rx="39.5" ry="10.8" fill="rgb(6,29,9)" />
<ellipse cx="601.3" cy="1299.3" rx="16.8" ry="22" fill="rgb(34,157,51)" />
<ellipse cx="599.5" cy="1348.8" rx="19" ry="15" fill="rgb(7,36,11)" />
<ellipse cx="563.8" cy="1392.5" rx="14" ry="19" fill="rgb(5,27,8)" />
<ellipse cx="605.5" cy="1403.8" rx="14" ry="25" fill="rgb(7,36,11)"  transform="rotate(-6 605.5 1403.8)"/>
<ellipse cx="63.3" cy="1330.3" rx="12" ry="22" fill="rgb(13,61,20)" />
<ellipse cx="235.3" cy="1343.5" rx="20.8" ry="20.8" fill="rgb(4,21,6)" />
<ellipse cx="249.3" cy="1385.8" rx="21.8" ry="22" fill="rgb(5,25,8)" />
<ellipse cx="193" cy="1395.8" rx="18.8" ry="19.3" fill="rgb(4,21,6)" />
<ellipse cx="284.3" cy="1414" rx="15.5" ry="18.8" fill="rgb(5,23,7)" />
<ellipse cx="212.3" cy="1435.5" rx="29.5" ry="15" fill="rgb(4,21,6)" />
<ellipse cx="233.8" cy="1465.5" rx="27.5" ry="14" fill="rgb(4,21,6)" />
<ellipse cx="155.5" cy="1483.3" rx="27.5" ry="26.8" fill="rgb(3,17,5)" />
<ellipse cx="474.3" cy="1554" rx="27.5" ry="20.8" fill="rgb(14,67,22)" />
<ellipse cx="395.8" cy="1579.5" rx="23.3" ry="16.3" fill="rgb(12,57,18)" />
<ellipse cx="374.3" cy="1630.3" rx="22.5" ry="16.8" fill="rgb(8,40,13)" />
</g>
<g filter="url(#fb)" style="mix-blend-mode:screen">
<rect x="-40" y="880" width="850" height="850" fill="#000"/>
<circle cx="380.5" cy="1307.8" r="395" fill="#fff" fill-opacity="0.36"/>
<line x1="470" y1="930" x2="700" y2="1230" stroke="#fff" stroke-width="40" stroke-opacity="0.45" stroke-linecap="round"/>
<line x1="700" y1="1230" x2="760" y2="1420" stroke="#fff" stroke-width="40" stroke-opacity="0.35" stroke-linecap="round"/>
<line x1="540" y1="940" x2="740" y2="1180" stroke="#fff" stroke-width="30" stroke-opacity="0.4" stroke-linecap="round"/>
<line x1="600" y1="960" x2="760" y2="1150" stroke="#fff" stroke-width="60" stroke-opacity="0.25" stroke-linecap="round"/>
<line x1="420" y1="940" x2="560" y2="1100" stroke="#fff" stroke-width="50" stroke-opacity="0.2" stroke-linecap="round"/>
<line x1="60" y1="1180" x2="120" y2="1500" stroke="#fff" stroke-width="120" stroke-opacity="0.15" stroke-linecap="round"/>
<line x1="150" y1="1560" x2="330" y2="1660" stroke="#fff" stroke-width="90" stroke-opacity="0.2" stroke-linecap="round"/>
<line x1="650" y1="1300" x2="700" y2="1560" stroke="#fff" stroke-width="70" stroke-opacity="0.2" stroke-linecap="round"/>
<line x1="250" y1="950" x2="420" y2="980" stroke="#fff" stroke-width="50" stroke-opacity="0.15" stroke-linecap="round"/>
<ellipse cx="400" cy="1130" rx="55" ry="50" fill="#000" fill-opacity="0.35"/>
<ellipse cx="450" cy="1200" rx="60" ry="30" fill="#000" fill-opacity="0.3"/>
<ellipse cx="600" cy="1320" rx="25" ry="40" fill="#000" fill-opacity="0.4"/>
<ellipse cx="380" cy="1400" rx="110" ry="90" fill="#000" fill-opacity="0.35"/>
<ellipse cx="230" cy="1400" rx="90" ry="80" fill="#000" fill-opacity="0.25"/>
<ellipse cx="470" cy="1560" rx="40" ry="30" fill="#000" fill-opacity="0.3"/>
<ellipse cx="385" cy="1600" rx="40" ry="35" fill="#000" fill-opacity="0.3"/>
<ellipse cx="560" cy="1450" rx="60" ry="90" fill="#000" fill-opacity="0.3"/>
<ellipse cx="300" cy="1150" rx="60" ry="60" fill="#000" fill-opacity="0.2"/>
</g>
<circle cx="380.5" cy="1307.8" r="380" fill="url(#vg)"/>
<circle cx="381.3" cy="1307.5" r="36" fill="#000"/>
</g>
<ellipse cx="420" cy="1061.3" rx="15" ry="27.5" fill="none" stroke="#d9cf36" stroke-width="1.25" stroke-linejoin="round"/>
<ellipse cx="450" cy="1101.8" rx="15.3" ry="25.3" fill="none" stroke="#d9cf36" stroke-width="1.25" stroke-linejoin="round"/>
<ellipse cx="387.5" cy="1142.8" rx="30" ry="25" fill="none" stroke="#d9cf36" stroke-width="1.25" stroke-linejoin="round"/>
<ellipse cx="437.8" cy="1175.5" rx="21" ry="15" fill="none" stroke="#d9cf36" stroke-width="1.25" stroke-linejoin="round"/>
<ellipse cx="486.2" cy="1179.4" rx="19.8" ry="14" fill="none" stroke="#d9cf36" stroke-width="1.25" stroke-linejoin="round"/>
<ellipse cx="452" cy="1206.9" rx="39.5" ry="10.8" fill="none" stroke="#d9cf36" stroke-width="1.25" stroke-linejoin="round"/>
<ellipse cx="601.3" cy="1299.3" rx="16.8" ry="22" fill="none" stroke="#d9cf36" stroke-width="1.25" stroke-linejoin="round"/>
<ellipse cx="599.5" cy="1348.8" rx="19" ry="15" fill="none" stroke="#d9cf36" stroke-width="1.25" stroke-linejoin="round"/>
<ellipse cx="563.8" cy="1392.5" rx="14" ry="19" fill="none" stroke="#d9cf36" stroke-width="1.25" stroke-linejoin="round"/>
<ellipse cx="605.5" cy="1403.8" rx="14" ry="25" fill="none" stroke="#d9cf36" stroke-width="1.25" stroke-linejoin="round" transform="rotate(-6 605.5 1403.8)"/>
<ellipse cx="63.3" cy="1330.3" rx="12" ry="22" fill="none" stroke="#d9cf36" stroke-width="1.25" stroke-linejoin="round"/>
<ellipse cx="235.3" cy="1343.5" rx="20.8" ry="20.8" fill="none" stroke="#d9cf36" stroke-width="1.25" stroke-linejoin="round"/>
<ellipse cx="249.3" cy="1385.8" rx="21.8" ry="22" fill="none" stroke="#d9cf36" stroke-width="1.25" stroke-linejoin="round"/>
<ellipse cx="193" cy="1395.8" rx="18.8" ry="19.3" fill="none" stroke="#d9cf36" stroke-width="1.25" stroke-linejoin="round"/>
<ellipse cx="284.3" cy="1414" rx="15.5" ry="18.8" fill="none" stroke="#d9cf36" stroke-width="1.25" stroke-linejoin="round"/>
<ellipse cx="212.3" cy="1435.5" rx="29.5" ry="15" fill="none" stroke="#d9cf36" stroke-width="1.25" stroke-linejoin="round"/>
<ellipse cx="233.8" cy="1465.5" rx="27.5" ry="14" fill="none" stroke="#d9cf36" stroke-width="1.25" stroke-linejoin="round"/>
<ellipse cx="155.5" cy="1483.3" rx="27.5" ry="26.8" fill="none" stroke="#d9cf36" stroke-width="1.25" stroke-linejoin="round"/>
<ellipse cx="474.3" cy="1554" rx="27.5" ry="20.8" fill="none" stroke="#d9cf36" stroke-width="1.25" stroke-linejoin="round"/>
<ellipse cx="395.8" cy="1579.5" rx="23.3" ry="16.3" fill="none" stroke="#d9cf36" stroke-width="1.25" stroke-linejoin="round"/>
<ellipse cx="374.3" cy="1630.3" rx="22.5" ry="16.8" fill="none" stroke="#d9cf36" stroke-width="1.25" stroke-linejoin="round"/>
<text x="429.5" y="1047" fill="#fff">18</text>
<text x="467.8" y="1097.3" fill="#fff">3</text>
<text x="335.5" y="1127.5" fill="#fff">17</text>
<text x="451" y="1164.2" fill="#fff">9</text>
<text x="503.5" y="1176" fill="#fff">10</text>
<text x="617.3" y="1295" fill="#fff">5</text>
<text x="622.3" y="1358.8" fill="#fff">4</text>
<text x="526" y="1431" fill="#fff">12</text>
<text x="617.3" y="1440" fill="#fff">8</text>
<text x="78" y="1339.8" fill="#fff">15</text>
<text x="244.8" y="1327.8" fill="#fff">14</text>
<text x="170.5" y="1372.8" fill="#fff">16</text>
<text x="266" y="1378.5" fill="#fff">11</text>
<text x="301" y="1422.3" fill="#fff">20</text>
<text x="153.5" y="1444" fill="#fff">21</text>
<text x="254.8" y="1494" fill="#fff">19</text>
<text x="414.8" y="1609.8" fill="#fff">6</text>
<text x="392.3" y="1661" fill="#fff">13</text>
<text x="503.5" y="1585" fill="#fff">7</text>
<rect x="175.5" y="1496.5" width="31" height="30.5" fill="#fff"/>
<text x="191" y="1520.5" text-anchor="middle" fill="#3f52a5">1</text>
<rect x="487" y="1209.3" width="30.5" height="30.3" fill="#fff"/>
<text x="502.3" y="1232.8" text-anchor="middle" fill="#3f52a5">2</text>
<text x="4" y="958.8" fill="#6cc04a">GCaMP</text>
<text x="4" y="992" fill="#4a5db0">Fast blue</text>
<rect x="38" y="1642" width="279.5" height="18.7" fill="#fff"/>
<text x="0" y="910" font-size="40" font-weight="bold">e</text>
<text x="41" y="910" font-size="29.12">Pirt-GCaMP3 with fast blue labeling</text></g>
<g id="panel-f"><line x1="898.75" y1="976.75" x2="1551.25" y2="976.75" stroke="#9a9a9a" stroke-width="1.2"/>
<line x1="898.75" y1="1006.52" x2="1551.25" y2="1006.52" stroke="#9a9a9a" stroke-width="1.2"/>
<line x1="898.75" y1="1036.3" x2="1551.25" y2="1036.3" stroke="#9a9a9a" stroke-width="1.2"/>
<line x1="898.75" y1="1066.08" x2="1551.25" y2="1066.08" stroke="#9a9a9a" stroke-width="1.2"/>
<line x1="898.75" y1="1095.85" x2="1551.25" y2="1095.85" stroke="#9a9a9a" stroke-width="1.2"/>
<line x1="898.75" y1="1125.62" x2="1551.25" y2="1125.62" stroke="#9a9a9a" stroke-width="1.2"/>
<line x1="898.75" y1="1155.4" x2="1551.25" y2="1155.4" stroke="#9a9a9a" stroke-width="1.2"/>
<line x1="898.75" y1="1185.17" x2="1551.25" y2="1185.17" stroke="#9a9a9a" stroke-width="1.2"/>
<line x1="898.75" y1="1214.95" x2="1551.25" y2="1214.95" stroke="#9a9a9a" stroke-width="1.2"/>
<line x1="898.75" y1="1244.72" x2="1551.25" y2="1244.72" stroke="#9a9a9a" stroke-width="1.2"/>
<line x1="898.75" y1="1274.5" x2="1551.25" y2="1274.5" stroke="#9a9a9a" stroke-width="1.2"/>
<line x1="898.75" y1="1304.28" x2="1551.25" y2="1304.28" stroke="#9a9a9a" stroke-width="1.2"/>
<line x1="898.75" y1="1334.05" x2="1551.25" y2="1334.05" stroke="#9a9a9a" stroke-width="1.2"/>
<line x1="898.75" y1="1363.83" x2="1551.25" y2="1363.83" stroke="#9a9a9a" stroke-width="1.2"/>
<line x1="898.75" y1="1393.6" x2="1551.25" y2="1393.6" stroke="#9a9a9a" stroke-width="1.2"/>
<line x1="898.75" y1="1423.38" x2="1551.25" y2="1423.38" stroke="#9a9a9a" stroke-width="1.2"/>
<line x1="898.75" y1="1453.15" x2="1551.25" y2="1453.15" stroke="#9a9a9a" stroke-width="1.2"/>
<line x1="898.75" y1="1482.92" x2="1551.25" y2="1482.92" stroke="#9a9a9a" stroke-width="1.2"/>
<line x1="898.75" y1="1512.7" x2="1551.25" y2="1512.7" stroke="#9a9a9a" stroke-width="1.2"/>
<line x1="898.75" y1="1542.47" x2="1551.25" y2="1542.47" stroke="#9a9a9a" stroke-width="1.2"/>
<line x1="898.75" y1="1572.25" x2="1551.25" y2="1572.25" stroke="#9a9a9a" stroke-width="1.2"/>
<path d="M898.75,1573.5 905,1574.75 912.5,1577.75 922.5,1580.75 927.5,1579.5 935,1575.25 940,1574.75 950,1579 955,1579.5 965,1576 977.5,1574.75 990,1573.25 1010,1572.75 1022.5,1575.25 1040,1576 1055,1574.75 1065,1577.75 1080,1576.5 1090,1573.25 1105,1572.75 1115,1573.5 1125,1575.25 1135,1574 1150,1574.75 1165,1575.75 1180,1576.5 1195,1577.75 1200,1581.5 1210,1582 1225,1583.25 1225,1583.25 1235,1581.5 1250,1580.25 1265,1580.75 1277.5,1580.75 1285,1579 1290,1579.5 1295,1577.75 1312.5,1577 1325,1578.5 1340,1579 1355,1580.25 1370,1579 1376.25,1580.25 1385,1579.5 1390,1577.75 1412.5,1579 1437.5,1580.75 1460,1579 1480,1578.5 1500,1580.25 1525,1579 1533.75,1579 1535,1582.25 1551.25,1583.25" fill="none" stroke="#000" stroke-width="3" stroke-linejoin="round"/>
<path d="M898.75,1544 905,1545.25 912.5,1551.5 922.5,1555.75 927.5,1554.5 935,1550.25 940,1548.5 950,1553.5 957.5,1554 965,1552.25 977.5,1550.25 985,1546.5 987.5,1542.75 1000,1539.5 1010,1539.5 1015,1542 1016.25,1545.25 1022.5,1548.5 1035,1549.5 1047.5,1551.5 1055,1547.75 1057.5,1550.25 1065,1553.5 1080,1551.5 1086.25,1545.25 1087.5,1540.25 1095,1536 1105,1535.75 1113.75,1539.5 1116.25,1545.25 1122.5,1549.5 1135,1547 1150,1546.5 1152.5,1548.5 1160,1549 1161.25,1545.25 1170,1541.5 1180,1540.75 1195,1545.25 1196.25,1550.25 1205,1554 1225,1554.5 1225,1554.5 1235,1552.75 1245,1549.75 1252.5,1547.75 1262.5,1549.75 1277.5,1552 1281.25,1548.5 1290,1546.5 1300,1544 1310,1541.5 1311.25,1539.5 1318.75,1539.5 1320,1542.75 1326.25,1545.25 1327.5,1548.5 1340,1547.25 1350,1547.75 1355,1550.25 1370,1548.25 1376.25,1549 1377.5,1551.5 1390,1549 1412.5,1549.75 1430,1549 1450,1546 1462.5,1544.75 1475,1545.25 1500,1547.75 1510,1551 1525,1549.5 1533.75,1549.5 1535,1553.5 1551.25,1554.5" fill="none" stroke="#000" stroke-width="3" stroke-linejoin="round"/>
<path d="M898.75,1512.75 910,1511.5 918.75,1512.75 920,1515.25 926.25,1516 935,1511.5 945,1511 965,1512 975,1513.5 987.5,1512.75 1000,1517 1005,1517 1015,1512.25 1025,1511 1040,1511.5 1055,1511 1057.5,1515.25 1065,1515.25 1075,1511.5 1087.5,1512.25 1097.5,1517.75 1106.25,1519.5 1115,1516 1116.25,1512.75 1125,1511.5 1136.25,1512.25 1137.5,1516 1145,1515.25 1155,1512 1165,1514 1167.5,1517.75 1180,1518.5 1195,1517.75 1205,1520.25 1215,1520.25 1225,1519.5 1235,1519 1250,1519.5 1265,1517.75 1280,1518.25 1297.5,1519 1305,1518.5 1315,1520.25 1325,1518.5 1338.75,1517.75 1340,1520.25 1347.5,1519.75 1355,1518.25 1375,1517.75 1400,1517.75 1420,1519 1440,1518.5 1462.5,1518.5 1487.5,1518.5 1492.5,1519.75 1505,1520.25 1520,1519 1530,1517.25 1537.5,1519.5 1551.25,1520.75" fill="none" stroke="#000" stroke-width="3" stroke-linejoin="round"/>
<path d="M898.75,1483.25 910,1482.25 920,1484 925,1485.25 940,1482.25 955,1482.75 970,1482.75 980,1484 990,1483.5 1002.5,1487 1015,1484 1022.5,1482.25 1040,1482.75 1055,1482.75 1057.5,1486 1065,1485.25 1075,1482.25 1087.5,1482.75 1097.5,1486.5 1106.25,1489 1115,1485.25 1125,1482.75 1136.25,1483.5 1137.5,1485.25 1145,1485.25 1155,1482.75 1165,1486 1180,1487 1195,1487 1210,1488.25 1225,1487.25 1225,1487.25 1240,1487 1265,1486.5 1290,1486.5 1300,1487.25 1315,1489 1325,1487 1338.75,1486.5 1340,1488.5 1347.5,1487.75 1355,1486.5 1375,1486.5 1400,1487 1425,1487 1450,1486.5 1475,1486.5 1490,1487.25 1492.5,1488.25 1505,1487.75 1520,1486.5 1530,1485.25 1537.5,1487 1551.25,1487.75" fill="none" stroke="#000" stroke-width="3" stroke-linejoin="round"/>
<path d="M898.75,1453.5 910,1454.75 918.75,1457 920,1460.25 927.5,1461 935,1457 945,1455.25 955,1456 965,1455.25 975,1459 977.5,1459 985,1455.25 986.25,1451.5 997.5,1451 1010,1451.5 1020,1454 1035,1453.5 1040,1456 1050,1456.5 1055,1454.75 1057.5,1458.25 1065,1458.25 1075,1455.25 1090,1452 1102.5,1451.5 1115,1452 1125,1454.5 1136.25,1455.25 1137.5,1457.75 1145,1456 1151.25,1452.75 1165,1454.5 1180,1456 1195,1456 1202.5,1460.25 1212.5,1462.25 1222.5,1460.25 1222.5,1460.25 1235,1457.75 1240,1459 1252.5,1456.5 1265,1456 1277.5,1457 1290,1456 1305,1454.75 1320,1456 1337.5,1457 1340,1459 1347.5,1458.5 1352.5,1456.5 1370,1457.75 1382.5,1457 1390,1456 1400,1458.25 1405,1459 1412.5,1456.5 1425,1459 1432.5,1459.75 1445,1457.75 1465,1456 1490,1456.5 1492.5,1459 1505,1459.5 1506.25,1457.25 1515,1458.25 1530,1457 1537.5,1459 1551.25,1460.75" fill="none" stroke="#000" stroke-width="3" stroke-linejoin="round"/>
<path d="M898.75,1424 910,1423.25 915,1422.25 925,1425.75 935,1422.75 942.5,1421.5 955,1424.75 965,1424 975,1422 990,1422 992.5,1426 1002.5,1428.5 1007.5,1429 1008.75,1426 1013.75,1425.25 1015,1427.25 1022.5,1426 1030,1422.25 1052.5,1422 1065,1422 1087.5,1423.25 1097.5,1427 1106.25,1428.25 1115,1425.25 1125,1422.25 1140,1422 1151.25,1422.75 1152.5,1426 1165,1426.5 1166.25,1427.75 1177.5,1426 1180,1428.25 1190,1427 1200,1426.5 1210,1427 1223.75,1429 1223.75,1429 1235,1426.5 1245,1427.75 1252.5,1428.25 1260,1425.25 1265,1424 1266.25,1427.75 1280,1428.25 1282.5,1424 1287.5,1424.75 1288.75,1427.75 1297.5,1428.25 1310,1426.5 1312.5,1428.25 1320,1426.5 1340,1424 1360,1425.25 1370,1424 1376.25,1424.5 1377.5,1428.25 1390,1428.25 1391.25,1424.75 1412.5,1425.25 1432.5,1426 1437.5,1427.25 1450,1426 1460,1427.75 1462.5,1424.75 1470,1425.25 1471.25,1428.5 1485,1428.5 1486.25,1425.75 1505,1426.5 1525,1426 1537.5,1427.25 1551.25,1427.75" fill="none" stroke="#000" stroke-width="3" stroke-linejoin="round"/>
<path d="M898.75,1394 910,1397.75 925,1399.5 935,1396.5 940,1394.75 950,1398.5 955,1400.25 965,1396.5 980,1395.25 990,1393.5 992.5,1394.75 1005,1394 1008.75,1391.5 1013.75,1392.75 1020,1396.5 1030,1397.25 1040,1395.25 1052.5,1393.5 1060,1395.25 1067.5,1398.5 1078.75,1398.5 1080,1395.25 1087.5,1392 1102.5,1391.5 1115,1392.75 1125,1394.75 1140,1394 1150,1395.25 1157.5,1396 1170,1392.75 1177.5,1392.75 1190,1396.5 1205,1399 1223.75,1402 1223.75,1402 1232.5,1397.75 1247.5,1396 1260,1397 1270,1399 1280,1397.75 1285,1394.75 1290,1396 1292.5,1399 1300,1395.25 1310,1393.5 1325,1395.25 1340,1394.75 1355,1397.75 1370,1396.5 1376.25,1397.25 1377.5,1400.25 1383.75,1399.75 1390,1395.25 1395,1393.5 1405,1396 1420,1395.25 1432.5,1397 1435,1400.25 1445,1399.75 1450,1397 1470,1396.5 1487.5,1394.75 1505,1396.5 1525,1397.75 1537.5,1399.75 1551.25,1400.75" fill="none" stroke="#000" stroke-width="3" stroke-linejoin="round"/>
<path d="M898.75,1363.5 910,1366 925,1367.75 935,1364.5 940,1362.75 950,1366 957.5,1368.5 970,1366 980,1362.75 990,1361.5 992.5,1365.25 1002.5,1366.5 1007.5,1366.5 1008.75,1363.5 1013.75,1364 1015,1366.5 1022.5,1366 1030,1363.5 1045,1365.25 1055,1363.5 1065,1364.5 1077.5,1366 1090,1364 1110,1362.75 1120,1365.25 1132.5,1362.25 1145,1362 1151.25,1363.5 1152.5,1366.5 1165,1366.5 1166.25,1364.5 1177.5,1363.5 1190,1366 1200,1367 1202.5,1369.5 1215,1369 1225,1371.5 1225,1371.5 1237.5,1369 1250,1367 1260,1365.25 1267.5,1366 1272.5,1368.5 1282.5,1367.75 1283.75,1364.5 1288.75,1364.5 1290,1367 1297.5,1367.75 1305,1364.5 1320,1364 1330,1367 1340,1365.25 1350,1364.5 1362.5,1366 1375,1365.25 1376.25,1368.5 1390,1368.5 1391.25,1364.5 1405,1365.25 1420,1367.75 1432.5,1367 1435,1370.25 1447.5,1369.5 1460,1366.5 1462.5,1364 1470,1364.5 1471.25,1367.75 1485,1367.75 1486.25,1364.5 1500,1364.5 1512.5,1366.5 1525,1366 1535,1367.75 1551.25,1370.25" fill="none" stroke="#000" stroke-width="3" stroke-linejoin="round"/>
<path d="M898.75,1333.5 915,1333.5 925,1334.75 940,1333.5 952.5,1334.75 965,1332.25 980,1333.5 990,1332.75 993.75,1337 1001.25,1340.25 1007.5,1340.25 1008.75,1337 1020,1334 1032.5,1332.25 1052.5,1332.25 1067.5,1335.25 1082.5,1332.75 1102.5,1335.75 1115,1334 1125,1332.25 1145,1332 1160,1333.5 1170,1336 1185,1334.75 1200,1334.5 1215,1337.75 1223.75,1339 1223.75,1339 1235,1335.25 1250,1336 1265,1336.5 1280,1335.25 1287.5,1335.25 1288.75,1337.75 1297.5,1338.25 1305,1336 1325,1334 1350,1334.5 1375,1334.75 1376.25,1337.75 1390,1337.75 1391.25,1334.5 1412.5,1334 1430,1334.75 1437.5,1337 1450,1334.75 1475,1336 1490,1334.5 1512.5,1334.75 1530,1335.25 1540,1336 1551.25,1337" fill="none" stroke="#000" stroke-width="3" stroke-linejoin="round"/>
<path d="M898.75,1304.25 920,1307 935,1305.25 952.5,1307.25 970,1305.25 990,1304.5 1002.5,1305.75 1015,1304.5 1035,1306 1052.5,1304 1070,1306 1090,1304 1115,1305.25 1140,1304.5 1160,1304 1180,1302 1195,1302.75 1215,1305.25 1225,1306 1225,1306 1235,1303.5 1250,1301.5 1265,1303.5 1280,1302.75 1288.75,1302.75 1290,1306 1297.5,1305.25 1305,1302.25 1325,1303.25 1350,1303.5 1375,1302.75 1390,1304 1400,1302.75 1420,1304 1440,1304.5 1455,1302.75 1475,1303.5 1500,1304 1525,1303.5 1540,1304.5 1551.25,1304" fill="none" stroke="#000" stroke-width="3" stroke-linejoin="round"/>
<path d="M898.75,1274.25 910,1275.5 920,1278.75 927.5,1281.25 935,1280 940,1277 952.5,1278.25 965,1277 975,1278.75 985,1273.75 986.25,1269.25 992.5,1269.25 993.75,1272.5 1005,1271.25 1007.5,1267 1013.75,1268.75 1015,1275 1022.5,1278.75 1027.5,1275 1037.5,1272.5 1050,1275 1065,1278.25 1075,1277 1085,1272 1087.5,1268.75 1100,1267.5 1112.5,1265.75 1116.25,1267.5 1122.5,1272 1135,1275 1145,1272 1146.25,1275 1152.5,1275.5 1155,1270 1167.5,1269.5 1168.75,1272.5 1180,1272 1190,1270 1200,1275 1210,1282.5 1220,1281.25 1225,1280.25 1230,1277.5 1240,1276.25 1245,1273 1252.5,1271.25 1260,1276.25 1267.5,1274.5 1275,1277.5 1285,1276.25 1286.25,1273 1295,1274.5 1300,1271.25 1310,1267.5 1317.5,1267 1325,1270 1335,1273 1350,1273 1360,1275 1370,1277 1376.25,1278.75 1382.5,1273.75 1390,1272.5 1391.25,1268.75 1397.5,1270 1400,1273.75 1412.5,1272.5 1422.5,1274.5 1430,1278.25 1437.5,1277.5 1445,1273 1452.5,1272 1460,1274.5 1465,1271.25 1470,1270 1471.25,1274.5 1482.5,1275 1490,1272 1500,1270 1510,1273 1520,1277 1530,1275 1540,1277 1551.25,1278" fill="none" stroke="#000" stroke-width="3" stroke-linejoin="round"/>
<path d="M898.75,1244.5 910,1246.25 920,1248 921.25,1251.25 927.5,1251.75 935,1248 950,1246.25 965,1247 977.5,1250 985,1246.25 986.25,1242.5 997.5,1241.75 1010,1242.5 1020,1244.25 1035,1243.75 1040,1245.75 1050,1245 1057.5,1248.75 1065,1248.75 1075,1245.75 1090,1242.5 1102.5,1241.25 1115,1242.5 1125,1244.25 1135,1244.25 1140,1247.5 1150,1242.5 1160,1241.75 1170,1238.75 1180,1238 1195,1240 1202.5,1245 1212.5,1249.25 1220,1248 1225,1245.75 1235,1243.75 1245,1245 1260,1243 1280,1244.25 1290,1241.75 1302.5,1238.75 1315,1238.25 1325,1240 1337.5,1241.25 1340,1245 1347.5,1244.25 1355,1241.25 1365,1243.75 1375,1243.25 1387.5,1240 1400,1244.25 1412.5,1242.5 1422.5,1243 1430,1245.75 1440,1243.75 1450,1242.5 1465,1241.25 1475,1241.75 1490,1240.5 1492.5,1243 1505,1245.5 1506.25,1243 1515,1244.25 1530,1243.25 1540,1245 1551.25,1247" fill="none" stroke="#000" stroke-width="3" stroke-linejoin="round"/>
<path d="M898.75,1214.5 910,1210.5 922.5,1208.25 935,1209.5 947.5,1208.25 957.5,1210 965,1213 975,1213.75 985,1213 995,1218 1002.5,1219.25 1025,1218.75 1030,1217 1037.5,1212 1050,1210 1065,1210.5 1082.5,1208.75 1097.5,1210 1110,1209.5 1120,1211.25 1128.75,1212 1130,1215 1136.25,1217 1142.5,1213 1150,1210 1170,1208.75 1185,1212 1200,1216.25 1212.5,1218.75 1220,1217.5 1225,1213.75 1235,1213 1247.5,1214.5 1265,1211.25 1280,1210 1281.25,1212 1295,1212 1297.5,1209.5 1310,1210.75 1325,1213 1340,1213 1350,1214.5 1356.25,1217 1365,1212 1372.5,1210.75 1385,1213.75 1392.5,1217 1400,1215 1410,1214.5 1420,1217.5 1430,1213 1442.5,1211.25 1455,1212.5 1467.5,1210.75 1485,1212 1500,1213.75 1512.5,1216.25 1525,1218 1537.5,1219.25 1551.25,1217" fill="none" stroke="#000" stroke-width="3" stroke-linejoin="round"/>
<path d="M898.75,1183 910,1180.5 930,1179.5 952.5,1180 975,1179.5 985,1181.25 995,1184.5 1001.25,1188 1007.5,1188.75 1013.75,1186.25 1016.25,1182.5 1022.5,1180 1040,1179.5 1060,1180.5 1077.5,1180 1087.5,1183.75 1093.75,1188.75 1102.5,1190 1110,1187.5 1115,1182.5 1122.5,1180.5 1140,1181.25 1157.5,1180 1167.5,1183.75 1177.5,1185.75 1190,1182 1202.5,1180.75 1220,1182 1225,1182.25 1240,1182.5 1252.5,1183 1262.5,1180.75 1280,1181.25 1288.75,1182.5 1289.5,1186.25 1296.25,1187.5 1303.75,1184.5 1310,1185.5 1312.5,1188 1318.75,1187 1320,1183 1327.5,1181.25 1350,1182 1375,1181.25 1400,1182 1425,1181.25 1450,1182 1475,1182 1490,1183 1505,1182 1525,1181.75 1537.5,1183 1551.25,1183.75" fill="none" stroke="#000" stroke-width="3" stroke-linejoin="round"/>
<path d="M898.75,1157 907.5,1156.25 913.75,1152 925,1153.75 935,1152 952.5,1153 970,1152 980,1157 990,1160.5 1002.5,1165 1010,1162.5 1016.25,1157.5 1017.5,1153.75 1025,1152.5 1037.5,1155.5 1050,1153 1055,1152.5 1056.25,1156.25 1062.5,1157 1072.5,1152.5 1080,1152.5 1087.5,1160 1097.5,1163.75 1107.5,1165 1116.25,1161.25 1122.5,1154.5 1130,1152.5 1137.5,1153.25 1138.75,1158.75 1145,1160 1157.5,1155 1167.5,1154.25 1170,1156.25 1180,1155.5 1185,1153 1195,1152.5 1196.25,1147 1205,1145 1220,1145 1225,1145.5 1235,1146.75 1247.5,1146.25 1255,1150 1260,1149.25 1262.5,1146.25 1280,1146.25 1290,1148.25 1297.5,1155 1305,1158 1317.5,1157 1325,1150 1327.5,1147.5 1338.75,1147 1340,1152.5 1347.5,1153.75 1357.5,1147.5 1365,1145 1375,1144.5 1382.5,1147 1385,1151.25 1390,1153 1397.5,1148 1398.75,1146.25 1410,1145.75 1420,1147 1427.5,1143.75 1435,1143.25 1442.5,1146.25 1450,1148 1460,1147.5 1467.5,1150 1480,1147.5 1490,1146.25 1492.5,1151.25 1500,1152.5 1506.25,1150 1507.5,1145.75 1520,1143.75 1522.5,1146.25 1530,1148 1536.25,1147 1537.5,1143 1551.25,1142" fill="none" stroke="#000" stroke-width="3" stroke-linejoin="round"/>
<path d="M898.75,1124.5 910,1122 925,1121.25 935,1122.5 950,1120 965,1120.75 980,1121.25 995,1124.5 1005,1126.25 1015,1123 1030,1120.75 1045,1121.5 1060,1121.25 1075,1120 1086.25,1121.25 1093.75,1126.25 1102.5,1127.5 1112.5,1125 1117.5,1122 1130,1120.75 1145,1121.75 1160,1120.75 1170,1123 1180,1124.5 1190,1122.5 1200,1120.5 1215,1120 1225,1120.25 1232.5,1120.5 1250,1119 1267.5,1120 1282.5,1119.5 1295,1122.5 1307.5,1122 1315,1125.5 1325,1121.25 1340,1120.5 1350,1120.75 1365,1119.5 1380,1120.75 1390,1122 1412.5,1120 1425,1119.25 1450,1120 1475,1120 1490,1120.75 1505,1119.5 1525,1120.75 1536.25,1119.5 1551.25,1119" fill="none" stroke="#000" stroke-width="3" stroke-linejoin="round"/>
<path d="M898.75,1094.25 915,1094.25 930,1095 952.5,1094.25 975,1093.75 990,1093.75 995,1097 1002.5,1099.5 1007.5,1098.75 1015,1095 1035,1093.25 1065,1094.25 1080,1093.25 1097.5,1095.75 1115,1094.25 1140,1093.75 1160,1093.25 1175,1090 1187.5,1088.25 1202.5,1089.5 1215,1091.25 1222.5,1093.25 1222.5,1093.25 1235,1090 1247.5,1089.25 1265,1090.5 1280,1089.5 1287.5,1088 1290,1092.5 1296.25,1093.25 1305,1090 1315,1091.25 1325,1089.5 1340,1089 1360,1089.5 1375,1089.25 1376.25,1092 1390,1092.5 1391.25,1090 1407.5,1090 1425,1089.25 1437.5,1091.25 1455,1089.5 1475,1090 1500,1089.25 1520,1089.25 1530,1091.25 1540,1090 1551.25,1090.75" fill="none" stroke="#000" stroke-width="3" stroke-linejoin="round"/>
<path d="M898.75,1064.5 910,1062.5 918.75,1062.5 920,1065.75 926.25,1066.25 935,1062.5 945,1063.75 955,1061.75 967.5,1061.25 977.5,1065 987.5,1067.5 995,1071.25 1002.5,1073 1010,1070 1015,1063.75 1025,1061.75 1035,1063.75 1040,1065.5 1050,1065 1051.25,1061.75 1055,1061.75 1056.25,1065.75 1065,1066.25 1075,1061.75 1080,1062.5 1087.5,1066.25 1097.5,1068.75 1110,1070 1116.25,1067.5 1122.5,1063.75 1137.5,1062 1138.75,1066.25 1145,1067.5 1157.5,1063 1160,1060 1170,1056.25 1180,1054.5 1181.25,1051.25 1192.5,1049.5 1202.5,1047 1215,1049.5 1225,1046.25 1225,1046.25 1240,1046.25 1252.5,1049.5 1260,1048 1277.5,1047 1290,1048.75 1297.5,1055 1305,1058.75 1312.5,1058 1320,1055 1321.25,1050.5 1327.5,1048.75 1338.75,1048.75 1340,1055 1346.25,1055 1355,1048 1362.5,1045 1372.5,1044.5 1382.5,1048 1385,1052.5 1390,1053.75 1397.5,1050.5 1398.75,1053 1405,1051.25 1412.5,1047 1425,1044.25 1437.5,1045.5 1450,1048 1460,1047 1470,1049.5 1480,1046.25 1491.25,1045 1492.5,1053 1505,1052.5 1506.25,1044.5 1520,1043.25 1522.5,1048 1530,1050.5 1536.25,1050 1537.5,1043.75 1551.25,1043.25" fill="none" stroke="#000" stroke-width="3" stroke-linejoin="round"/>
<path d="M898.75,1033.75 910,1029.5 927.5,1026.25 940,1027.5 952.5,1026.25 965,1028 975,1026.25 985,1028 992.5,1033.75 995,1038.75 1002.5,1043 1007.5,1042.5 1013.75,1038.75 1015,1031.25 1022.5,1026.25 1035,1029.5 1050,1028 1060,1026.25 1067.5,1023.75 1080,1026.25 1086.25,1031.25 1087.5,1036.25 1097.5,1039.5 1110,1037 1116.25,1033.75 1125,1028.75 1140,1028 1152.5,1028.75 1160,1027.5 1170,1030 1180,1028 1181.25,1021.25 1190,1018.75 1195,1013.75 1202.5,1012.5 1205,1007.5 1215,1005.75 1225,1008 1225,1008 1235,1010.75 1245,1010 1252.5,1013.75 1260,1012.5 1261.25,1008.25 1270,1011.25 1275,1013 1288.75,1015 1289.5,1023 1296.25,1026.25 1297.5,1029.25 1303.75,1026.25 1310,1028.75 1318.75,1026.25 1320,1020 1330,1016.25 1340,1015 1350,1012 1360,1013.75 1370,1012.5 1376.25,1008.25 1377.5,1012.5 1383.75,1015 1385,1020.75 1390,1023 1397.5,1020 1398.75,1015 1410,1011.25 1420,1013 1427.5,1008.75 1437.5,1007.5 1442.5,1011.25 1448.75,1016.25 1455,1013.75 1462.5,1012.5 1475,1014.5 1485,1015.5 1500,1015 1512.5,1014.5 1515,1012.5 1525,1013.75 1536.25,1013 1537.5,1008.75 1551.25,1007.5" fill="none" stroke="#000" stroke-width="3" stroke-linejoin="round"/>
<path d="M898.75,1006.5 910,1013.75 925,1019.25 933.75,1016.25 935,1011.25 945,1010.75 952.5,1014.5 965,1015.75 977.5,1012.5 987.5,1005 992.5,1007 1005,1006.25 1007.5,1002.5 1013.75,1005 1015,1010 1022.5,1012.5 1032.5,1009.5 1050,1013.25 1060,1012 1072.5,1013.75 1085,1011.25 1087.5,1006.25 1097.5,1003.25 1110,1003.25 1115,1006.25 1122.5,1011.25 1130,1012.5 1140,1007 1152.5,1006.25 1155,1012 1165,1011.25 1166.25,1006.25 1180,1006.25 1182.5,1008.75 1195,1010 1202.5,1017.5 1210,1019.25 1225,1017.5 1225,1017.5 1240,1017.5 1247.5,1014.5 1257.5,1012.5 1270,1015 1280,1016.25 1290,1012.5 1300,1007 1315,1005 1322.5,1007 1330,1012.5 1340,1013 1350,1011.25 1362.5,1014.5 1375,1012.5 1390,1013.75 1400,1012 1412.5,1013 1425,1015.5 1442.5,1015.75 1450,1013.75 1462.5,1013 1463.75,1008 1470,1008 1471.25,1013.75 1485,1015 1487.5,1008.75 1497.5,1008 1505,1012.5 1520,1016.25 1530,1012.5 1540,1015 1551.25,1018" fill="none" stroke="#4254a8" stroke-width="3" stroke-linejoin="round"/>
<path d="M898.75,975 910,970 920,967.5 930,968.75 940,971.25 952.5,967.5 965,969.5 977.5,970 990,972.5 1000,976.25 1007.5,978.75 1015,976.25 1016.25,972.5 1027.5,969.5 1040,968 1052.5,970 1065,967.5 1080,967 1086.25,970 1087.5,975 1095,979.25 1105,978.75 1115,972.5 1125,970 1140,971.25 1152.5,969.5 1165,967.5 1177.5,965 1190,960 1200,958.75 1215,958.75 1225,958.75 1225,958.75 1240,959.25 1250,962 1260,958.75 1275,958.75 1287.5,960 1290,965 1297.5,965.75 1303.75,962.5 1312.5,966.25 1317.5,967.5 1318.75,962.5 1325,959.5 1337.5,960.5 1350,959.25 1375,958 1395,961.25 1412.5,958.75 1425,960 1440,958.25 1462.5,961.25 1475,959.5 1487.5,962 1505,959.5 1522.5,962 1535,961.25 1536.25,958.75 1551.25,958.75" fill="none" stroke="#4254a8" stroke-width="3" stroke-linejoin="round"/>
<line x1="1116.25" y1="928.6" x2="1116.25" y2="1611.8" stroke="#e8262a" stroke-width="1.6" stroke-dasharray="2.4 1.5"/>
<line x1="1225" y1="928.6" x2="1225" y2="1611.8" stroke="#e8262a" stroke-width="1.6" stroke-dasharray="2.4 1.5"/>
<rect x="1389.5" y="1533" width="144" height="62" fill="#fff" fill-opacity="0.62"/>
<text x="1376" y="1569">300%</text>
<text x="1484" y="1554.5" text-anchor="middle">ΔF</text>
<line x1="1463.5" y1="1561" x2="1505" y2="1561" stroke="#000" stroke-width="2.4"/>
<text x="1471.5" y="1587.8">F</text>
<text x="1488.3" y="1596" font-size="20">0</text>
<line x1="1528.2" y1="1531.5" x2="1528.2" y2="1590.3" stroke="#000" stroke-width="4"/>
<rect x="898.75" y="928.6" width="652.5" height="683.2" fill="none" stroke="#000" stroke-width="3.3"/>
<line x1="892.5" y1="976.75" x2="898.75" y2="976.75" stroke="#000" stroke-width="2"/>
<text x="881.2" y="987.05" text-anchor="end">1</text>
<line x1="892.5" y1="1006.52" x2="898.75" y2="1006.52" stroke="#000" stroke-width="2"/>
<line x1="892.5" y1="1036.3" x2="898.75" y2="1036.3" stroke="#000" stroke-width="2"/>
<text x="881.2" y="1046.6" text-anchor="end">3</text>
<line x1="892.5" y1="1066.08" x2="898.75" y2="1066.08" stroke="#000" stroke-width="2"/>
<line x1="892.5" y1="1095.85" x2="898.75" y2="1095.85" stroke="#000" stroke-width="2"/>
<text x="881.2" y="1106.15" text-anchor="end">5</text>
<line x1="892.5" y1="1125.62" x2="898.75" y2="1125.62" stroke="#000" stroke-width="2"/>
<line x1="892.5" y1="1155.4" x2="898.75" y2="1155.4" stroke="#000" stroke-width="2"/>
<text x="881.2" y="1165.7" text-anchor="end">7</text>
<line x1="892.5" y1="1185.17" x2="898.75" y2="1185.17" stroke="#000" stroke-width="2"/>
<line x1="892.5" y1="1214.95" x2="898.75" y2="1214.95" stroke="#000" stroke-width="2"/>
<text x="881.2" y="1225.25" text-anchor="end">9</text>
<line x1="892.5" y1="1244.72" x2="898.75" y2="1244.72" stroke="#000" stroke-width="2"/>
<line x1="892.5" y1="1274.5" x2="898.75" y2="1274.5" stroke="#000" stroke-width="2"/>
<text x="881.2" y="1284.8" text-anchor="end">11</text>
<line x1="892.5" y1="1304.28" x2="898.75" y2="1304.28" stroke="#000" stroke-width="2"/>
<line x1="892.5" y1="1334.05" x2="898.75" y2="1334.05" stroke="#000" stroke-width="2"/>
<text x="881.2" y="1344.35" text-anchor="end">13</text>
<line x1="892.5" y1="1363.83" x2="898.75" y2="1363.83" stroke="#000" stroke-width="2"/>
<line x1="892.5" y1="1393.6" x2="898.75" y2="1393.6" stroke="#000" stroke-width="2"/>
<text x="881.2" y="1403.9" text-anchor="end">15</text>
<line x1="892.5" y1="1423.38" x2="898.75" y2="1423.38" stroke="#000" stroke-width="2"/>
<line x1="892.5" y1="1453.15" x2="898.75" y2="1453.15" stroke="#000" stroke-width="2"/>
<text x="881.2" y="1463.45" text-anchor="end">17</text>
<line x1="892.5" y1="1482.92" x2="898.75" y2="1482.92" stroke="#000" stroke-width="2"/>
<line x1="892.5" y1="1512.7" x2="898.75" y2="1512.7" stroke="#000" stroke-width="2"/>
<text x="881.2" y="1523" text-anchor="end">19</text>
<line x1="892.5" y1="1542.47" x2="898.75" y2="1542.47" stroke="#000" stroke-width="2"/>
<line x1="892.5" y1="1572.25" x2="898.75" y2="1572.25" stroke="#000" stroke-width="2"/>
<text x="881.2" y="1582.55" text-anchor="end">21</text>
<line x1="898.75" y1="1611.8" x2="898.75" y2="1618.3" stroke="#000" stroke-width="2"/>
<text x="898.75" y="1650.8" text-anchor="middle">0</text>
<line x1="1007.5" y1="1611.8" x2="1007.5" y2="1618.3" stroke="#000" stroke-width="2"/>
<text x="1007.5" y="1650.8" text-anchor="middle">15</text>
<line x1="1116.25" y1="1611.8" x2="1116.25" y2="1618.3" stroke="#000" stroke-width="2"/>
<text x="1116.25" y="1650.8" text-anchor="middle">30</text>
<line x1="1225" y1="1611.8" x2="1225" y2="1618.3" stroke="#000" stroke-width="2"/>
<text x="1225" y="1650.8" text-anchor="middle">45</text>
<line x1="1333.75" y1="1611.8" x2="1333.75" y2="1618.3" stroke="#000" stroke-width="2"/>
<text x="1333.75" y="1650.8" text-anchor="middle">60</text>
<line x1="1442.5" y1="1611.8" x2="1442.5" y2="1618.3" stroke="#000" stroke-width="2"/>
<text x="1442.5" y="1650.8" text-anchor="middle">75</text>
<line x1="1551.25" y1="1611.8" x2="1551.25" y2="1618.3" stroke="#000" stroke-width="2"/>
<text x="1551.25" y="1650.8" text-anchor="middle">90</text>
<text x="1224.5" y="1692.8" text-anchor="middle">Time (s)</text>
<text transform="translate(827.5,1273.5) rotate(-90)" text-anchor="middle">Cell Number</text>
<text x="815" y="910" font-size="40" font-weight="bold">f</text>
<text x="855" y="910" font-size="29.12">Pirt-GCaMP3 with fast blue labeling</text></g>
</svg></body></html>
